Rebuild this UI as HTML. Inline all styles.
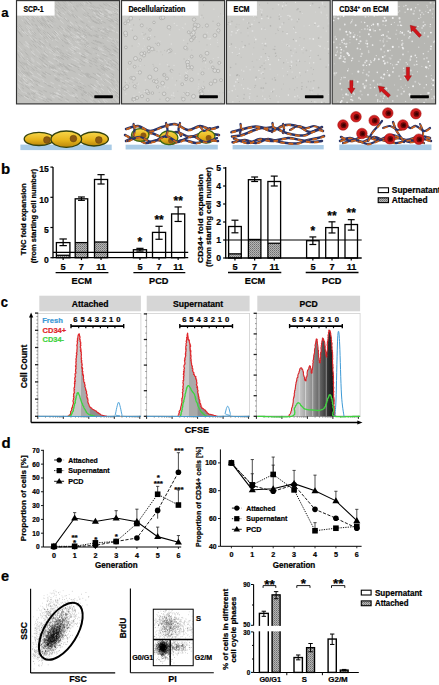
<!DOCTYPE html>
<html><head><meta charset="utf-8"><style>
html,body{margin:0;padding:0;background:#fff;overflow:hidden}
svg{display:block}
text{font-family:"Liberation Sans",sans-serif;stroke:currentColor;stroke-width:0.22px}
</style></head><body>
<svg width="439" height="685" viewBox="0 0 439 685">
<rect width="439" height="685" fill="#fff"/>
<defs>
<pattern id="hatch" width="2" height="2" patternUnits="userSpaceOnUse">
<rect width="2" height="2" fill="#b4b4b4"/><rect width="1" height="1" fill="#6e6e6e"/><rect x="1" y="1" width="1" height="1" fill="#8a8a8a"/>
</pattern>
<linearGradient id="cellg" x1="0" y1="0" x2="0" y2="1">
<stop offset="0" stop-color="#f7d64a"/><stop offset="0.55" stop-color="#e7b51c"/><stop offset="1" stop-color="#b9860c"/>
</linearGradient>
<radialGradient id="redc" cx="0.5" cy="0.5" r="0.5">
<stop offset="0" stop-color="#5a0000"/><stop offset="0.45" stop-color="#7a0a0a"/><stop offset="0.55" stop-color="#c41a1a"/><stop offset="1" stop-color="#d42020"/>
</radialGradient>
<filter id="noise1" x="0" y="0" width="1" height="1">
<feTurbulence type="fractalNoise" baseFrequency="0.9" numOctaves="2" seed="3" result="n"/>
<feColorMatrix type="matrix" values="0 0 0 0 0.5  0 0 0 0 0.5  0 0 0 0 0.5  0.6 0 0 0 -0.2" in="n" result="m"/>
<feComposite in="m" in2="SourceGraphic" operator="in"/>
</filter>
</defs>
<text x="1.30" y="16.80" font-size="13.2" font-weight="bold" fill="#000" color="#000" text-anchor="start">a</text>
<rect x="16.50" y="0.60" width="103.10" height="103.30" fill="#c3c3c0" stroke="none" stroke-width="1"/>
<path d="M48.9 15.3L52.0 18.9M25.3 42.4L28.8 46.5M111.0 63.8L114.7 66.4M73.2 40.1L78.3 43.2M27.2 58.0L29.4 60.3M32.3 49.9L34.1 51.9M23.7 10.1L26.1 12.6M44.8 38.9L48.2 42.3M84.9 39.3L87.8 40.8M85.0 52.5L89.2 54.6M31.9 10.7L34.4 13.6M111.9 61.1L115.4 63.4M108.1 76.7L110.9 78.9M36.2 49.5L39.8 53.1M100.0 48.9L104.3 51.0M18.2 80.3L22.0 83.6M84.4 54.2L88.2 56.0M105.0 6.9L107.8 8.5M93.3 51.8L97.3 53.8M30.4 12.6L33.1 15.7M113.7 11.7L116.8 13.2M106.5 28.3L108.8 29.5M95.9 8.9L100.6 11.9M57.7 92.5L61.9 94.6M42.5 80.9L47.7 83.9M115.2 98.2L118.6 102.2M21.4 19.3L23.7 21.8M44.5 66.6L47.3 68.6M107.3 75.9L110.8 78.7M24.8 4.5L28.2 7.9M54.6 46.3L56.8 48.0M78.8 69.1L82.6 71.0M24.2 92.1L27.1 94.0M54.1 92.4L59.3 94.9M29.5 82.8L33.0 85.3M99.5 12.6L104.5 15.4M92.2 86.4L95.1 88.4M107.9 94.5L111.0 97.6M40.5 26.1L43.4 29.5M68.5 79.8L73.4 82.2M59.2 31.4L63.2 35.0M102.4 98.1L104.8 100.4M38.5 14.9L42.3 19.5M83.4 93.6L86.2 95.4M61.4 72.4L64.6 74.0M61.3 11.9L63.2 13.9M21.1 4.6L23.1 6.4M52.2 33.5L56.5 37.5M45.8 73.0L49.7 75.4M97.7 14.2L101.4 16.3M92.2 26.1L94.6 27.4M105.2 99.6L107.6 102.0M90.9 85.3L94.9 88.0M61.0 26.2L64.9 29.7M19.7 73.3L23.9 77.2M80.8 40.1L84.2 42.0M60.5 16.6L62.5 18.7M47.5 61.4L51.4 64.1M20.4 56.3L23.8 60.1M25.8 44.6L28.6 47.8M105.4 65.8L109.8 68.7M102.0 99.8L105.6 103.4M105.3 17.7L110.0 20.1M71.1 58.7L76.1 61.3M77.8 44.2L81.6 46.3M29.7 22.9L32.8 26.6M110.5 74.3L113.1 76.4M24.9 66.5L27.2 68.6M62.8 84.9L67.2 87.1M108.0 15.9L110.3 17.1M77.9 16.4L82.6 20.0M19.4 14.1L22.7 17.5M27.8 21.5L29.7 23.7M111.2 91.3L114.8 94.9M99.1 64.3L102.1 66.0M68.4 10.4L71.4 13.3M69.7 21.9L74.0 25.4M35.8 76.6L40.7 79.9M110.5 24.5L113.3 25.8M65.1 100.0L69.0 102.2M105.7 75.3L108.9 77.7M18.5 25.8L21.9 29.6M115.2 19.4L118.6 21.3M32.0 30.8L34.5 33.8M69.3 35.2L73.0 37.8M32.8 89.9L36.8 92.3M40.1 14.3L42.8 17.6M65.5 54.6L70.3 57.3M29.6 98.6L32.0 100.0M98.0 48.3L102.6 50.7M30.8 67.8L34.6 71.0M27.3 19.1L29.0 21.1M73.8 92.9L77.4 94.9M38.4 16.2L40.1 18.2M17.5 66.8L21.0 71.1M62.6 94.5L65.6 96.0M43.0 15.5L46.7 19.9M85.0 92.3L88.1 94.4M62.2 8.8L65.8 12.7M40.8 93.3L44.5 95.2M75.9 35.3L79.6 37.6M116.4 39.2L118.6 40.4M72.0 88.1L75.6 90.0M101.9 64.5L106.8 67.5M110.3 6.9L114.2 9.0M83.8 30.7L87.7 33.0M95.6 16.3L100.3 19.1M22.4 73.5L25.1 75.8M88.1 20.9L90.4 22.4M20.0 70.7L23.3 73.8M51.0 93.9L56.3 96.5M94.2 87.5L97.8 90.1M67.5 54.0L71.3 56.1M26.5 25.0L30.0 29.1M40.5 45.1L43.2 47.7M75.4 77.5L77.9 78.8M76.6 61.7L78.9 62.9M23.5 43.7L26.3 46.9M78.9 81.6L83.8 84.3M36.5 42.6L40.4 46.7M111.1 68.4L114.6 70.9M75.8 35.8L80.9 38.9M116.2 58.3L118.6 60.6M31.1 52.3L34.0 55.4M78.2 82.0L80.6 83.3M52.3 17.7L54.6 20.2M19.8 72.8L22.0 74.9M41.2 85.8L44.5 87.6M59.8 77.0L62.5 78.4M108.8 67.7L112.5 70.3M27.3 76.9L31.1 79.9M74.9 24.7L78.7 27.5M20.9 90.5L23.8 92.6M36.1 55.4L37.9 57.2M81.4 8.2L85.3 11.4M89.4 100.1L92.9 103.0M34.2 89.9L38.0 92.1M106.7 57.3L111.4 60.1M113.0 20.3L116.8 22.1M63.0 13.0L65.0 15.1M33.3 75.4L36.3 77.6M60.1 80.2L63.9 82.0M65.7 49.7L67.9 51.1M55.3 88.3L59.5 90.3M18.1 45.7L22.0 50.2M74.1 59.8L76.7 61.1M106.5 28.8L109.5 30.3M92.5 63.9L95.4 65.4M89.6 96.9L93.3 99.7M17.5 27.3L20.1 30.8M114.3 40.6L118.6 43.4M31.6 63.6L34.5 66.2M106.7 40.2L109.6 41.6M111.9 14.9L115.1 16.4M103.2 100.2L105.7 102.7M107.0 15.9L111.5 18.2M114.6 4.5L117.5 6.1M31.1 74.5L34.5 77.1M68.4 84.6L73.7 87.3M43.5 97.9L46.4 99.3M57.3 56.6L60.4 58.7M115.5 82.9L118.6 86.2M100.1 78.7L104.7 82.1M70.5 31.9L75.4 35.3M74.3 57.7L79.7 60.4M98.1 47.0L102.4 49.1M29.2 16.1L31.4 18.7M114.3 85.6L117.5 88.8M54.2 53.4L57.7 55.8M56.1 13.6L59.5 17.4M83.4 75.1L86.8 77.0M93.7 12.9L96.4 14.7M100.7 15.1L104.2 17.0M71.9 52.2L75.4 54.0M102.3 27.0L105.2 28.4M36.1 92.9L40.0 95.0M104.2 6.8L107.6 8.8M68.3 47.7L71.0 49.4M86.9 45.4L90.5 47.1M65.3 1.8L68.8 5.7M108.6 4.1L112.6 6.4M50.3 95.4L54.6 97.5M28.0 16.7L30.6 19.6M52.8 67.6L55.2 69.0M67.1 90.5L69.4 91.6M24.9 17.1L28.5 21.2M40.6 78.4L44.2 80.6M98.7 8.3L101.8 10.3M36.2 93.3L40.5 95.7M29.1 83.2L33.9 86.5M46.0 97.1L49.9 99.1M73.1 93.9L78.0 96.7M17.6 49.9L19.3 51.9M66.2 70.6L68.5 71.7M30.8 59.2L34.1 62.3M78.6 24.7L82.9 27.6M48.6 84.4L52.3 86.3M101.5 13.1L105.0 15.1M75.7 36.4L80.8 39.5M80.6 97.4L84.5 100.0M85.1 93.7L87.4 95.2M47.4 36.4L50.6 39.5M70.0 3.2L73.6 6.9M111.4 41.8L115.7 44.0M91.7 8.0L96.4 11.2M88.7 7.3L91.3 9.2" stroke="#d4d4d2" stroke-width="0.7" fill="none"/>
<path d="M98.3 10.2L102.1 12.6M72.2 14.0L75.2 16.6M86.0 25.2L89.9 27.6M65.9 35.1L69.2 37.6M61.1 87.8L66.3 90.4M28.0 61.1L30.0 63.1M111.9 54.0L114.5 55.6M52.1 22.7L55.1 25.9M95.7 48.5L98.5 49.9M63.4 34.5L66.7 37.1M66.5 77.6L69.8 79.2M105.6 66.8L110.1 69.7M58.2 92.8L62.0 94.7M60.5 62.2L64.2 64.3M48.8 73.6L51.0 74.9M62.2 71.4L65.6 73.2M43.7 13.2L45.3 15.1M81.2 55.4L86.2 57.8M22.2 67.2L24.9 69.9M41.7 96.9L47.0 99.5M25.9 82.8L28.3 84.6M89.3 65.7L91.7 66.9M61.8 6.9L65.7 11.1M49.1 65.8L53.3 68.5M81.4 29.9L83.6 31.3M29.0 65.4L31.0 67.3M91.3 42.4L94.8 44.2M44.5 98.1L47.1 99.4M113.7 50.3L116.1 51.7M86.8 12.4L89.0 14.0M110.9 20.4L114.0 21.9M35.7 80.3L40.0 83.1M65.4 92.4L67.8 93.6M31.6 40.1L33.7 42.6M25.6 71.5L28.0 73.6M35.5 24.2L37.7 26.9M39.8 5.3L42.8 8.8M98.3 42.1L101.7 43.7M47.5 20.4L51.0 24.3M64.2 41.3L68.6 44.3M25.6 62.9L28.3 65.6M80.1 86.5L84.1 88.8M61.7 45.1L63.8 46.6M115.0 47.5L118.5 49.6M94.6 52.6L97.0 53.7M77.6 26.2L80.6 28.3M44.2 82.8L46.8 84.3M112.6 48.9L116.5 51.2M50.1 8.9L52.2 11.4M22.2 57.4L24.6 60.0M52.2 22.8L55.3 26.1M57.3 27.5L59.1 29.3M105.4 60.3L109.3 62.6M32.7 92.4L35.2 93.9M80.9 97.6L83.6 99.4M49.0 23.8L52.8 28.0M95.0 40.2L99.0 42.2M86.6 75.0L89.0 76.3M91.7 20.5L96.8 23.4M73.9 29.6L77.2 31.9M112.4 59.6L117.2 62.9M53.8 30.9L56.7 33.7M110.4 13.7L114.5 15.7M33.2 44.0L36.7 47.8M66.8 27.1L70.8 30.4M90.5 91.6L93.8 94.0M74.3 65.5L79.3 67.9M41.6 42.9L44.5 45.8M31.7 78.5L36.5 81.8M107.6 63.5L111.7 66.2M42.9 22.5L46.2 26.4M37.8 7.9L40.1 10.5M50.8 15.1L54.5 19.4M26.1 66.6L28.8 69.2M56.3 56.4L59.6 58.5M95.2 91.5L98.8 94.4M35.6 4.5L37.4 6.4M81.1 94.7L83.4 96.1M88.8 2.3L90.8 3.9M44.1 62.8L48.0 65.6M45.1 13.9L48.7 18.2M30.4 98.2L35.0 100.8M39.1 58.2L43.5 61.8M25.6 20.4L29.2 24.6M58.3 95.5L63.0 97.8M41.9 56.9L45.6 59.9M58.9 25.8L60.8 27.6M75.3 21.4L77.4 23.1M18.3 60.3L21.3 63.6M98.5 86.0L100.7 87.6M20.3 64.9L22.6 67.4M43.2 54.4L47.6 58.0M28.0 59.4L32.1 63.5M73.7 27.9L77.9 30.9M20.1 34.2L22.1 36.6M22.1 2.7L25.3 5.7M99.2 36.3L103.8 38.5M77.3 85.7L82.0 88.3M58.0 10.9L60.7 13.8M74.0 50.4L79.2 53.2M31.5 86.0L34.4 87.9M45.5 35.9L48.1 38.6M57.0 50.7L61.0 53.4M47.4 98.7L52.3 101.0M67.4 19.8L69.7 21.9M86.3 2.3L88.2 3.9M17.5 30.4L20.2 34.5M18.4 3.9L20.7 6.0M72.3 87.8L77.2 90.4M74.6 96.9L78.1 99.0M40.9 23.1L42.8 25.5M113.9 7.6L118.2 9.9M75.4 37.9L78.2 39.7M67.2 12.8L70.9 16.3M48.9 67.5L51.4 69.0M70.7 63.7L75.9 66.2M116.6 62.6L118.6 64.5M67.5 68.9L70.4 70.4M61.0 58.0L64.1 59.8M24.2 71.8L28.6 75.7M26.9 72.7L29.6 75.0M39.0 38.3L40.7 40.2M25.2 32.8L27.8 35.9M106.8 86.6L111.1 90.5M84.7 46.1L87.2 47.4M53.6 59.0L56.9 61.2M69.5 25.8L72.8 28.5M61.7 54.9L66.0 57.4M96.3 14.3L99.9 16.5M88.3 77.0L90.8 78.4M99.0 13.3L102.3 15.2M111.9 73.4L113.9 75.0M52.0 36.3L54.7 38.8M52.4 70.7L54.6 72.0M103.2 67.5L107.7 70.4M23.8 62.4L27.1 65.7M44.1 50.9L46.7 53.1M67.3 64.7L70.6 66.4M55.1 77.9L60.2 80.5M23.5 30.8L25.8 33.5M75.2 8.9L77.5 11.1M38.8 40.8L41.0 43.1M103.1 3.6L106.6 5.8M32.6 2.7L34.8 5.0M82.2 61.4L85.4 63.0M81.0 55.9L85.5 58.0M110.6 63.6L113.0 65.3M66.9 56.8L69.6 58.3M46.4 100.7L49.3 102.1M69.5 1.0L71.7 3.5M106.5 64.6L109.3 66.4M77.7 68.9L81.0 70.5M106.8 48.1L111.2 50.5M109.0 53.8L112.7 56.0M64.8 67.0L69.0 69.1M103.7 15.7L106.9 17.4M114.4 19.7L118.3 21.6M89.9 2.0L92.1 3.7M44.9 71.6L49.4 74.5M21.8 87.4L24.0 89.1M36.9 28.6L39.2 31.4M92.4 77.0L97.3 80.0M97.3 73.3L100.7 75.5M115.2 91.0L118.6 94.7M59.2 63.7L61.7 65.1M20.1 79.9L22.4 81.9M69.5 34.2L71.7 35.8M90.4 83.8L94.8 86.7M32.9 38.8L36.1 42.4M47.0 31.9L50.8 35.8M35.7 84.2L38.3 85.9M83.6 99.0L87.7 101.9M96.1 36.1L98.8 37.4M97.3 7.2L100.3 9.1M43.4 90.2L47.1 92.1M21.0 28.2L23.8 31.5M31.2 67.5L35.1 70.8M78.2 28.7L80.4 30.3M44.2 6.4L46.8 9.5M113.2 54.2L116.0 55.9M95.0 21.6L99.8 24.2M88.8 59.6L92.3 61.4M90.6 95.1L95.1 98.6M99.4 64.9L103.8 67.5" stroke="#aeaeab" stroke-width="0.7" fill="none"/>
<path d="M38.2 9.1L40.8 12.1M28.1 30.8L31.5 34.9M71.9 7.3L73.8 9.2M75.1 46.5L78.2 48.2M22.8 77.9L25.0 79.8M55.9 92.8L59.7 94.6M99.7 19.4L102.7 21.1M58.2 37.5L61.7 40.3M23.1 7.6L25.4 9.9M64.0 70.2L67.8 72.2M86.1 27.1L89.3 29.1M49.2 22.3L52.8 26.3M96.6 82.4L100.8 85.3M112.1 37.7L115.1 39.2M99.9 13.0L103.2 15.0M55.9 95.6L60.4 97.8M81.9 36.0L85.7 38.1M68.9 94.4L72.5 96.3M31.3 51.1L35.1 55.0M77.6 78.9L80.3 80.3M29.8 88.7L34.8 91.9M90.4 9.8L95.0 13.0M79.2 52.6L81.7 53.8M69.6 24.9L71.9 26.8M69.6 21.3L72.7 23.9M17.9 73.8L21.1 76.8M47.7 22.3L49.9 24.8M23.8 75.0L26.4 77.2M48.6 3.3L52.2 7.6M20.9 3.0L23.5 5.4M24.1 96.3L28.8 99.2M78.4 74.2L83.2 76.6M98.3 59.1L103.2 61.8M42.1 8.1L44.4 10.8M78.5 65.7L81.0 66.9M99.0 29.3L104.1 31.9M21.4 73.9L24.5 76.6M116.5 46.2L118.6 47.8M25.5 78.9L27.5 80.5M105.4 66.0L107.7 67.5M23.7 50.4L25.8 52.8M27.2 62.8L30.6 66.0M116.6 93.8L118.6 96.5M51.9 96.9L54.5 98.2M96.1 74.4L100.6 77.3M34.0 13.7L36.7 16.9M53.9 75.0L56.7 76.6M35.7 7.2L38.0 9.7M115.3 11.3L118.6 13.2M36.0 7.9L38.8 11.1M26.9 60.0L30.2 63.3M56.8 89.4L60.5 91.2M34.2 35.6L36.2 38.0M108.8 11.9L112.5 13.9M106.2 62.6L110.8 65.5M101.5 84.0L104.0 85.9M28.7 24.8L31.9 28.6M35.5 99.2L39.3 101.2M67.6 33.1L69.7 34.7M29.6 36.6L33.1 40.7M30.0 94.8L32.9 96.5M21.1 53.7L23.7 56.6M71.8 95.4L74.5 96.8M18.4 26.8L20.6 29.3M51.2 9.7L54.4 13.4M42.5 95.6L45.6 97.2M65.9 38.3L70.5 41.5M81.1 35.9L84.3 37.8M39.5 33.6L42.7 37.2M76.9 36.0L79.8 37.7M41.2 96.1L46.6 98.8M112.6 11.3L116.0 13.0M95.9 74.3L99.3 76.4M40.5 40.2L44.0 43.8M101.8 52.7L106.1 55.0M107.4 11.8L110.4 13.4M51.0 85.8L54.7 87.6M67.8 41.5L72.7 44.6M37.5 12.9L40.9 16.9M63.5 57.4L66.4 59.0M63.2 30.0L66.6 32.9M93.7 47.8L98.4 50.1M98.9 90.9L102.9 94.3M64.3 91.4L68.7 93.7M97.2 10.3L100.7 12.5M22.2 31.1L23.8 33.0M37.6 67.5L40.9 69.9M107.9 66.5L111.1 68.6M83.4 60.1L88.7 62.7M87.8 24.9L92.2 27.5M108.1 37.4L112.7 39.7M24.4 31.2L27.6 35.0M53.1 58.4L56.5 60.6M31.0 80.6L34.0 82.8M48.8 60.9L53.7 64.2M76.5 31.8L79.8 34.0M53.7 69.3L57.7 71.6M70.4 49.5L73.7 51.4M47.7 6.3L50.2 9.2M48.9 51.6L51.4 53.6M73.6 36.5L78.1 39.3M113.3 26.8L115.6 28.0M56.1 45.9L58.6 47.8M21.8 14.6L25.3 18.4M65.0 17.7L67.4 20.0M108.0 89.8L111.0 92.6M109.5 86.7L113.5 90.6M27.5 46.1L30.3 49.2M113.5 6.4L118.5 9.0M72.8 84.9L75.3 86.2M113.7 44.4L116.7 46.0M109.0 10.9L112.2 12.6M17.5 83.8L19.8 86.6M74.0 14.8L76.4 16.8M104.9 73.6L109.1 76.6M36.7 61.7L40.5 64.8M25.4 41.0L28.7 44.9M40.9 9.1L43.9 12.6M57.1 14.0L60.1 17.4M30.9 57.5L34.6 61.1M83.3 2.2L85.5 4.1M27.2 13.2L28.9 15.1M111.6 30.0L114.8 31.5M106.2 9.3L110.2 11.5M44.9 45.8L48.6 49.1M38.3 96.8L42.8 99.1M58.4 68.1L61.0 69.5M43.0 63.7L46.8 66.5M54.5 30.5L57.7 33.5M78.8 53.2L83.6 55.6M85.2 59.2L87.9 60.5M103.0 95.8L105.0 97.7M19.1 88.0L21.3 89.7M99.2 36.4L102.2 37.9M83.2 35.4L85.8 36.9M25.5 26.9L29.0 31.0M71.3 47.4L75.8 50.0M67.0 23.4L70.1 26.1M56.0 9.4L58.1 11.8M107.5 80.9L111.4 84.2M23.5 31.9L25.7 34.4M93.4 88.6L97.8 91.9M34.3 11.4L38.0 15.7M88.3 5.2L90.4 6.9M103.5 59.3L107.7 61.8M101.0 78.6L104.4 81.1M33.8 16.4L37.2 20.4M51.2 9.5L54.3 13.1M29.8 71.2L33.5 74.2M86.7 1.0L90.5 4.2M110.1 36.4L113.3 37.9M71.5 77.4L74.3 78.7M75.7 46.9L80.2 49.4M28.3 29.5L30.7 32.4M94.1 84.9L97.0 87.0M111.9 53.1L116.7 56.0M25.5 4.6L28.4 7.4M22.1 0.9L26.4 4.9M68.7 64.1L73.5 66.6M40.8 44.9L43.3 47.3M38.1 84.5L42.2 86.9M26.7 83.9L29.8 86.2M30.6 78.8L32.8 80.4M20.9 4.5L24.5 7.9M111.4 2.5L114.6 4.3M52.7 53.8L55.6 55.9M48.0 34.1L50.9 37.0M108.6 91.3L110.6 93.2M95.9 80.4L98.7 82.2M104.8 78.9L108.1 81.6M97.9 100.6L100.1 102.7M71.6 94.8L74.8 96.6M45.2 51.3L47.4 53.1M23.6 82.2L27.1 85.0M50.1 68.6L54.8 71.4M43.6 52.5L48.1 56.2M53.6 15.8L55.6 18.1M56.4 92.6L61.6 95.2M19.2 2.4L22.9 5.7M49.0 48.8L53.4 52.3M47.6 61.4L52.4 64.7M96.1 15.8L101.0 18.6M22.4 10.9L26.5 15.1M51.0 21.3L55.0 25.7M56.5 32.5L59.4 35.2M55.2 39.3L58.3 41.8M33.3 36.8L36.5 40.4M85.7 46.0L89.4 47.9M51.1 39.2L53.0 41.0M88.3 28.6L91.5 30.4M59.7 61.9L62.6 63.6M54.2 58.3L59.0 61.4M73.7 2.0L76.6 5.1M76.9 41.4L81.3 43.8M66.1 1.6L69.4 5.3M96.9 54.8L99.6 56.1M49.1 85.4L51.8 86.8M28.3 84.0L30.6 85.7M20.4 52.3L22.3 54.4M58.3 85.1L60.8 86.3M100.7 88.0L103.9 90.7M43.1 11.4L45.2 13.9M53.4 20.3L56.1 23.2M64.9 80.1L68.9 82.1M105.2 9.3L109.1 11.5M50.4 82.1L54.1 84.0M84.4 16.0L87.5 18.2M22.8 78.6L26.9 82.0M57.4 54.9L60.2 56.7M84.3 4.4L88.4 7.9M55.9 34.3L58.1 36.3M17.8 86.4L20.0 88.3M71.6 45.5L76.0 48.1M113.8 78.5L116.6 81.0M99.1 71.6L103.9 74.7M56.5 50.9L59.5 53.0M37.3 73.4L41.6 76.4M76.5 51.8L80.6 54.0M113.4 88.4L116.7 91.7M60.1 20.0L63.7 23.5M116.1 32.0L118.4 33.2M95.1 48.4L100.0 50.8M38.1 26.2L39.8 28.2" stroke="#dadad8" stroke-width="0.7" fill="none"/>
<path d="M65.4 53.9L70.0 56.5M50.5 35.6L53.6 38.5M22.3 70.5L25.8 73.8M110.1 36.5L114.2 38.6M60.6 55.5L65.4 58.4M34.6 23.9L36.7 26.5M56.2 41.0L58.4 42.8M101.5 99.9L104.5 102.8M24.6 95.3L28.8 98.0M115.4 3.7L118.6 5.8M96.4 15.3L101.1 18.0M36.6 28.1L39.3 31.3M109.2 90.2L111.5 92.4M116.0 84.2L118.2 86.3M106.4 19.0L111.0 21.3M100.6 68.0L105.5 71.1M25.2 6.0L28.7 9.5M67.9 25.3L71.0 27.9M99.3 71.4L103.3 73.9M52.5 0.6L54.9 3.6M81.3 72.3L86.3 74.9M25.5 52.7L28.9 56.5M39.5 65.8L42.7 68.2M113.9 11.2L116.8 12.7M45.5 52.3L48.7 55.0M115.0 94.7L116.8 96.6M86.0 23.7L90.8 26.6M55.5 15.8L59.4 20.1M56.8 73.8L60.3 75.6M106.5 30.1L110.0 31.8M55.8 88.4L58.3 89.6M95.4 44.2L97.8 45.3M41.6 74.6L45.6 77.2M81.8 30.9L85.6 33.2M37.4 27.1L40.7 31.0M43.8 25.4L46.4 28.3M29.0 42.6L32.4 46.5M110.4 72.7L114.1 75.6M112.6 63.4L116.1 65.9M111.7 64.8L116.3 68.1M69.5 56.1L71.8 57.3M87.4 32.1L89.7 33.4M86.0 72.9L89.3 74.7M31.3 6.2L33.1 8.2M54.5 78.0L57.6 79.7M108.4 20.5L111.7 22.1M19.3 41.0L22.7 45.1M19.0 23.8L21.8 26.9M112.0 39.9L115.0 41.4M94.6 60.6L98.4 62.6M64.9 55.7L67.5 57.2M36.8 41.9L40.9 46.3M66.8 23.4L70.8 26.9M31.8 53.7L35.2 57.1M30.0 6.1L32.0 8.3M47.0 85.1L49.4 86.4M83.2 33.5L86.5 35.4M71.5 63.9L74.7 65.5M94.7 47.1L97.5 48.5M92.7 5.3L97.1 8.4M67.8 65.2L72.0 67.3M78.6 100.0L82.7 102.8M87.5 0.9L91.7 4.4M87.3 27.5L91.2 29.7M111.2 75.5L114.0 77.8M104.8 7.2L109.6 10.0M78.4 3.8L81.3 6.4M79.2 36.6L82.5 38.5M27.5 92.2L30.4 94.1M62.6 1.2L66.2 5.3M85.3 51.0L89.5 53.1M101.3 68.7L105.3 71.2M59.5 26.3L63.1 29.7M106.4 34.2L108.7 35.4M44.6 41.1L46.4 42.9M113.3 99.2L117.2 103.6M51.1 64.5L55.6 67.3M43.6 38.4L46.0 40.8M52.3 66.5L55.4 68.4M27.1 15.0L29.3 17.5M36.0 70.0L39.5 72.6M84.0 12.8L86.3 14.6M32.5 32.2L35.7 35.9M83.0 85.1L86.2 87.0M103.9 35.8L106.8 37.2M67.9 83.3L72.6 85.6M64.4 42.4L66.8 44.1M89.1 9.1L93.0 11.8M79.3 42.9L82.7 44.7M109.6 60.0L111.8 61.3M99.6 5.3L104.0 8.1M93.7 96.0L98.1 99.6M31.4 23.1L33.2 25.2M100.7 34.8L103.4 36.1M60.5 51.6L64.1 53.9M49.1 84.9L54.0 87.5M45.6 10.8L48.8 14.7M88.6 5.6L90.9 7.4M110.8 2.7L115.0 5.0M31.2 68.8L34.1 71.2M39.2 42.7L41.9 45.5M59.7 51.6L64.4 54.7M81.1 20.7L85.1 23.5M104.0 45.4L106.4 46.6M25.2 86.0L29.8 89.3M77.0 38.9L80.6 41.0M72.1 39.5L75.1 41.4M108.4 78.0L111.8 80.7M67.7 52.5L71.9 54.9M62.9 4.3L66.1 7.9M32.2 19.3L34.7 22.3M98.1 99.1L102.2 102.9M26.6 17.4L29.4 20.7M62.0 39.8L64.1 41.4M101.0 32.2L106.1 34.7M46.0 60.6L50.8 64.0M38.3 30.8L42.0 35.0M56.2 37.1L59.0 39.5M49.1 65.6L54.1 68.7M32.3 35.4L35.6 39.2M79.4 59.3L82.6 60.9M110.8 100.1L113.8 103.5M25.1 85.7L29.2 88.7M98.1 41.1L101.4 42.7M105.6 3.3L109.9 5.8M91.0 9.2L95.1 12.0M84.9 74.6L89.6 77.1M23.0 1.0L27.4 5.1M42.1 64.8L46.8 68.2M40.5 4.4L43.4 7.8M107.1 95.0L110.1 98.0M31.2 23.6L33.2 25.9M106.9 17.6L110.1 19.2M96.6 68.4L100.4 70.7M56.1 48.7L58.5 50.5M79.8 74.0L82.5 75.4M17.5 87.8L20.3 90.4M51.1 47.0L55.7 50.6M84.8 35.1L87.1 36.4M95.7 9.5L99.7 12.0M92.6 9.5L97.0 12.5M68.9 35.7L72.9 38.5M27.7 74.5L29.8 76.2M84.0 36.3L86.9 37.9M21.1 78.1L24.1 80.7M91.5 47.6L95.0 49.3M20.7 51.2L22.9 53.7M108.6 26.4L112.8 28.5M56.6 56.5L60.7 59.2M75.9 100.6L78.7 102.4M48.2 36.3L52.2 40.1M62.0 9.4L64.6 12.2M43.0 44.3L46.1 47.3M78.7 38.5L81.0 39.8M54.0 4.2L57.3 8.1M83.4 34.3L85.8 35.6M26.8 56.3L30.8 60.4M57.2 47.7L61.8 51.0M109.0 30.6L112.3 32.2M64.7 5.7L68.0 9.3M47.4 25.4L50.0 28.3M36.5 65.4L41.0 69.0M99.1 4.6L101.8 6.4M109.1 14.6L111.8 16.0M39.3 55.6L41.4 57.5M31.7 19.0L34.1 21.8M66.4 54.9L68.9 56.3M17.5 94.9L20.7 97.2M116.3 79.7L118.6 82.6M74.5 81.4L78.2 83.3M40.3 59.4L43.8 62.2M25.2 27.2L28.4 31.0M38.4 89.9L42.5 92.1M82.9 8.1L86.5 11.1M43.5 30.3L45.9 32.9M110.9 82.0L112.9 83.8M58.0 98.7L62.2 100.9M52.3 32.1L56.1 35.8M42.9 20.2L46.6 24.6M101.7 42.6L104.1 43.8M103.6 10.5L107.7 12.8M87.2 14.9L91.4 17.8M101.4 67.6L105.2 70.0M29.7 29.3L31.3 31.3M103.8 14.0L108.1 16.3M38.0 45.9L41.7 49.6M76.0 3.7L79.2 6.7M24.2 48.7L26.1 50.9M86.0 43.5L88.4 44.7M101.6 54.0L104.6 55.6" stroke="#b4b4b1" stroke-width="0.7" fill="none"/>
<path d="M114.3 12.9L117.9 14.7M92.1 58.0L97.0 60.6M102.7 29.0L106.3 30.7M23.8 21.4L26.3 24.2M47.6 14.5L50.9 18.4M111.2 45.3L116.3 48.1M64.0 18.0L67.7 21.7M99.2 22.3L102.2 23.9M58.0 13.0L61.9 17.2M63.4 73.5L67.4 75.5M67.2 25.4L70.5 28.2M83.7 44.1L86.6 45.6M95.3 90.8L97.7 92.6M115.8 41.4L118.6 43.3M31.0 92.8L34.9 95.1M42.4 17.9L46.1 22.3M83.7 29.3L86.6 31.1M92.7 73.0L96.3 75.1M73.9 2.3L75.8 4.2M93.1 99.9L96.5 102.8M23.7 50.4L27.6 54.9M74.6 14.8L77.9 17.6M48.5 85.4L50.8 86.6M113.6 44.7L116.8 46.5M29.5 47.9L32.0 50.6M107.3 50.9L110.1 52.5M41.0 17.8L43.9 21.2M39.2 92.9L43.4 95.1M17.5 53.5L20.1 58.0M39.4 22.2L42.8 26.1M81.5 53.6L85.2 55.4M82.8 39.0L86.2 40.8M41.3 75.2L46.1 78.2M42.7 72.7L45.8 74.6M77.3 33.8L80.3 35.7M94.5 30.6L97.6 32.2M101.1 92.6L103.1 94.3M20.9 35.0L22.6 37.0M86.1 42.2L89.2 43.8M58.2 5.2L61.5 9.1M57.8 1.8L61.1 5.8M20.9 95.0L23.4 96.7M47.6 25.5L50.2 28.4M56.8 7.3L59.3 10.1M20.1 13.0L24.1 17.1M85.2 73.3L88.1 74.9M56.9 64.8L59.9 66.5M41.1 53.8L45.3 57.4M42.5 100.0L46.5 102.1M90.3 5.2L94.6 8.4M46.5 97.4L51.5 99.8M90.0 75.9L92.8 77.5M62.1 7.2L64.1 9.5M97.9 18.6L101.0 20.3M43.0 65.5L45.4 67.3M84.2 92.1L89.1 95.4M59.8 73.4L63.8 75.5M29.4 79.8L33.2 82.6M49.0 43.5L50.9 45.2M108.8 5.6L113.4 8.1M93.2 61.2L96.8 63.2M102.9 46.0L106.9 48.0M32.4 16.3L34.6 18.9M87.7 52.2L91.9 54.3M88.9 62.3L93.1 64.5M83.6 49.0L88.3 51.3M58.8 64.6L63.0 66.9M82.7 90.0L87.1 92.8M116.9 68.6L118.6 70.6M80.0 3.3L83.4 6.4M19.7 72.2L23.1 75.4M71.9 92.4L75.0 94.1M58.0 56.0L62.6 58.8M52.1 50.3L55.0 52.5M95.7 34.3L98.9 35.9M95.2 57.4L98.2 59.0M38.5 12.5L41.2 15.7M112.2 83.9L115.5 87.1M110.9 79.0L114.3 81.9M97.7 29.8L99.9 30.9M35.7 18.2L38.8 22.0M54.1 47.5L56.3 49.2M65.2 57.9L68.2 59.6M116.1 23.6L118.5 24.8M63.6 38.0L66.7 40.3M100.5 63.8L104.1 65.9M49.3 24.3L51.3 26.5M71.3 14.6L75.5 18.3M52.8 4.6L55.3 7.6M57.7 73.5L60.0 74.8M103.9 27.9L106.7 29.3M28.0 71.7L32.1 75.2M17.9 93.1L22.0 96.1M94.3 35.1L97.3 36.6M87.7 85.1L91.5 87.5M105.4 31.5L109.1 33.3M55.3 59.9L57.4 61.3M32.7 96.3L35.8 98.1M64.9 28.6L69.5 32.4M60.3 38.7L62.9 40.7M48.0 85.1L52.8 87.6M18.7 25.5L22.4 29.8M59.4 63.0L64.7 65.9M86.0 76.0L88.5 77.3M34.2 66.5L36.9 68.7M51.9 18.5L55.9 22.8M63.2 35.2L66.3 37.7M110.1 18.8L113.5 20.5M99.8 57.8L104.2 60.2M84.8 4.6L87.6 6.9M25.3 95.6L28.7 97.7M20.5 70.4L24.3 74.1M71.4 26.1L73.5 27.8M86.9 46.2L89.5 47.4M79.9 63.5L85.1 66.0M48.9 18.4L52.5 22.5M39.2 13.4L42.9 17.8M102.0 79.5L105.2 81.9M23.4 5.8L27.0 9.3M78.9 82.5L81.2 83.8M77.1 30.5L80.9 32.9M64.5 65.9L67.7 67.6M78.2 88.1L82.1 90.3M27.2 93.2L31.4 95.8M96.2 19.4L100.1 21.6M103.5 54.7L107.8 57.0M75.9 5.3L78.1 7.4M89.0 34.2L92.6 36.1M93.4 64.2L97.6 66.4M84.0 31.1L88.4 33.7M87.5 34.3L91.8 36.6M88.0 92.6L92.4 95.8M80.7 93.4L83.4 95.1M19.0 31.9L22.1 35.5M21.9 61.6L25.4 65.2M41.7 71.7L46.0 74.6M42.2 56.9L44.4 58.7M114.3 50.7L118.3 53.1M39.5 20.3L42.8 24.3M94.6 48.5L99.8 51.0M74.6 89.5L77.4 91.1M49.7 92.7L54.2 95.0M86.7 74.2L89.1 75.5M89.9 28.5L92.6 30.1M49.3 4.6L51.9 7.7M70.3 69.7L75.6 72.3M63.6 65.8L67.2 67.7M51.6 6.2L55.5 10.7M82.3 93.0L86.7 95.8M52.7 67.2L56.4 69.4M91.9 15.7L96.0 18.3M17.5 26.3L19.6 29.7M102.2 21.3L105.7 23.1M72.8 5.8L76.2 9.2M43.1 32.1L45.4 34.6M86.7 14.5L91.4 17.8M65.7 68.3L70.0 70.5M111.1 42.3L115.3 44.6M45.9 23.6L48.9 27.0M87.2 73.1L90.3 74.8M56.0 3.8L58.4 6.8M116.3 94.3L118.6 97.6M71.1 9.8L73.2 11.9M33.8 35.4L36.6 38.6M90.1 18.5L94.5 21.3M41.6 58.0L43.6 59.7M20.4 62.0L23.8 65.6M79.8 20.5L83.6 23.3M94.6 9.9L98.8 12.6M54.9 79.2L59.6 81.6M99.4 42.0L101.9 43.2M82.7 91.3L86.1 93.5M104.2 48.6L107.7 50.4M62.5 34.5L65.1 36.6M56.4 47.8L58.5 49.4M62.0 82.2L65.0 83.7M82.6 14.0L86.7 17.0M89.8 76.3L92.1 77.6M64.4 0.5L68.2 4.9M115.8 18.4L118.6 20.4M65.7 98.6L69.0 100.4M34.2 32.2L36.0 34.2M49.0 44.9L51.2 46.8M66.9 42.0L69.4 43.7M52.4 92.8L56.3 94.7M20.4 83.3L23.9 86.1M92.9 40.2L98.1 42.7M83.8 91.4L86.3 92.9M52.8 71.3L55.2 72.6M27.5 22.7L30.6 26.2M97.5 27.9L100.9 29.7M97.1 96.9L99.9 99.3M50.9 19.5L53.5 22.4M93.2 20.8L97.6 23.4M43.3 36.4L45.5 38.7M92.9 35.1L97.8 37.5M93.1 47.8L98.5 50.4" stroke="#b0b0ad" stroke-width="0.7" fill="none"/>
<rect x="17.10" y="0.60" width="37.50" height="15.00" fill="#fff" stroke="none" stroke-width="1"/>
<rect x="16.50" y="0.60" width="103.10" height="103.30" fill="none" stroke="#333" stroke-width="1.15"/>
<rect x="94.30" y="95.20" width="18.60" height="3.00" fill="#000" stroke="none" stroke-width="1" rx="0.6"/>
<rect x="121.50" y="0.60" width="103.10" height="103.30" fill="#cfcfcc" stroke="none" stroke-width="1"/>
<circle cx="193.5" cy="96.4" r="2.0" fill="#dadad8" stroke="#a4a4a1" stroke-width="0.6"/>
<circle cx="166.9" cy="78.5" r="1.6" fill="#dadad8" stroke="#a4a4a1" stroke-width="0.6"/>
<circle cx="203.3" cy="87.7" r="1.4" fill="#dadad8" stroke="#a4a4a1" stroke-width="0.6"/>
<circle cx="125.8" cy="35.0" r="1.7" fill="#dadad8" stroke="#a4a4a1" stroke-width="0.6"/>
<circle cx="161.3" cy="17.8" r="1.9" fill="#dadad8" stroke="#a4a4a1" stroke-width="0.6"/>
<circle cx="200.8" cy="56.0" r="1.3" fill="#dadad8" stroke="#a4a4a1" stroke-width="0.6"/>
<circle cx="210.8" cy="61.9" r="1.3" fill="#dadad8" stroke="#a4a4a1" stroke-width="0.6"/>
<circle cx="155.9" cy="69.5" r="1.9" fill="#dadad8" stroke="#a4a4a1" stroke-width="0.6"/>
<circle cx="171.5" cy="70.7" r="1.4" fill="#dadad8" stroke="#a4a4a1" stroke-width="0.6"/>
<circle cx="148.1" cy="93.1" r="1.6" fill="#dadad8" stroke="#a4a4a1" stroke-width="0.6"/>
<circle cx="134.6" cy="66.7" r="1.4" fill="#dadad8" stroke="#a4a4a1" stroke-width="0.6"/>
<circle cx="143.9" cy="55.3" r="1.7" fill="#dadad8" stroke="#a4a4a1" stroke-width="0.6"/>
<circle cx="186.3" cy="76.4" r="1.6" fill="#dadad8" stroke="#a4a4a1" stroke-width="0.6"/>
<circle cx="131.1" cy="77.9" r="1.3" fill="#dadad8" stroke="#a4a4a1" stroke-width="0.6"/>
<circle cx="170.2" cy="50.6" r="1.8" fill="#dadad8" stroke="#a4a4a1" stroke-width="0.6"/>
<circle cx="193.8" cy="37.1" r="1.8" fill="#dadad8" stroke="#a4a4a1" stroke-width="0.6"/>
<circle cx="191.7" cy="56.6" r="1.4" fill="#dadad8" stroke="#a4a4a1" stroke-width="0.6"/>
<circle cx="212.8" cy="67.3" r="1.3" fill="#dadad8" stroke="#a4a4a1" stroke-width="0.6"/>
<circle cx="147.7" cy="99.9" r="1.5" fill="#dadad8" stroke="#a4a4a1" stroke-width="0.6"/>
<circle cx="162.6" cy="83.2" r="1.9" fill="#dadad8" stroke="#a4a4a1" stroke-width="0.6"/>
<circle cx="186.1" cy="79.3" r="1.3" fill="#dadad8" stroke="#a4a4a1" stroke-width="0.6"/>
<circle cx="133.6" cy="99.0" r="1.9" fill="#dadad8" stroke="#a4a4a1" stroke-width="0.6"/>
<circle cx="128.2" cy="21.1" r="1.5" fill="#dadad8" stroke="#a4a4a1" stroke-width="0.6"/>
<circle cx="214.9" cy="35.4" r="1.8" fill="#dadad8" stroke="#a4a4a1" stroke-width="0.6"/>
<circle cx="214.8" cy="70.6" r="1.9" fill="#dadad8" stroke="#a4a4a1" stroke-width="0.6"/>
<circle cx="150.0" cy="29.9" r="1.3" fill="#dadad8" stroke="#a4a4a1" stroke-width="0.6"/>
<circle cx="198.0" cy="25.7" r="2.0" fill="#dadad8" stroke="#a4a4a1" stroke-width="0.6"/>
<circle cx="193.4" cy="32.7" r="1.9" fill="#dadad8" stroke="#a4a4a1" stroke-width="0.6"/>
<circle cx="140.3" cy="60.0" r="1.4" fill="#dadad8" stroke="#a4a4a1" stroke-width="0.6"/>
<circle cx="200.9" cy="91.7" r="1.9" fill="#dadad8" stroke="#a4a4a1" stroke-width="0.6"/>
<circle cx="124.7" cy="88.5" r="1.7" fill="#dadad8" stroke="#a4a4a1" stroke-width="0.6"/>
<circle cx="204.3" cy="59.2" r="1.7" fill="#dadad8" stroke="#a4a4a1" stroke-width="0.6"/>
<circle cx="182.2" cy="84.2" r="1.4" fill="#dadad8" stroke="#a4a4a1" stroke-width="0.6"/>
<circle cx="129.8" cy="62.8" r="1.5" fill="#dadad8" stroke="#a4a4a1" stroke-width="0.6"/>
<circle cx="163.0" cy="17.6" r="1.8" fill="#dadad8" stroke="#a4a4a1" stroke-width="0.6"/>
<circle cx="126.8" cy="86.7" r="1.9" fill="#dadad8" stroke="#a4a4a1" stroke-width="0.6"/>
<circle cx="169.0" cy="27.3" r="1.8" fill="#dadad8" stroke="#a4a4a1" stroke-width="0.6"/>
<circle cx="144.6" cy="53.0" r="1.4" fill="#dadad8" stroke="#a4a4a1" stroke-width="0.6"/>
<circle cx="219.3" cy="62.9" r="1.5" fill="#dadad8" stroke="#a4a4a1" stroke-width="0.6"/>
<circle cx="133.6" cy="78.3" r="1.9" fill="#dadad8" stroke="#a4a4a1" stroke-width="0.6"/>
<circle cx="206.9" cy="25.5" r="1.6" fill="#dadad8" stroke="#a4a4a1" stroke-width="0.6"/>
<circle cx="153.9" cy="81.0" r="1.4" fill="#dadad8" stroke="#a4a4a1" stroke-width="0.6"/>
<circle cx="183.4" cy="99.2" r="1.8" fill="#dadad8" stroke="#a4a4a1" stroke-width="0.6"/>
<circle cx="125.2" cy="23.3" r="1.4" fill="#dadad8" stroke="#a4a4a1" stroke-width="0.6"/>
<circle cx="191.7" cy="67.3" r="1.7" fill="#dadad8" stroke="#a4a4a1" stroke-width="0.6"/>
<circle cx="168.7" cy="51.2" r="1.7" fill="#dadad8" stroke="#a4a4a1" stroke-width="0.6"/>
<circle cx="187.5" cy="94.0" r="1.8" fill="#dadad8" stroke="#a4a4a1" stroke-width="0.6"/>
<circle cx="201.8" cy="93.7" r="1.9" fill="#dadad8" stroke="#a4a4a1" stroke-width="0.6"/>
<circle cx="194.1" cy="19.6" r="1.8" fill="#dadad8" stroke="#a4a4a1" stroke-width="0.6"/>
<circle cx="207.0" cy="53.2" r="1.9" fill="#dadad8" stroke="#a4a4a1" stroke-width="0.6"/>
<circle cx="142.0" cy="96.2" r="1.6" fill="#dadad8" stroke="#a4a4a1" stroke-width="0.6"/>
<circle cx="193.1" cy="38.2" r="1.5" fill="#dadad8" stroke="#a4a4a1" stroke-width="0.6"/>
<circle cx="158.3" cy="44.3" r="1.4" fill="#dadad8" stroke="#a4a4a1" stroke-width="0.6"/>
<circle cx="167.5" cy="99.4" r="1.8" fill="#dadad8" stroke="#a4a4a1" stroke-width="0.6"/>
<circle cx="215.0" cy="81.0" r="1.9" fill="#dadad8" stroke="#a4a4a1" stroke-width="0.6"/>
<circle cx="221.0" cy="80.2" r="1.5" fill="#dadad8" stroke="#a4a4a1" stroke-width="0.6"/>
<circle cx="148.8" cy="51.6" r="1.3" fill="#dadad8" stroke="#a4a4a1" stroke-width="0.6"/>
<circle cx="146.9" cy="91.4" r="1.9" fill="#dadad8" stroke="#a4a4a1" stroke-width="0.6"/>
<circle cx="156.4" cy="81.7" r="1.8" fill="#dadad8" stroke="#a4a4a1" stroke-width="0.6"/>
<circle cx="210.9" cy="83.7" r="1.7" fill="#dadad8" stroke="#a4a4a1" stroke-width="0.6"/>
<circle cx="134.7" cy="86.3" r="1.5" fill="#dadad8" stroke="#a4a4a1" stroke-width="0.6"/>
<circle cx="185.4" cy="47.8" r="1.7" fill="#dadad8" stroke="#a4a4a1" stroke-width="0.6"/>
<circle cx="218.3" cy="30.5" r="1.7" fill="#dadad8" stroke="#a4a4a1" stroke-width="0.6"/>
<circle cx="187.6" cy="62.2" r="2.0" fill="#dadad8" stroke="#a4a4a1" stroke-width="0.6"/>
<circle cx="164.1" cy="93.8" r="1.8" fill="#dadad8" stroke="#a4a4a1" stroke-width="0.6"/>
<circle cx="218.4" cy="24.5" r="1.4" fill="#dadad8" stroke="#a4a4a1" stroke-width="0.6"/>
<circle cx="152.4" cy="93.1" r="1.3" fill="#dadad8" stroke="#a4a4a1" stroke-width="0.6"/>
<circle cx="149.8" cy="77.1" r="2.0" fill="#dadad8" stroke="#a4a4a1" stroke-width="0.6"/>
<circle cx="141.6" cy="53.8" r="1.8" fill="#dadad8" stroke="#a4a4a1" stroke-width="0.6"/>
<circle cx="191.6" cy="79.7" r="1.8" fill="#dadad8" stroke="#a4a4a1" stroke-width="0.6"/>
<circle cx="148.6" cy="38.6" r="1.3" fill="#dadad8" stroke="#a4a4a1" stroke-width="0.6"/>
<circle cx="191.6" cy="34.6" r="1.5" fill="#dadad8" stroke="#a4a4a1" stroke-width="0.6"/>
<circle cx="218.1" cy="71.0" r="1.7" fill="#dadad8" stroke="#a4a4a1" stroke-width="0.6"/>
<circle cx="188.2" cy="67.2" r="1.8" fill="#dadad8" stroke="#a4a4a1" stroke-width="0.6"/>
<circle cx="154.0" cy="22.4" r="1.3" fill="#dadad8" stroke="#a4a4a1" stroke-width="0.6"/>
<circle cx="125.9" cy="47.4" r="1.4" fill="#dadad8" stroke="#a4a4a1" stroke-width="0.6"/>
<circle cx="135.5" cy="58.5" r="2.0" fill="#dadad8" stroke="#a4a4a1" stroke-width="0.6"/>
<circle cx="191.3" cy="40.0" r="1.8" fill="#dadad8" stroke="#a4a4a1" stroke-width="0.6"/>
<circle cx="141.8" cy="25.4" r="1.5" fill="#dadad8" stroke="#a4a4a1" stroke-width="0.6"/>
<circle cx="164.2" cy="74.9" r="1.6" fill="#dadad8" stroke="#a4a4a1" stroke-width="0.6"/>
<circle cx="195.2" cy="25.0" r="2.0" fill="#dadad8" stroke="#a4a4a1" stroke-width="0.6"/>
<circle cx="157.7" cy="86.9" r="1.3" fill="#dadad8" stroke="#a4a4a1" stroke-width="0.6"/>
<circle cx="205.0" cy="36.0" r="1.9" fill="#dadad8" stroke="#a4a4a1" stroke-width="0.6"/>
<circle cx="202.5" cy="73.3" r="1.5" fill="#dadad8" stroke="#a4a4a1" stroke-width="0.6"/>
<circle cx="125.5" cy="33.0" r="1.9" fill="#dadad8" stroke="#a4a4a1" stroke-width="0.6"/>
<circle cx="139.8" cy="72.4" r="1.7" fill="#dadad8" stroke="#a4a4a1" stroke-width="0.6"/>
<circle cx="188.7" cy="32.2" r="1.4" fill="#dadad8" stroke="#a4a4a1" stroke-width="0.6"/>
<circle cx="133.9" cy="99.5" r="1.6" fill="#dadad8" stroke="#a4a4a1" stroke-width="0.6"/>
<circle cx="187.8" cy="64.8" r="1.5" fill="#dadad8" stroke="#a4a4a1" stroke-width="0.6"/>
<circle cx="130.8" cy="18.2" r="1.9" fill="#dadad8" stroke="#a4a4a1" stroke-width="0.6"/>
<circle cx="137.1" cy="97.9" r="1.6" fill="#dadad8" stroke="#a4a4a1" stroke-width="0.6"/>
<circle cx="194.7" cy="28.6" r="1.9" fill="#dadad8" stroke="#a4a4a1" stroke-width="0.6"/>
<circle cx="148.9" cy="47.8" r="1.7" fill="#dadad8" stroke="#a4a4a1" stroke-width="0.6"/>
<circle cx="135.3" cy="37.9" r="1.9" fill="#dadad8" stroke="#a4a4a1" stroke-width="0.6"/>
<circle cx="152.2" cy="49.0" r="1.8" fill="#dadad8" stroke="#a4a4a1" stroke-width="0.6"/>
<path d="M188.1 91.5h0M129.7 24.5h0M174.0 65.4h0M213.9 9.1h0M174.3 23.4h0M137.1 72.4h0M155.6 4.6h0M175.4 84.9h0M198.2 73.9h0M164.7 86.8h0M126.4 35.1h0M139.2 92.2h0M173.1 95.2h0M207.9 38.6h0" stroke="#dededc" stroke-width="1.4" stroke-linecap="round"/>
<path d="M146.9 92.2h0M213.4 99.2h0M219.7 92.9h0M213.6 81.3h0M164.7 50.4h0M157.0 51.7h0M132.0 61.2h0M203.8 81.9h0M184.6 93.1h0M162.6 54.8h0M191.8 50.1h0M220.7 13.8h0M199.2 41.7h0" stroke="#bdbdba" stroke-width="1.0" stroke-linecap="round"/>
<path d="M127.6 69.0h0M171.5 95.2h0M130.9 28.8h0M209.2 39.1h0M185.3 23.9h0M205.6 62.7h0M145.4 79.9h0M193.3 33.9h0M171.4 44.1h0M183.7 40.2h0M210.3 38.5h0M173.5 93.0h0M176.9 25.4h0M151.4 15.7h0M150.4 35.6h0M218.2 57.6h0M200.6 17.0h0M167.5 64.8h0" stroke="#dededc" stroke-width="1.5" stroke-linecap="round"/>
<path d="M151.0 49.7h0M134.6 101.4h0M193.2 3.6h0M210.5 44.4h0M167.6 52.5h0M142.5 3.5h0M142.5 14.1h0M198.2 94.5h0M159.9 64.1h0M188.7 59.4h0M141.0 93.9h0M174.1 96.2h0M142.0 33.9h0M126.7 81.2h0M184.8 83.5h0" stroke="#dededc" stroke-width="1.2" stroke-linecap="round"/>
<path d="M169.0 73.9h0M200.6 69.1h0M158.9 50.9h0M139.5 44.7h0M187.2 90.8h0M142.0 60.8h0M208.2 90.8h0M196.2 38.5h0M203.7 93.2h0M158.1 40.7h0M217.5 40.1h0M128.5 83.4h0M144.7 46.1h0M186.1 73.6h0M133.9 18.4h0M172.7 71.5h0" stroke="#dededc" stroke-width="0.9" stroke-linecap="round"/>
<path d="M167.0 13.9h0M179.3 73.9h0M223.1 92.8h0M161.0 86.8h0M138.4 66.3h0M218.0 46.7h0M182.3 16.6h0M218.8 64.6h0" stroke="#bdbdba" stroke-width="0.9" stroke-linecap="round"/>
<path d="M167.4 26.1h0M125.7 19.9h0M160.9 51.9h0M157.4 78.6h0M146.9 28.1h0M153.0 64.4h0M142.9 32.5h0M159.2 92.4h0M187.1 50.2h0M190.5 99.9h0M211.6 62.7h0" stroke="#bdbdba" stroke-width="1.1" stroke-linecap="round"/>
<path d="M133.6 97.3h0M174.2 97.8h0M204.1 68.0h0M131.5 100.1h0M131.5 7.0h0M129.2 83.2h0M185.1 12.6h0M203.6 4.8h0M207.0 44.9h0M153.8 66.1h0M170.3 30.0h0M203.5 17.8h0M155.4 43.3h0" stroke="#bdbdba" stroke-width="1.2" stroke-linecap="round"/>
<path d="M175.2 53.6h0M207.3 32.7h0M179.3 29.7h0M223.4 15.7h0M182.4 27.6h0M170.0 9.4h0M198.5 86.7h0M205.9 49.7h0M133.2 9.1h0M208.7 68.7h0M221.2 64.2h0M142.6 48.7h0M143.5 38.6h0M213.3 58.5h0M158.3 44.9h0M218.5 16.7h0M160.0 41.2h0M198.1 88.7h0M180.1 75.6h0" stroke="#dededc" stroke-width="1.1" stroke-linecap="round"/>
<path d="M201.9 15.3h0M132.4 30.3h0M191.0 9.4h0M170.6 70.5h0M192.6 70.3h0M159.9 99.2h0M195.0 25.2h0M195.7 5.1h0M154.7 50.2h0M176.6 80.8h0M139.6 19.5h0M170.0 48.6h0M221.0 102.5h0" stroke="#bdbdba" stroke-width="1.4" stroke-linecap="round"/>
<path d="M187.6 71.4h0M128.9 71.1h0M209.8 60.1h0M205.1 67.1h0M172.2 78.0h0M138.0 46.3h0M221.3 5.8h0" stroke="#dededc" stroke-width="0.8" stroke-linecap="round"/>
<path d="M137.2 83.2h0M187.6 43.6h0M136.0 88.7h0M183.8 92.8h0M124.9 15.2h0M169.0 66.5h0M163.8 74.9h0M213.0 21.3h0" stroke="#bdbdba" stroke-width="1.6" stroke-linecap="round"/>
<path d="M167.9 87.9h0M153.8 81.2h0M180.0 79.8h0M209.5 98.7h0M192.9 2.4h0M216.2 28.7h0M185.6 72.4h0M140.2 65.6h0M198.8 84.1h0M183.4 28.2h0M183.5 93.3h0" stroke="#dededc" stroke-width="1.0" stroke-linecap="round"/>
<path d="M217.5 42.6h0M138.2 84.0h0M211.9 64.2h0M159.8 87.9h0M125.7 93.9h0M138.8 43.4h0" stroke="#dededc" stroke-width="1.3" stroke-linecap="round"/>
<path d="M202.4 27.6h0M181.4 97.2h0M170.3 98.6h0M199.0 79.7h0M219.0 33.3h0M180.5 12.7h0M132.8 82.2h0M202.5 61.6h0M219.1 95.8h0" stroke="#bdbdba" stroke-width="1.3" stroke-linecap="round"/>
<path d="M132.1 46.0h0M144.0 35.1h0M125.4 82.6h0M194.1 38.6h0M145.5 34.1h0M133.6 24.9h0M190.3 7.5h0M154.7 36.8h0M187.8 49.0h0M184.1 59.1h0" stroke="#bdbdba" stroke-width="1.5" stroke-linecap="round"/>
<path d="M169.6 34.8h0M186.7 73.2h0M134.0 96.4h0M202.7 87.1h0M144.6 91.2h0" stroke="#dededc" stroke-width="1.6" stroke-linecap="round"/>
<path d="M191.5 68.6h0M144.4 65.5h0M177.8 91.3h0M174.2 16.9h0" stroke="#bdbdba" stroke-width="0.8" stroke-linecap="round"/>
<rect x="122.10" y="0.60" width="76.30" height="15.00" fill="#fff" stroke="none" stroke-width="1"/>
<rect x="121.50" y="0.60" width="103.10" height="103.30" fill="none" stroke="#333" stroke-width="1.15"/>
<rect x="199.30" y="95.20" width="18.60" height="3.00" fill="#000" stroke="none" stroke-width="1" rx="0.6"/>
<rect x="226.50" y="0.60" width="103.70" height="103.30" fill="#cdcdca" stroke="none" stroke-width="1"/>
<path d="M308.1 81.6h0M270.5 25.9h0M318.6 38.1h0M247.7 28.2h0M231.4 44.1h0M256.1 77.2h0M275.5 53.2h0M237.6 74.9h0M260.2 67.3h0M230.6 67.5h0" stroke="#b3b3b0" stroke-width="1.6" stroke-linecap="round"/>
<path d="M259.9 78.5h0M292.1 72.0h0M309.3 25.2h0M229.7 46.6h0M322.6 3.9h0" stroke="#e8e8e6" stroke-width="1.1" stroke-linecap="round"/>
<path d="M243.6 88.6h0M314.8 101.9h0M232.9 101.8h0M310.4 5.4h0M321.1 12.1h0M258.9 70.5h0M268.3 18.2h0M303.7 47.7h0M239.2 53.4h0M268.4 59.5h0M232.3 52.6h0M269.1 98.8h0M295.5 2.3h0" stroke="#e8e8e6" stroke-width="1.3" stroke-linecap="round"/>
<path d="M242.7 78.9h0M250.0 93.6h0M231.2 34.9h0M295.0 48.7h0M310.4 57.8h0M280.9 16.5h0M271.3 91.2h0" stroke="#dedede" stroke-width="1.4" stroke-linecap="round"/>
<path d="M287.1 45.2h0M255.8 39.4h0M261.7 18.5h0M251.9 24.3h0M280.1 27.1h0M315.1 23.2h0M250.7 11.2h0M291.6 62.0h0M265.5 43.6h0M282.6 6.1h0" stroke="#e8e8e6" stroke-width="1.7" stroke-linecap="round"/>
<path d="M287.4 15.5h0M324.8 48.0h0M262.3 43.4h0M229.1 91.9h0M316.0 102.0h0M249.6 98.4h0M241.4 84.9h0M237.1 97.5h0M252.6 54.1h0M260.7 9.2h0" stroke="#dedede" stroke-width="1.2" stroke-linecap="round"/>
<path d="M289.1 46.0h0M235.8 81.9h0M291.7 55.8h0M247.9 88.4h0M243.4 19.4h0M293.8 28.5h0M291.4 61.3h0M261.4 73.3h0M313.2 88.2h0M261.2 56.8h0M267.9 57.3h0M322.4 2.7h0" stroke="#dedede" stroke-width="1.7" stroke-linecap="round"/>
<path d="M235.8 47.3h0M273.9 89.2h0M262.9 72.2h0M321.0 37.1h0M288.9 15.3h0M250.0 89.5h0M230.1 75.1h0M297.7 95.9h0" stroke="#e8e8e6" stroke-width="1.2" stroke-linecap="round"/>
<path d="M277.7 74.9h0M279.6 96.6h0M299.3 45.3h0M270.1 69.1h0M300.7 76.4h0M286.4 59.8h0M279.4 14.4h0M229.1 17.3h0M235.6 89.2h0M263.0 90.9h0" stroke="#dedede" stroke-width="1.0" stroke-linecap="round"/>
<path d="M305.7 72.0h0M274.9 46.5h0M273.2 49.2h0M301.9 82.8h0M297.1 87.7h0" stroke="#bcbcb9" stroke-width="1.4" stroke-linecap="round"/>
<path d="M325.0 6.7h0M257.2 96.3h0M282.8 31.6h0M270.6 17.4h0M244.2 94.6h0M265.8 83.4h0M280.3 58.2h0M323.4 28.0h0M298.5 99.6h0M232.8 14.3h0M279.1 16.5h0" stroke="#bcbcb9" stroke-width="1.6" stroke-linecap="round"/>
<path d="M263.3 88.0h0M245.0 45.6h0M236.8 75.3h0M318.6 87.7h0M261.2 88.0h0M275.4 80.0h0M298.0 8.8h0M319.3 7.5h0" stroke="#b3b3b0" stroke-width="1.7" stroke-linecap="round"/>
<path d="M274.7 49.4h0M279.4 19.0h0M259.1 22.6h0M301.7 89.1h0M298.8 19.2h0M261.7 14.9h0M290.2 66.3h0M300.1 11.7h0M230.0 12.1h0M248.8 23.1h0M302.0 86.6h0" stroke="#b3b3b0" stroke-width="1.5" stroke-linecap="round"/>
<path d="M262.4 96.2h0M296.9 77.2h0M276.4 95.9h0M253.4 16.3h0M244.0 46.2h0M327.9 41.6h0M265.8 60.4h0M288.0 62.4h0M326.9 15.1h0M309.5 63.1h0" stroke="#e8e8e6" stroke-width="1.0" stroke-linecap="round"/>
<path d="M293.1 78.5h0M265.5 53.6h0M294.0 27.1h0M283.7 62.8h0M272.7 91.8h0M297.0 9.7h0M313.9 80.8h0M290.9 50.3h0" stroke="#b3b3b0" stroke-width="1.4" stroke-linecap="round"/>
<path d="M314.7 24.6h0M323.0 90.7h0M309.6 90.1h0M287.1 32.2h0" stroke="#bcbcb9" stroke-width="1.1" stroke-linecap="round"/>
<path d="M249.1 44.0h0M263.1 73.7h0M287.4 45.4h0M296.2 52.2h0M296.3 61.1h0" stroke="#bcbcb9" stroke-width="1.3" stroke-linecap="round"/>
<path d="M276.4 55.5h0M305.0 61.5h0M253.8 47.8h0M236.9 24.3h0M256.8 17.7h0M227.9 102.8h0M264.2 28.1h0M281.7 89.1h0M249.0 7.0h0M266.5 46.0h0M283.4 84.1h0M254.5 42.3h0" stroke="#bcbcb9" stroke-width="1.0" stroke-linecap="round"/>
<path d="M243.8 71.1h0M278.6 60.0h0M236.1 32.9h0M313.7 62.8h0M318.8 26.0h0" stroke="#e8e8e6" stroke-width="1.4" stroke-linecap="round"/>
<path d="M318.0 94.4h0M253.2 12.0h0M326.1 67.1h0M312.6 3.7h0M250.2 26.5h0M255.4 85.6h0" stroke="#bcbcb9" stroke-width="1.7" stroke-linecap="round"/>
<path d="M277.7 29.1h0M227.9 24.5h0M240.4 8.8h0M252.3 61.3h0M243.4 79.2h0M312.4 74.1h0M269.4 96.0h0M310.7 90.3h0M275.8 33.6h0M286.5 3.3h0M309.5 56.6h0" stroke="#bcbcb9" stroke-width="1.2" stroke-linecap="round"/>
<path d="M264.9 98.9h0M234.3 85.9h0M298.4 60.4h0M230.4 24.2h0M252.5 31.0h0M291.7 19.5h0" stroke="#dedede" stroke-width="1.8" stroke-linecap="round"/>
<path d="M278.2 30.5h0M264.1 63.1h0M237.8 96.1h0M310.8 81.8h0M269.0 56.2h0M294.5 89.8h0M295.8 77.0h0M272.3 79.0h0M287.3 74.8h0M312.3 90.8h0" stroke="#b3b3b0" stroke-width="1.1" stroke-linecap="round"/>
<path d="M259.4 4.9h0M228.8 22.5h0M296.6 65.1h0M239.3 101.6h0M282.6 8.8h0M254.7 87.4h0M313.4 69.6h0" stroke="#b3b3b0" stroke-width="1.0" stroke-linecap="round"/>
<path d="M299.6 61.2h0M311.5 101.3h0M270.0 98.6h0M304.1 38.8h0M275.8 56.3h0M267.7 3.2h0M324.1 102.7h0M262.0 65.7h0" stroke="#b3b3b0" stroke-width="1.2" stroke-linecap="round"/>
<path d="M283.8 22.8h0M306.6 87.1h0M265.0 45.7h0M293.4 39.5h0M267.2 16.2h0M318.2 55.5h0" stroke="#b3b3b0" stroke-width="1.3" stroke-linecap="round"/>
<path d="M304.1 26.0h0M254.6 100.5h0M307.8 81.8h0M229.8 74.7h0M254.3 37.2h0M315.3 12.1h0M297.5 19.7h0" stroke="#dedede" stroke-width="0.9" stroke-linecap="round"/>
<path d="M321.7 102.2h0M261.6 28.9h0M255.5 79.8h0M295.8 32.4h0M232.2 90.7h0M317.9 26.5h0" stroke="#e8e8e6" stroke-width="1.5" stroke-linecap="round"/>
<path d="M259.3 59.4h0M328.5 94.4h0M318.9 45.5h0" stroke="#e8e8e6" stroke-width="0.8" stroke-linecap="round"/>
<path d="M296.1 40.8h0M256.4 10.5h0M313.3 39.0h0M287.1 33.6h0" stroke="#e8e8e6" stroke-width="1.8" stroke-linecap="round"/>
<path d="M311.9 92.1h0M243.3 9.1h0M265.1 29.3h0M238.8 29.4h0M287.7 71.6h0M239.5 48.9h0M246.3 66.8h0" stroke="#dedede" stroke-width="1.3" stroke-linecap="round"/>
<path d="M264.5 68.8h0M306.4 50.4h0M243.8 98.6h0M231.9 21.3h0M320.4 59.2h0" stroke="#bcbcb9" stroke-width="1.8" stroke-linecap="round"/>
<path d="M328.5 65.0h0M278.1 102.0h0M261.6 12.3h0M310.7 50.7h0" stroke="#dedede" stroke-width="1.5" stroke-linecap="round"/>
<path d="M265.3 38.9h0M238.7 82.5h0M294.5 28.3h0M290.5 68.6h0M300.0 37.6h0M237.7 55.3h0M253.8 67.1h0M300.4 76.0h0M311.1 67.9h0M328.7 53.4h0M239.3 75.8h0M288.9 19.3h0M241.2 57.3h0M263.2 49.3h0" stroke="#b3b3b0" stroke-width="0.9" stroke-linecap="round"/>
<path d="M274.6 77.8h0M264.1 78.2h0M235.8 64.0h0M297.2 21.8h0M238.0 11.9h0M236.0 26.9h0" stroke="#bcbcb9" stroke-width="1.5" stroke-linecap="round"/>
<path d="M250.1 69.7h0M262.0 10.0h0M307.5 70.5h0M282.2 24.0h0M309.9 38.8h0M301.9 49.4h0M249.5 96.9h0" stroke="#dedede" stroke-width="1.6" stroke-linecap="round"/>
<path d="M328.0 26.1h0M239.1 24.6h0M256.9 60.0h0M248.1 35.9h0" stroke="#bcbcb9" stroke-width="0.8" stroke-linecap="round"/>
<path d="M302.3 13.5h0M280.4 57.6h0M327.3 17.9h0M247.6 22.8h0M321.5 13.0h0M282.7 68.3h0M237.1 54.2h0M293.2 53.0h0" stroke="#dedede" stroke-width="1.1" stroke-linecap="round"/>
<path d="M241.5 70.1h0M283.7 2.6h0M283.5 76.0h0M326.2 31.1h0" stroke="#e8e8e6" stroke-width="0.9" stroke-linecap="round"/>
<path d="M289.8 89.1h0M303.1 52.9h0" stroke="#bcbcb9" stroke-width="0.9" stroke-linecap="round"/>
<path d="M241.0 32.9h0M242.0 41.7h0M272.9 8.8h0" stroke="#b3b3b0" stroke-width="0.8" stroke-linecap="round"/>
<path d="M278.5 4.7h0M270.0 64.5h0M291.3 65.8h0M231.9 31.8h0M320.1 46.4h0M328.4 49.0h0M285.9 5.2h0M288.4 95.1h0M294.9 96.7h0M299.7 72.8h0M290.0 16.3h0M243.1 47.3h0M237.4 79.4h0M237.5 30.5h0" stroke="#e8e8e6" stroke-width="1.6" stroke-linecap="round"/>
<path d="M254.2 20.4h0M328.8 23.1h0M299.2 97.6h0M248.0 32.9h0" stroke="#dedede" stroke-width="0.8" stroke-linecap="round"/>
<rect x="227.10" y="0.60" width="29.80" height="15.00" fill="#fff" stroke="none" stroke-width="1"/>
<rect x="226.50" y="0.60" width="103.70" height="103.30" fill="none" stroke="#333" stroke-width="1.15"/>
<rect x="304.90" y="95.20" width="18.60" height="3.00" fill="#000" stroke="none" stroke-width="1" rx="0.6"/>
<rect x="332.20" y="0.60" width="103.40" height="103.30" fill="#b6b6b2" stroke="none" stroke-width="1"/>
<path d="M396.7 13.8h0M396.6 30.2h0M334.9 74.9h0M426.0 99.8h0M426.9 5.5h0M401.1 87.1h0M361.4 21.9h0" stroke="#d0d0ce" stroke-width="1.5" stroke-linecap="round"/>
<path d="M357.7 81.7h0M382.8 5.7h0M430.9 32.6h0M410.1 32.5h0M433.2 85.3h0M402.2 32.7h0M333.5 11.3h0M367.3 43.8h0M364.6 87.7h0M340.7 102.2h0M411.2 56.4h0M407.8 9.3h0M368.9 34.3h0M413.1 86.2h0" stroke="#f2f2f2" stroke-width="1.9" stroke-linecap="round"/>
<path d="M387.1 72.6h0M395.3 64.7h0M378.3 13.8h0M385.2 62.3h0M349.9 42.7h0M378.8 25.8h0M373.2 29.2h0M394.5 84.9h0M357.5 35.3h0M369.5 27.2h0" stroke="#d0d0ce" stroke-width="1.2" stroke-linecap="round"/>
<path d="M340.0 44.3h0M418.0 99.4h0M412.6 74.6h0M381.0 84.0h0M432.6 17.6h0M379.9 84.0h0M405.6 85.2h0M340.8 14.5h0M335.2 36.4h0M362.0 94.7h0M350.1 33.7h0M351.6 60.8h0" stroke="#d0d0ce" stroke-width="1.4" stroke-linecap="round"/>
<path d="M354.9 34.9h0M376.3 95.0h0M342.2 42.4h0M370.4 60.8h0M398.0 25.2h0M341.5 77.8h0M431.6 78.8h0M376.1 95.5h0M424.1 87.8h0M401.7 40.6h0M410.6 59.7h0M406.2 62.7h0" stroke="#e6e6e6" stroke-width="1.3" stroke-linecap="round"/>
<path d="M364.0 64.9h0M397.4 38.9h0M424.5 43.3h0M352.1 99.2h0M350.0 39.6h0M342.8 94.9h0M334.4 63.7h0M425.7 11.4h0M428.1 51.7h0M388.5 90.9h0" stroke="#d0d0ce" stroke-width="1.1" stroke-linecap="round"/>
<path d="M378.8 59.2h0M363.3 65.2h0M383.7 61.0h0M399.5 18.5h0M398.3 62.1h0M381.2 77.4h0M336.8 47.6h0M399.5 18.0h0" stroke="#e6e6e6" stroke-width="2.0" stroke-linecap="round"/>
<path d="M383.3 41.9h0M366.1 85.9h0M432.4 13.9h0M359.0 61.2h0M402.4 40.5h0M433.1 79.8h0M365.6 8.1h0M399.7 10.9h0M424.7 96.8h0" stroke="#dadad8" stroke-width="1.3" stroke-linecap="round"/>
<path d="M385.0 21.3h0M396.0 34.2h0M433.4 42.2h0M345.8 44.2h0M405.7 101.4h0" stroke="#f2f2f2" stroke-width="1.0" stroke-linecap="round"/>
<path d="M389.7 75.1h0M350.7 22.9h0M384.7 45.1h0M399.0 6.6h0M356.3 6.8h0M417.4 71.8h0M431.4 89.3h0" stroke="#e6e6e6" stroke-width="1.1" stroke-linecap="round"/>
<path d="M400.1 33.1h0M337.0 52.5h0M383.8 39.0h0M398.9 46.9h0M392.0 55.6h0M384.3 52.0h0M423.6 14.3h0M403.8 6.3h0M420.7 17.2h0M430.2 26.6h0" stroke="#d0d0ce" stroke-width="1.6" stroke-linecap="round"/>
<path d="M398.1 90.1h0M433.1 9.0h0" stroke="#dadad8" stroke-width="1.5" stroke-linecap="round"/>
<path d="M361.0 56.2h0M374.8 59.1h0M377.3 72.4h0M423.4 53.7h0M419.8 84.4h0M374.1 60.5h0M412.2 41.4h0M343.9 56.7h0M333.7 20.6h0M411.5 99.5h0M405.9 5.5h0" stroke="#e6e6e6" stroke-width="1.6" stroke-linecap="round"/>
<path d="M376.5 4.0h0M394.1 12.1h0M384.2 74.5h0M346.2 94.3h0M358.3 71.7h0M353.8 36.9h0M380.8 89.4h0M352.7 86.8h0" stroke="#f2f2f2" stroke-width="2.2" stroke-linecap="round"/>
<path d="M404.0 70.9h0M366.6 65.5h0M374.8 58.3h0M387.5 70.6h0M374.6 59.3h0M382.6 101.1h0M340.3 47.6h0M371.5 25.2h0M400.4 31.6h0" stroke="#f2f2f2" stroke-width="1.1" stroke-linecap="round"/>
<path d="M364.7 22.5h0M426.4 84.8h0M398.0 12.1h0M375.2 30.8h0M354.7 13.8h0M428.2 12.5h0M374.6 87.5h0M409.8 36.8h0M348.1 9.8h0M425.0 24.7h0M351.7 60.6h0M349.5 31.9h0M359.0 43.5h0" stroke="#f2f2f2" stroke-width="1.4" stroke-linecap="round"/>
<path d="M364.5 13.6h0M423.4 25.9h0M355.7 25.2h0M368.0 94.7h0M374.3 15.7h0M348.5 7.2h0M373.5 80.8h0M386.4 88.5h0M408.3 31.2h0M382.5 89.8h0M383.1 21.0h0" stroke="#e6e6e6" stroke-width="1.9" stroke-linecap="round"/>
<path d="M400.2 59.6h0M368.7 52.3h0M382.3 90.8h0M367.6 29.2h0M343.9 77.4h0M381.1 49.7h0M397.1 95.9h0M414.3 28.7h0" stroke="#d0d0ce" stroke-width="1.8" stroke-linecap="round"/>
<path d="M428.4 61.7h0M350.6 32.9h0M402.6 47.5h0M356.6 39.3h0M351.0 99.5h0M341.8 100.9h0M346.2 46.7h0M369.5 64.6h0M431.1 46.4h0M425.7 67.1h0M355.1 15.1h0M372.6 45.0h0" stroke="#f2f2f2" stroke-width="1.7" stroke-linecap="round"/>
<path d="M366.6 40.9h0M390.5 58.6h0M404.9 75.2h0M388.6 38.0h0M340.0 29.4h0" stroke="#d0d0ce" stroke-width="2.2" stroke-linecap="round"/>
<path d="M415.7 7.7h0M345.1 77.5h0M416.6 57.6h0M343.1 97.7h0M380.0 101.3h0M368.3 4.5h0M377.7 101.6h0M396.7 10.7h0" stroke="#e6e6e6" stroke-width="1.4" stroke-linecap="round"/>
<path d="M347.6 34.8h0M416.6 61.2h0M351.5 96.6h0M369.0 72.0h0M403.6 68.3h0M348.0 95.1h0M411.4 9.3h0M401.5 25.6h0M424.5 33.1h0M351.6 21.7h0M360.4 99.0h0M434.5 98.0h0" stroke="#e6e6e6" stroke-width="1.5" stroke-linecap="round"/>
<path d="M337.6 51.2h0M427.6 7.2h0M373.9 30.9h0M392.7 64.9h0M428.2 51.3h0" stroke="#e6e6e6" stroke-width="1.0" stroke-linecap="round"/>
<path d="M360.3 49.2h0M381.4 35.3h0M388.2 31.8h0M418.9 18.3h0M383.3 98.2h0" stroke="#f2f2f2" stroke-width="1.2" stroke-linecap="round"/>
<path d="M429.1 93.0h0M359.9 36.6h0M413.1 96.6h0M420.8 95.0h0M432.1 98.6h0M377.8 25.4h0M333.8 42.2h0" stroke="#d0d0ce" stroke-width="1.9" stroke-linecap="round"/>
<path d="M393.6 68.1h0M390.1 38.5h0M343.3 61.4h0M409.7 95.8h0M396.9 64.6h0M379.9 29.8h0" stroke="#f2f2f2" stroke-width="1.5" stroke-linecap="round"/>
<path d="M352.5 100.4h0M392.9 71.9h0M352.5 58.4h0M430.2 10.3h0M357.5 48.4h0M404.0 91.4h0M340.8 55.9h0M426.3 76.3h0M403.0 54.4h0M344.8 24.5h0" stroke="#e6e6e6" stroke-width="1.8" stroke-linecap="round"/>
<path d="M391.3 24.3h0M336.6 72.8h0M420.5 14.8h0M384.3 96.0h0M347.1 11.3h0M418.0 26.3h0M362.9 72.8h0M430.4 24.4h0M381.0 48.9h0M392.8 101.0h0M416.9 64.5h0M384.9 55.8h0" stroke="#f2f2f2" stroke-width="1.3" stroke-linecap="round"/>
<path d="M390.1 50.2h0M380.9 96.1h0M418.7 47.2h0M350.8 84.7h0M414.3 10.9h0M405.1 12.2h0M410.3 58.1h0" stroke="#dadad8" stroke-width="1.4" stroke-linecap="round"/>
<path d="M341.6 89.4h0M423.5 22.2h0M359.7 32.0h0M363.7 70.1h0M380.2 40.5h0M336.3 72.8h0M422.0 12.6h0M383.1 40.8h0M434.3 3.4h0" stroke="#d0d0ce" stroke-width="1.7" stroke-linecap="round"/>
<path d="M383.7 46.0h0M400.7 79.2h0M410.3 60.0h0M419.7 10.5h0M367.4 46.6h0M420.2 32.6h0" stroke="#dadad8" stroke-width="1.8" stroke-linecap="round"/>
<path d="M366.3 80.5h0M357.9 4.8h0M426.6 67.5h0M340.2 83.7h0M343.6 16.0h0M388.2 94.9h0M335.9 55.1h0M373.3 24.4h0M341.3 49.6h0M383.1 35.0h0M386.1 20.5h0" stroke="#f2f2f2" stroke-width="1.8" stroke-linecap="round"/>
<path d="M414.5 65.0h0M350.2 36.8h0M393.8 13.3h0M422.1 27.9h0M404.2 34.7h0M408.9 38.0h0M415.3 81.7h0M349.0 80.7h0M334.5 17.2h0" stroke="#d0d0ce" stroke-width="2.0" stroke-linecap="round"/>
<path d="M387.5 62.4h0M402.6 43.5h0M347.1 102.5h0M365.4 16.7h0M340.6 58.1h0" stroke="#dadad8" stroke-width="1.9" stroke-linecap="round"/>
<path d="M368.5 75.7h0M399.1 76.1h0M424.1 58.8h0" stroke="#dadad8" stroke-width="1.7" stroke-linecap="round"/>
<path d="M360.6 91.3h0M401.5 93.9h0M364.9 29.0h0M386.9 36.3h0M370.6 88.0h0M426.9 58.0h0" stroke="#d0d0ce" stroke-width="2.1" stroke-linecap="round"/>
<path d="M410.8 70.5h0M359.0 97.9h0M361.8 53.8h0M394.9 12.0h0M346.5 43.7h0M405.1 77.4h0M430.6 2.7h0M353.7 93.2h0M334.6 73.4h0M413.6 13.8h0M364.5 86.2h0M340.8 52.7h0" stroke="#dadad8" stroke-width="2.1" stroke-linecap="round"/>
<path d="M400.6 25.3h0M429.9 65.8h0M347.7 70.8h0M336.3 39.1h0M377.7 100.0h0" stroke="#f2f2f2" stroke-width="1.6" stroke-linecap="round"/>
<path d="M352.2 73.8h0M354.2 80.1h0M350.9 14.1h0M431.4 83.7h0M389.2 57.6h0M353.4 32.7h0M335.0 37.5h0" stroke="#d0d0ce" stroke-width="1.0" stroke-linecap="round"/>
<path d="M368.6 51.0h0M365.9 43.2h0M370.3 84.7h0M385.6 25.5h0" stroke="#dadad8" stroke-width="1.6" stroke-linecap="round"/>
<path d="M403.1 48.5h0M347.3 53.1h0M428.3 93.1h0" stroke="#e6e6e6" stroke-width="2.2" stroke-linecap="round"/>
<path d="M352.2 19.9h0M377.8 84.2h0M390.7 63.6h0M370.9 36.7h0M340.4 13.9h0M407.4 64.2h0M376.3 55.6h0M430.3 9.8h0" stroke="#e6e6e6" stroke-width="1.2" stroke-linecap="round"/>
<path d="M401.9 44.9h0M344.8 62.0h0M377.3 14.9h0M345.0 58.9h0" stroke="#dadad8" stroke-width="2.2" stroke-linecap="round"/>
<path d="M394.6 3.6h0M384.6 17.9h0M366.5 60.8h0M360.5 41.3h0M343.8 39.4h0M339.6 58.3h0" stroke="#e6e6e6" stroke-width="2.1" stroke-linecap="round"/>
<path d="M428.6 68.7h0M337.9 101.2h0M346.9 34.7h0M387.4 98.7h0M383.5 95.9h0M346.8 3.0h0M412.9 20.8h0M392.6 12.4h0" stroke="#d0d0ce" stroke-width="1.3" stroke-linecap="round"/>
<path d="M347.9 53.7h0M382.8 57.0h0M346.3 31.7h0M392.8 17.9h0M338.3 18.6h0M384.8 63.6h0M411.1 9.6h0" stroke="#f2f2f2" stroke-width="2.0" stroke-linecap="round"/>
<path d="M383.3 78.4h0M344.4 43.5h0M391.3 4.3h0M341.8 40.6h0M415.3 55.4h0M424.1 102.5h0M399.9 21.8h0M335.9 11.5h0M367.4 25.8h0" stroke="#e6e6e6" stroke-width="1.7" stroke-linecap="round"/>
<path d="M377.8 24.0h0M392.8 46.9h0M389.3 75.4h0M349.0 55.3h0M433.3 80.2h0M388.0 50.7h0M337.7 14.6h0M409.6 94.3h0M370.1 29.9h0" stroke="#f2f2f2" stroke-width="2.1" stroke-linecap="round"/>
<path d="M431.2 75.4h0M361.8 29.5h0M351.4 90.3h0M418.0 4.6h0M368.5 16.5h0M408.7 87.4h0M343.9 50.9h0M383.1 24.7h0M354.4 94.6h0M421.9 66.3h0M340.5 16.8h0M418.5 83.1h0M394.4 22.5h0" stroke="#dadad8" stroke-width="1.1" stroke-linecap="round"/>
<path d="M347.2 9.1h0M366.7 74.5h0M428.1 36.4h0M434.1 96.4h0M371.0 62.2h0M434.4 41.5h0M430.8 49.1h0M393.5 7.1h0M365.1 62.5h0M363.1 84.1h0" stroke="#dadad8" stroke-width="2.0" stroke-linecap="round"/>
<path d="M397.3 96.2h0M402.7 88.5h0M340.9 79.7h0M348.4 68.9h0M387.0 41.2h0M403.2 74.8h0M377.7 13.5h0" stroke="#dadad8" stroke-width="1.2" stroke-linecap="round"/>
<path d="M369.7 34.7h0M408.1 51.8h0M430.6 10.7h0M424.0 35.0h0" stroke="#dadad8" stroke-width="1.0" stroke-linecap="round"/>
<rect x="332.80" y="0.60" width="64.90" height="15.00" fill="#fff" stroke="none" stroke-width="1"/>
<rect x="332.20" y="0.60" width="103.40" height="103.30" fill="none" stroke="#333" stroke-width="1.15"/>
<rect x="410.30" y="95.20" width="18.60" height="3.00" fill="#000" stroke="none" stroke-width="1" rx="0.6"/>
<text x="23.40" y="12.20" font-size="8.6" font-weight="bold" fill="#000" color="#000" text-anchor="start" textLength="20.2" lengthAdjust="spacingAndGlyphs">SCP-1</text>
<text x="128.40" y="12.20" font-size="8.6" font-weight="bold" fill="#000" color="#000" text-anchor="start" textLength="57" lengthAdjust="spacingAndGlyphs">Decellularization</text>
<text x="233.60" y="12.20" font-size="8.6" font-weight="bold" fill="#000" color="#000" text-anchor="start" textLength="16" lengthAdjust="spacingAndGlyphs">ECM</text>
<text x="339.3" y="12.2" font-size="8.6" font-weight="bold" textLength="49.5" lengthAdjust="spacingAndGlyphs">CD34<tspan font-size="5.4" dy="-3">+</tspan><tspan dy="3"> on ECM</tspan></text>
<polygon points="410.20,25.30 416.58,26.89 415.11,28.25 421.57,35.21 419.23,37.39 412.77,30.42 411.30,31.78" fill="#d0141a" stroke="#8a0c0c" stroke-width="0.4"/>
<polygon points="407.90,81.20 404.30,75.70 406.30,75.70 406.30,67.20 409.50,67.20 409.50,75.70 411.50,75.70" fill="#d0141a" stroke="#8a0c0c" stroke-width="0.4"/>
<polygon points="351.40,93.80 347.80,88.30 349.80,88.30 349.80,80.40 353.00,80.40 353.00,88.30 355.00,88.30" fill="#d0141a" stroke="#8a0c0c" stroke-width="0.4"/>
<polygon points="378.30,86.10 384.79,87.14 383.44,88.62 390.48,95.02 388.32,97.38 381.29,90.98 379.95,92.46" fill="#d0141a" stroke="#8a0c0c" stroke-width="0.4"/>
<rect x="20.40" y="144.60" width="91.30" height="5.50" fill="#a9cbe6" stroke="none" stroke-width="1"/>
<ellipse cx="39" cy="138.9" rx="14.8" ry="6.6" fill="url(#cellg)" stroke="#34420e" stroke-width="1.3"/>
<circle cx="46.9" cy="140" r="3.4" fill="#8c5a12" stroke="#5a3a08" stroke-width="0.4"/>
<ellipse cx="94" cy="139" rx="14.4" ry="7.0" fill="url(#cellg)" stroke="#34420e" stroke-width="1.3"/>
<circle cx="98.8" cy="140" r="3.4" fill="#8c5a12" stroke="#5a3a08" stroke-width="0.4"/>
<ellipse cx="66.3" cy="139.2" rx="15.3" ry="8.2" fill="url(#cellg)" stroke="#34420e" stroke-width="1.3"/>
<circle cx="73.4" cy="138.6" r="3.4" fill="#8c5a12" stroke="#5a3a08" stroke-width="0.4"/>
<rect x="125.60" y="144.70" width="92.20" height="4.80" fill="#a9cbe6" stroke="none" stroke-width="1"/>
<path d="M126.00,141.00 C127.50,140.50 131.67,137.67 135.00,138.00 C138.33,138.33 142.17,142.67 146.00,143.00 C149.83,143.33 154.00,139.83 158.00,140.00 C162.00,140.17 165.83,144.00 170.00,144.00 C174.17,144.00 178.67,140.17 183.00,140.00 C187.33,139.83 191.83,143.00 196.00,143.00 C200.17,143.00 204.33,140.33 208.00,140.00 C211.67,139.67 216.33,140.83 218.00,141.00" fill="none" stroke="#27336a" stroke-width="2.50" stroke-linecap="round"/>
<path d="M126.00,141.00 C127.50,140.50 131.67,137.67 135.00,138.00 C138.33,138.33 142.17,142.67 146.00,143.00 C149.83,143.33 154.00,139.83 158.00,140.00 C162.00,140.17 165.83,144.00 170.00,144.00 C174.17,144.00 178.67,140.17 183.00,140.00 C187.33,139.83 191.83,143.00 196.00,143.00 C200.17,143.00 204.33,140.33 208.00,140.00 C211.67,139.67 216.33,140.83 218.00,141.00" fill="none" stroke="#c8621c" stroke-width="1.90" stroke-dasharray="4.6 3.6" transform="translate(0.3 0.4)"/>
<path d="M125.00,135.00 C126.83,135.67 131.83,139.33 136.00,139.00 C140.17,138.67 145.50,133.33 150.00,133.00 C154.50,132.67 158.67,137.17 163.00,137.00 C167.33,136.83 171.50,132.00 176.00,132.00 C180.50,132.00 185.50,136.83 190.00,137.00 C194.50,137.17 198.17,133.33 203.00,133.00 C207.83,132.67 216.33,134.67 219.00,135.00" fill="none" stroke="#27336a" stroke-width="2.50" stroke-linecap="round"/>
<path d="M125.00,135.00 C126.83,135.67 131.83,139.33 136.00,139.00 C140.17,138.67 145.50,133.33 150.00,133.00 C154.50,132.67 158.67,137.17 163.00,137.00 C167.33,136.83 171.50,132.00 176.00,132.00 C180.50,132.00 185.50,136.83 190.00,137.00 C194.50,137.17 198.17,133.33 203.00,133.00 C207.83,132.67 216.33,134.67 219.00,135.00" fill="none" stroke="#c8621c" stroke-width="1.90" stroke-dasharray="4.6 3.6" transform="translate(0.3 0.4)"/>
<ellipse cx="140.2" cy="135" rx="8.8" ry="6.4" fill="url(#cellg)" stroke="#3b6914" stroke-width="1.3"/>
<circle cx="143.4" cy="135.3" r="2.9" fill="#8e5a10"/>
<ellipse cx="168.7" cy="137.8" rx="9.2" ry="6.8" fill="url(#cellg)" stroke="#3b6914" stroke-width="1.3"/>
<circle cx="171" cy="140.6" r="2.9" fill="#8e5a10"/>
<ellipse cx="206.3" cy="136.6" rx="8.6" ry="6.4" fill="url(#cellg)" stroke="#3b6914" stroke-width="1.3"/>
<circle cx="208.6" cy="137.8" r="2.9" fill="#8e5a10"/>
<path d="M126.00,129.00 C128.00,128.50 134.00,125.67 138.00,126.00 C142.00,126.33 146.00,130.83 150.00,131.00 C154.00,131.17 157.83,128.17 162.00,127.00 C166.17,125.83 170.67,123.50 175.00,124.00 C179.33,124.50 183.83,129.67 188.00,130.00 C192.17,130.33 196.33,126.17 200.00,126.00 C203.67,125.83 207.00,128.83 210.00,129.00 C213.00,129.17 216.67,127.33 218.00,127.00" fill="none" stroke="#27336a" stroke-width="2.50" stroke-linecap="round"/>
<path d="M126.00,129.00 C128.00,128.50 134.00,125.67 138.00,126.00 C142.00,126.33 146.00,130.83 150.00,131.00 C154.00,131.17 157.83,128.17 162.00,127.00 C166.17,125.83 170.67,123.50 175.00,124.00 C179.33,124.50 183.83,129.67 188.00,130.00 C192.17,130.33 196.33,126.17 200.00,126.00 C203.67,125.83 207.00,128.83 210.00,129.00 C213.00,129.17 216.67,127.33 218.00,127.00" fill="none" stroke="#c8621c" stroke-width="1.90" stroke-dasharray="4.6 3.6" transform="translate(0.3 0.4)"/>
<path d="M128.00,141.00 C130.00,140.33 136.00,136.83 140.00,137.00 C144.00,137.17 147.67,142.17 152.00,142.00 C156.33,141.83 161.67,136.00 166.00,136.00 C170.33,136.00 173.67,142.00 178.00,142.00 C182.33,142.00 187.50,136.00 192.00,136.00 C196.50,136.00 200.83,141.67 205.00,142.00 C209.17,142.33 215.00,138.67 217.00,138.00" fill="none" stroke="#27336a" stroke-width="2.25" stroke-linecap="round"/>
<path d="M128.00,141.00 C130.00,140.33 136.00,136.83 140.00,137.00 C144.00,137.17 147.67,142.17 152.00,142.00 C156.33,141.83 161.67,136.00 166.00,136.00 C170.33,136.00 173.67,142.00 178.00,142.00 C182.33,142.00 187.50,136.00 192.00,136.00 C196.50,136.00 200.83,141.67 205.00,142.00 C209.17,142.33 215.00,138.67 217.00,138.00" fill="none" stroke="#c8621c" stroke-width="1.71" stroke-dasharray="4.6 3.6" transform="translate(0.3 0.4)"/>
<path d="M133.50,124.00 C133.67,125.00 134.50,128.00 134.50,130.00 C134.50,132.00 133.67,135.00 133.50,136.00" fill="none" stroke="#27336a" stroke-width="2.25" stroke-linecap="round"/>
<path d="M133.50,124.00 C133.67,125.00 134.50,128.00 134.50,130.00 C134.50,132.00 133.67,135.00 133.50,136.00" fill="none" stroke="#c8621c" stroke-width="1.71" stroke-dasharray="4.6 3.6" transform="translate(0.3 0.4)"/>
<path d="M166.00,123.00 C166.25,124.17 167.50,127.67 167.50,130.00 C167.50,132.33 166.25,135.83 166.00,137.00" fill="none" stroke="#27336a" stroke-width="2.25" stroke-linecap="round"/>
<path d="M166.00,123.00 C166.25,124.17 167.50,127.67 167.50,130.00 C167.50,132.33 166.25,135.83 166.00,137.00" fill="none" stroke="#c8621c" stroke-width="1.71" stroke-dasharray="4.6 3.6" transform="translate(0.3 0.4)"/>
<path d="M180.00,123.00 C179.75,124.17 178.33,127.83 178.50,130.00 C178.67,132.17 180.58,135.00 181.00,136.00" fill="none" stroke="#27336a" stroke-width="2.25" stroke-linecap="round"/>
<path d="M180.00,123.00 C179.75,124.17 178.33,127.83 178.50,130.00 C178.67,132.17 180.58,135.00 181.00,136.00" fill="none" stroke="#c8621c" stroke-width="1.71" stroke-dasharray="4.6 3.6" transform="translate(0.3 0.4)"/>
<path d="M200.00,126.00 C200.67,126.83 202.33,130.67 204.00,131.00 C205.67,131.33 209.00,128.50 210.00,128.00" fill="none" stroke="#27336a" stroke-width="2.00" stroke-linecap="round"/>
<path d="M200.00,126.00 C200.67,126.83 202.33,130.67 204.00,131.00 C205.67,131.33 209.00,128.50 210.00,128.00" fill="none" stroke="#c8621c" stroke-width="1.52" stroke-dasharray="4.6 3.6" transform="translate(0.3 0.4)"/>
<rect x="232.60" y="145.00" width="91.10" height="4.40" fill="#a9cbe6" stroke="none" stroke-width="1"/>
<path d="M232.00,136.60 C233.67,136.33 238.67,135.93 242.00,135.00 C245.33,134.07 248.67,132.17 252.00,131.00 C255.33,129.83 258.67,128.00 262.00,128.00 C265.33,128.00 268.67,131.33 272.00,131.00 C275.33,130.67 279.00,127.03 282.00,126.00 C285.00,124.97 287.00,124.63 290.00,124.80 C293.00,124.97 296.67,125.80 300.00,127.00 C303.33,128.20 306.33,132.00 310.00,132.00 C313.67,132.00 320.00,127.83 322.00,127.00" fill="none" stroke="#27336a" stroke-width="2.50" stroke-linecap="round"/>
<path d="M232.00,136.60 C233.67,136.33 238.67,135.93 242.00,135.00 C245.33,134.07 248.67,132.17 252.00,131.00 C255.33,129.83 258.67,128.00 262.00,128.00 C265.33,128.00 268.67,131.33 272.00,131.00 C275.33,130.67 279.00,127.03 282.00,126.00 C285.00,124.97 287.00,124.63 290.00,124.80 C293.00,124.97 296.67,125.80 300.00,127.00 C303.33,128.20 306.33,132.00 310.00,132.00 C313.67,132.00 320.00,127.83 322.00,127.00" fill="none" stroke="#c8621c" stroke-width="1.90" stroke-dasharray="4.6 3.6" transform="translate(0.3 0.4)"/>
<path d="M231.40,132.10 C233.33,131.58 239.02,129.95 243.00,129.00 C246.98,128.05 251.63,126.57 255.30,126.40 C258.97,126.23 261.95,127.82 265.00,128.00 C268.05,128.18 269.90,126.63 273.60,127.50 C277.30,128.37 282.27,131.87 287.20,133.20 C292.13,134.53 299.07,135.70 303.20,135.50 C307.33,135.30 309.35,132.95 312.00,132.00 C314.65,131.05 317.27,129.97 319.10,129.80 C320.93,129.63 322.35,130.80 323.00,131.00" fill="none" stroke="#27336a" stroke-width="2.50" stroke-linecap="round"/>
<path d="M231.40,132.10 C233.33,131.58 239.02,129.95 243.00,129.00 C246.98,128.05 251.63,126.57 255.30,126.40 C258.97,126.23 261.95,127.82 265.00,128.00 C268.05,128.18 269.90,126.63 273.60,127.50 C277.30,128.37 282.27,131.87 287.20,133.20 C292.13,134.53 299.07,135.70 303.20,135.50 C307.33,135.30 309.35,132.95 312.00,132.00 C314.65,131.05 317.27,129.97 319.10,129.80 C320.93,129.63 322.35,130.80 323.00,131.00" fill="none" stroke="#c8621c" stroke-width="1.90" stroke-dasharray="4.6 3.6" transform="translate(0.3 0.4)"/>
<path d="M232.60,142.30 C234.67,141.92 241.10,139.88 245.00,140.00 C248.90,140.12 252.17,143.17 256.00,143.00 C259.83,142.83 264.00,139.17 268.00,139.00 C272.00,138.83 275.28,141.25 280.00,142.00 C284.72,142.75 291.63,143.83 296.30,143.50 C300.97,143.17 304.38,140.92 308.00,140.00 C311.62,139.08 315.33,138.67 318.00,138.00 C320.67,137.33 323.00,136.33 324.00,136.00" fill="none" stroke="#27336a" stroke-width="2.50" stroke-linecap="round"/>
<path d="M232.60,142.30 C234.67,141.92 241.10,139.88 245.00,140.00 C248.90,140.12 252.17,143.17 256.00,143.00 C259.83,142.83 264.00,139.17 268.00,139.00 C272.00,138.83 275.28,141.25 280.00,142.00 C284.72,142.75 291.63,143.83 296.30,143.50 C300.97,143.17 304.38,140.92 308.00,140.00 C311.62,139.08 315.33,138.67 318.00,138.00 C320.67,137.33 323.00,136.33 324.00,136.00" fill="none" stroke="#c8621c" stroke-width="1.90" stroke-dasharray="4.6 3.6" transform="translate(0.3 0.4)"/>
<path d="M234.00,138.50 C236.33,139.25 243.67,142.92 248.00,143.00 C252.33,143.08 256.00,139.33 260.00,139.00 C264.00,138.67 267.33,141.17 272.00,141.00 C276.67,140.83 283.33,138.17 288.00,138.00 C292.67,137.83 296.00,139.33 300.00,140.00 C304.00,140.67 308.33,141.83 312.00,142.00 C315.67,142.17 320.33,141.17 322.00,141.00" fill="none" stroke="#27336a" stroke-width="2.50" stroke-linecap="round"/>
<path d="M234.00,138.50 C236.33,139.25 243.67,142.92 248.00,143.00 C252.33,143.08 256.00,139.33 260.00,139.00 C264.00,138.67 267.33,141.17 272.00,141.00 C276.67,140.83 283.33,138.17 288.00,138.00 C292.67,137.83 296.00,139.33 300.00,140.00 C304.00,140.67 308.33,141.83 312.00,142.00 C315.67,142.17 320.33,141.17 322.00,141.00" fill="none" stroke="#c8621c" stroke-width="1.90" stroke-dasharray="4.6 3.6" transform="translate(0.3 0.4)"/>
<path d="M240.50,124.00 C240.58,124.75 241.08,127.00 241.00,128.50 C240.92,130.00 240.17,132.25 240.00,133.00" fill="none" stroke="#27336a" stroke-width="2.25" stroke-linecap="round"/>
<path d="M240.50,124.00 C240.58,124.75 241.08,127.00 241.00,128.50 C240.92,130.00 240.17,132.25 240.00,133.00" fill="none" stroke="#c8621c" stroke-width="1.71" stroke-dasharray="4.6 3.6" transform="translate(0.3 0.4)"/>
<path d="M272.40,123.00 C272.50,123.75 273.07,126.00 273.00,127.50 C272.93,129.00 272.17,131.25 272.00,132.00" fill="none" stroke="#27336a" stroke-width="2.25" stroke-linecap="round"/>
<path d="M272.40,123.00 C272.50,123.75 273.07,126.00 273.00,127.50 C272.93,129.00 272.17,131.25 272.00,132.00" fill="none" stroke="#c8621c" stroke-width="1.71" stroke-dasharray="4.6 3.6" transform="translate(0.3 0.4)"/>
<path d="M283.00,124.00 C283.17,124.75 284.00,127.00 284.00,128.50 C284.00,130.00 283.17,132.25 283.00,133.00" fill="none" stroke="#27336a" stroke-width="2.25" stroke-linecap="round"/>
<path d="M283.00,124.00 C283.17,124.75 284.00,127.00 284.00,128.50 C284.00,130.00 283.17,132.25 283.00,133.00" fill="none" stroke="#c8621c" stroke-width="1.71" stroke-dasharray="4.6 3.6" transform="translate(0.3 0.4)"/>
<path d="M290.00,130.00 C291.33,129.33 295.33,126.33 298.00,126.00 C300.67,125.67 303.33,128.00 306.00,128.00 C308.67,128.00 311.67,126.00 314.00,126.00 C316.33,126.00 319.00,127.67 320.00,128.00" fill="none" stroke="#27336a" stroke-width="2.00" stroke-linecap="round"/>
<path d="M290.00,130.00 C291.33,129.33 295.33,126.33 298.00,126.00 C300.67,125.67 303.33,128.00 306.00,128.00 C308.67,128.00 311.67,126.00 314.00,126.00 C316.33,126.00 319.00,127.67 320.00,128.00" fill="none" stroke="#c8621c" stroke-width="1.52" stroke-dasharray="4.6 3.6" transform="translate(0.3 0.4)"/>
<rect x="339.30" y="144.50" width="92.20" height="5.60" fill="#a9cbe6" stroke="none" stroke-width="1"/>
<path d="M340.00,141.00 C341.67,140.50 346.33,137.83 350.00,138.00 C353.67,138.17 358.00,142.17 362.00,142.00 C366.00,141.83 370.00,137.17 374.00,137.00 C378.00,136.83 382.00,140.83 386.00,141.00 C390.00,141.17 394.00,137.83 398.00,138.00 C402.00,138.17 406.00,141.83 410.00,142.00 C414.00,142.17 418.50,139.17 422.00,139.00 C425.50,138.83 429.50,140.67 431.00,141.00" fill="none" stroke="#27336a" stroke-width="2.50" stroke-linecap="round"/>
<path d="M340.00,141.00 C341.67,140.50 346.33,137.83 350.00,138.00 C353.67,138.17 358.00,142.17 362.00,142.00 C366.00,141.83 370.00,137.17 374.00,137.00 C378.00,136.83 382.00,140.83 386.00,141.00 C390.00,141.17 394.00,137.83 398.00,138.00 C402.00,138.17 406.00,141.83 410.00,142.00 C414.00,142.17 418.50,139.17 422.00,139.00 C425.50,138.83 429.50,140.67 431.00,141.00" fill="none" stroke="#c8621c" stroke-width="1.90" stroke-dasharray="4.6 3.6" transform="translate(0.3 0.4)"/>
<path d="M341.00,137.00 C342.83,137.67 348.17,141.17 352.00,141.00 C355.83,140.83 359.67,136.17 364.00,136.00 C368.33,135.83 373.33,140.17 378.00,140.00 C382.67,139.83 387.33,135.00 392.00,135.00 C396.67,135.00 401.33,139.83 406.00,140.00 C410.67,140.17 416.00,136.33 420.00,136.00 C424.00,135.67 428.33,137.67 430.00,138.00" fill="none" stroke="#27336a" stroke-width="2.50" stroke-linecap="round"/>
<path d="M341.00,137.00 C342.83,137.67 348.17,141.17 352.00,141.00 C355.83,140.83 359.67,136.17 364.00,136.00 C368.33,135.83 373.33,140.17 378.00,140.00 C382.67,139.83 387.33,135.00 392.00,135.00 C396.67,135.00 401.33,139.83 406.00,140.00 C410.67,140.17 416.00,136.33 420.00,136.00 C424.00,135.67 428.33,137.67 430.00,138.00" fill="none" stroke="#c8621c" stroke-width="1.90" stroke-dasharray="4.6 3.6" transform="translate(0.3 0.4)"/>
<path d="M343.00,143.00 C345.17,142.50 351.83,139.83 356.00,140.00 C360.17,140.17 363.67,144.00 368.00,144.00 C372.33,144.00 377.33,140.17 382.00,140.00 C386.67,139.83 391.33,143.00 396.00,143.00 C400.67,143.00 405.33,140.00 410.00,140.00 C414.67,140.00 421.67,142.50 424.00,143.00" fill="none" stroke="#27336a" stroke-width="2.25" stroke-linecap="round"/>
<path d="M343.00,143.00 C345.17,142.50 351.83,139.83 356.00,140.00 C360.17,140.17 363.67,144.00 368.00,144.00 C372.33,144.00 377.33,140.17 382.00,140.00 C386.67,139.83 391.33,143.00 396.00,143.00 C400.67,143.00 405.33,140.00 410.00,140.00 C414.67,140.00 421.67,142.50 424.00,143.00" fill="none" stroke="#c8621c" stroke-width="1.71" stroke-dasharray="4.6 3.6" transform="translate(0.3 0.4)"/>
<path d="M368.00,141.00 C368.67,139.67 370.33,135.50 372.00,133.00 C373.67,130.50 376.33,128.00 378.00,126.00 C379.67,124.00 381.33,121.83 382.00,121.00" fill="none" stroke="#27336a" stroke-width="2.25" stroke-linecap="round"/>
<path d="M368.00,141.00 C368.67,139.67 370.33,135.50 372.00,133.00 C373.67,130.50 376.33,128.00 378.00,126.00 C379.67,124.00 381.33,121.83 382.00,121.00" fill="none" stroke="#c8621c" stroke-width="1.71" stroke-dasharray="4.6 3.6" transform="translate(0.3 0.4)"/>
<path d="M393.00,122.00 C393.50,123.33 394.83,127.67 396.00,130.00 C397.17,132.33 398.67,134.00 400.00,136.00 C401.33,138.00 403.33,141.00 404.00,142.00" fill="none" stroke="#27336a" stroke-width="2.25" stroke-linecap="round"/>
<path d="M393.00,122.00 C393.50,123.33 394.83,127.67 396.00,130.00 C397.17,132.33 398.67,134.00 400.00,136.00 C401.33,138.00 403.33,141.00 404.00,142.00" fill="none" stroke="#c8621c" stroke-width="1.71" stroke-dasharray="4.6 3.6" transform="translate(0.3 0.4)"/>
<path d="M405.00,123.00 C405.83,123.83 408.17,127.50 410.00,128.00 C411.83,128.50 413.67,125.50 416.00,126.00 C418.33,126.50 421.67,130.67 424.00,131.00 C426.33,131.33 429.00,128.50 430.00,128.00" fill="none" stroke="#27336a" stroke-width="2.25" stroke-linecap="round"/>
<path d="M405.00,123.00 C405.83,123.83 408.17,127.50 410.00,128.00 C411.83,128.50 413.67,125.50 416.00,126.00 C418.33,126.50 421.67,130.67 424.00,131.00 C426.33,131.33 429.00,128.50 430.00,128.00" fill="none" stroke="#c8621c" stroke-width="1.71" stroke-dasharray="4.6 3.6" transform="translate(0.3 0.4)"/>
<path d="M383.00,128.00 C384.17,127.67 387.50,125.67 390.00,126.00 C392.50,126.33 395.67,129.67 398.00,130.00 C400.33,130.33 403.00,128.33 404.00,128.00" fill="none" stroke="#27336a" stroke-width="2.00" stroke-linecap="round"/>
<path d="M383.00,128.00 C384.17,127.67 387.50,125.67 390.00,126.00 C392.50,126.33 395.67,129.67 398.00,130.00 C400.33,130.33 403.00,128.33 404.00,128.00" fill="none" stroke="#c8621c" stroke-width="1.52" stroke-dasharray="4.6 3.6" transform="translate(0.3 0.4)"/>
<path d="M420.00,124.00 C420.50,125.33 422.67,129.33 423.00,132.00 C423.33,134.67 422.17,138.67 422.00,140.00" fill="none" stroke="#27336a" stroke-width="2.00" stroke-linecap="round"/>
<path d="M420.00,124.00 C420.50,125.33 422.67,129.33 423.00,132.00 C423.33,134.67 422.17,138.67 422.00,140.00" fill="none" stroke="#c8621c" stroke-width="1.52" stroke-dasharray="4.6 3.6" transform="translate(0.3 0.4)"/>
<circle cx="343" cy="125" r="5.3" fill="#cf1f1f" stroke="#a01010" stroke-width="0.5"/>
<circle cx="343.6" cy="125.2" r="2.9" fill="#6e0808"/>
<circle cx="343.8" cy="125.3" r="1.5" fill="#3a0000"/>
<circle cx="356" cy="116.8" r="5.3" fill="#cf1f1f" stroke="#a01010" stroke-width="0.5"/>
<circle cx="356.6" cy="117.0" r="2.9" fill="#6e0808"/>
<circle cx="356.8" cy="117.1" r="1.5" fill="#3a0000"/>
<circle cx="374.2" cy="120.5" r="5.3" fill="#cf1f1f" stroke="#a01010" stroke-width="0.5"/>
<circle cx="374.8" cy="120.7" r="2.9" fill="#6e0808"/>
<circle cx="375.0" cy="120.8" r="1.5" fill="#3a0000"/>
<circle cx="387.8" cy="113" r="5.3" fill="#cf1f1f" stroke="#a01010" stroke-width="0.5"/>
<circle cx="388.40000000000003" cy="113.2" r="2.9" fill="#6e0808"/>
<circle cx="388.6" cy="113.3" r="1.5" fill="#3a0000"/>
<circle cx="415.9" cy="113.7" r="5.3" fill="#cf1f1f" stroke="#a01010" stroke-width="0.5"/>
<circle cx="416.5" cy="113.9" r="2.9" fill="#6e0808"/>
<circle cx="416.7" cy="114.0" r="1.5" fill="#3a0000"/>
<circle cx="402.9" cy="125" r="5.3" fill="#cf1f1f" stroke="#a01010" stroke-width="0.5"/>
<circle cx="403.5" cy="125.2" r="2.9" fill="#6e0808"/>
<circle cx="403.7" cy="125.3" r="1.5" fill="#3a0000"/>
<circle cx="361.9" cy="133.5" r="5.3" fill="#cf1f1f" stroke="#a01010" stroke-width="0.5"/>
<circle cx="362.5" cy="133.7" r="2.9" fill="#6e0808"/>
<circle cx="362.7" cy="133.8" r="1.5" fill="#3a0000"/>
<circle cx="389.7" cy="138.7" r="5.3" fill="#cf1f1f" stroke="#a01010" stroke-width="0.5"/>
<circle cx="390.3" cy="138.89999999999998" r="2.9" fill="#6e0808"/>
<circle cx="390.5" cy="139.0" r="1.5" fill="#3a0000"/>
<circle cx="418.8" cy="139.2" r="5.3" fill="#cf1f1f" stroke="#a01010" stroke-width="0.5"/>
<circle cx="419.40000000000003" cy="139.39999999999998" r="2.9" fill="#6e0808"/>
<circle cx="419.6" cy="139.5" r="1.5" fill="#3a0000"/>
<text x="1.00" y="173.90" font-size="15" font-weight="bold" fill="#000" color="#000" text-anchor="start">b</text>
<line x1="63.15" y1="238.98" x2="63.15" y2="245.62" stroke="#000" stroke-width="1.2"/>
<line x1="59.44" y1="238.98" x2="66.86" y2="238.98" stroke="#000" stroke-width="1.2"/>
<line x1="59.44" y1="245.62" x2="66.86" y2="245.62" stroke="#000" stroke-width="1.2"/>
<rect x="56.40" y="242.60" width="13.50" height="15.10" fill="#fff" stroke="none" stroke-width="1"/>
<rect x="56.40" y="255.28" width="13.50" height="2.42" fill="url(#hatch)" stroke="none" stroke-width="1"/>
<line x1="56.40" y1="255.28" x2="69.90" y2="255.28" stroke="#000" stroke-width="1.3"/>
<line x1="63.15" y1="242.60" x2="63.15" y2="245.62" stroke="#000" stroke-width="1.2"/>
<line x1="59.44" y1="245.62" x2="66.86" y2="245.62" stroke="#000" stroke-width="1.2"/>
<rect x="56.40" y="242.60" width="13.50" height="15.10" fill="none" stroke="#000" stroke-width="1.3"/>
<line x1="63.15" y1="257.70" x2="63.15" y2="260.10" stroke="#000" stroke-width="1.2"/>
<line x1="81.45" y1="197.00" x2="81.45" y2="200.32" stroke="#000" stroke-width="1.2"/>
<line x1="78.01" y1="197.00" x2="84.89" y2="197.00" stroke="#000" stroke-width="1.2"/>
<line x1="78.01" y1="200.32" x2="84.89" y2="200.32" stroke="#000" stroke-width="1.2"/>
<rect x="75.20" y="198.81" width="12.50" height="58.89" fill="#fff" stroke="none" stroke-width="1"/>
<rect x="75.20" y="242.60" width="12.50" height="15.10" fill="url(#hatch)" stroke="none" stroke-width="1"/>
<line x1="75.20" y1="242.60" x2="87.70" y2="242.60" stroke="#000" stroke-width="1.3"/>
<line x1="81.45" y1="198.81" x2="81.45" y2="200.32" stroke="#000" stroke-width="1.2"/>
<line x1="78.01" y1="200.32" x2="84.89" y2="200.32" stroke="#000" stroke-width="1.2"/>
<rect x="75.20" y="198.81" width="12.50" height="58.89" fill="none" stroke="#000" stroke-width="1.3"/>
<line x1="81.45" y1="257.70" x2="81.45" y2="260.10" stroke="#000" stroke-width="1.2"/>
<line x1="101.05" y1="174.65" x2="101.05" y2="184.01" stroke="#000" stroke-width="1.2"/>
<line x1="97.45" y1="174.65" x2="104.65" y2="174.65" stroke="#000" stroke-width="1.2"/>
<line x1="97.45" y1="184.01" x2="104.65" y2="184.01" stroke="#000" stroke-width="1.2"/>
<rect x="94.50" y="179.48" width="13.10" height="78.22" fill="#fff" stroke="none" stroke-width="1"/>
<rect x="94.50" y="242.00" width="13.10" height="15.70" fill="url(#hatch)" stroke="none" stroke-width="1"/>
<line x1="94.50" y1="242.00" x2="107.60" y2="242.00" stroke="#000" stroke-width="1.3"/>
<line x1="101.05" y1="179.48" x2="101.05" y2="184.01" stroke="#000" stroke-width="1.2"/>
<line x1="97.45" y1="184.01" x2="104.65" y2="184.01" stroke="#000" stroke-width="1.2"/>
<rect x="94.50" y="179.48" width="13.10" height="78.22" fill="none" stroke="#000" stroke-width="1.3"/>
<line x1="101.05" y1="257.70" x2="101.05" y2="260.10" stroke="#000" stroke-width="1.2"/>
<line x1="139.95" y1="248.34" x2="139.95" y2="251.06" stroke="#000" stroke-width="1.2"/>
<line x1="136.35" y1="248.34" x2="143.55" y2="248.34" stroke="#000" stroke-width="1.2"/>
<line x1="136.35" y1="251.06" x2="143.55" y2="251.06" stroke="#000" stroke-width="1.2"/>
<rect x="133.40" y="249.73" width="13.10" height="7.97" fill="#fff" stroke="none" stroke-width="1"/>
<line x1="139.95" y1="249.73" x2="139.95" y2="251.06" stroke="#000" stroke-width="1.2"/>
<line x1="136.35" y1="251.06" x2="143.55" y2="251.06" stroke="#000" stroke-width="1.2"/>
<rect x="133.40" y="249.73" width="13.10" height="7.97" fill="none" stroke="#000" stroke-width="1.3"/>
<text x="139.95" y="246.04" font-size="12" font-weight="bold" fill="#000" color="#000" text-anchor="middle">*</text>
<line x1="139.95" y1="257.70" x2="139.95" y2="260.10" stroke="#000" stroke-width="1.2"/>
<line x1="159.05" y1="226.29" x2="159.05" y2="239.28" stroke="#000" stroke-width="1.2"/>
<line x1="155.45" y1="226.29" x2="162.65" y2="226.29" stroke="#000" stroke-width="1.2"/>
<line x1="155.45" y1="239.28" x2="162.65" y2="239.28" stroke="#000" stroke-width="1.2"/>
<rect x="152.50" y="232.39" width="13.10" height="25.31" fill="#fff" stroke="none" stroke-width="1"/>
<line x1="159.05" y1="232.39" x2="159.05" y2="239.28" stroke="#000" stroke-width="1.2"/>
<line x1="155.45" y1="239.28" x2="162.65" y2="239.28" stroke="#000" stroke-width="1.2"/>
<rect x="152.50" y="232.39" width="13.10" height="25.31" fill="none" stroke="#000" stroke-width="1.3"/>
<text x="159.05" y="223.99" font-size="12" font-weight="bold" fill="#000" color="#000" text-anchor="middle">**</text>
<line x1="159.05" y1="257.70" x2="159.05" y2="260.10" stroke="#000" stroke-width="1.2"/>
<line x1="178.15" y1="206.96" x2="178.15" y2="221.46" stroke="#000" stroke-width="1.2"/>
<line x1="174.55" y1="206.96" x2="181.75" y2="206.96" stroke="#000" stroke-width="1.2"/>
<line x1="174.55" y1="221.46" x2="181.75" y2="221.46" stroke="#000" stroke-width="1.2"/>
<rect x="171.60" y="213.91" width="13.10" height="43.79" fill="#fff" stroke="none" stroke-width="1"/>
<line x1="178.15" y1="213.91" x2="178.15" y2="221.46" stroke="#000" stroke-width="1.2"/>
<line x1="174.55" y1="221.46" x2="181.75" y2="221.46" stroke="#000" stroke-width="1.2"/>
<rect x="171.60" y="213.91" width="13.10" height="43.79" fill="none" stroke="#000" stroke-width="1.3"/>
<text x="178.15" y="204.66" font-size="12" font-weight="bold" fill="#000" color="#000" text-anchor="middle">**</text>
<line x1="178.15" y1="257.70" x2="178.15" y2="260.10" stroke="#000" stroke-width="1.2"/>
<line x1="53.00" y1="252.40" x2="188.20" y2="252.40" stroke="#000" stroke-width="1.1"/>
<line x1="53.00" y1="167.10" x2="53.00" y2="258.30" stroke="#000" stroke-width="1.3"/>
<line x1="53.00" y1="257.70" x2="188.20" y2="257.70" stroke="#000" stroke-width="1.3"/>
<line x1="50.40" y1="257.70" x2="53.00" y2="257.70" stroke="#000" stroke-width="1.2"/>
<text x="48.80" y="262.90" font-size="9.8" font-weight="bold" fill="#000" color="#000" text-anchor="end" textLength="4.79" lengthAdjust="spacingAndGlyphs">0</text>
<line x1="50.40" y1="227.50" x2="53.00" y2="227.50" stroke="#000" stroke-width="1.2"/>
<text x="48.80" y="232.70" font-size="9.8" font-weight="bold" fill="#000" color="#000" text-anchor="end" textLength="4.79" lengthAdjust="spacingAndGlyphs">5</text>
<line x1="50.40" y1="197.30" x2="53.00" y2="197.30" stroke="#000" stroke-width="1.2"/>
<text x="48.80" y="202.50" font-size="9.8" font-weight="bold" fill="#000" color="#000" text-anchor="end" textLength="9.59" lengthAdjust="spacingAndGlyphs">10</text>
<line x1="50.40" y1="167.10" x2="53.00" y2="167.10" stroke="#000" stroke-width="1.2"/>
<text x="48.80" y="172.30" font-size="9.8" font-weight="bold" fill="#000" color="#000" text-anchor="end" textLength="9.59" lengthAdjust="spacingAndGlyphs">15</text>
<text x="63.10" y="270.00" font-size="9.2" font-weight="bold" fill="#000" color="#000" text-anchor="middle">5</text>
<text x="81.40" y="270.00" font-size="9.2" font-weight="bold" fill="#000" color="#000" text-anchor="middle">7</text>
<text x="101.00" y="270.00" font-size="9.2" font-weight="bold" fill="#000" color="#000" text-anchor="middle">11</text>
<text x="140.00" y="270.00" font-size="9.2" font-weight="bold" fill="#000" color="#000" text-anchor="middle">5</text>
<text x="159.00" y="270.00" font-size="9.2" font-weight="bold" fill="#000" color="#000" text-anchor="middle">7</text>
<text x="178.20" y="270.00" font-size="9.2" font-weight="bold" fill="#000" color="#000" text-anchor="middle">11</text>
<line x1="55.60" y1="272.60" x2="108.40" y2="272.60" stroke="#000" stroke-width="1.3"/>
<line x1="133.40" y1="272.60" x2="185.30" y2="272.60" stroke="#000" stroke-width="1.3"/>
<text x="81.80" y="284.20" font-size="9.2" font-weight="bold" fill="#000" color="#000" text-anchor="middle">ECM</text>
<text x="158.80" y="284.20" font-size="9.2" font-weight="bold" fill="#000" color="#000" text-anchor="middle">PCD</text>
<text x="26.40" y="219.30" font-size="7.8" font-weight="bold" fill="#000" color="#000" text-anchor="middle" textLength="72" lengthAdjust="spacingAndGlyphs" transform="rotate(-90 26.40 219.30)">TNC fold expansion</text>
<text x="35.80" y="216.00" font-size="7.6" font-weight="bold" fill="#000" color="#000" text-anchor="middle" textLength="94.6" lengthAdjust="spacingAndGlyphs" transform="rotate(-90 35.80 216.00)">(from starting cell number)</text>
<line x1="234.95" y1="220.20" x2="234.95" y2="232.80" stroke="#000" stroke-width="1.2"/>
<line x1="231.46" y1="220.20" x2="238.44" y2="220.20" stroke="#000" stroke-width="1.2"/>
<line x1="231.46" y1="232.80" x2="238.44" y2="232.80" stroke="#000" stroke-width="1.2"/>
<rect x="228.60" y="226.50" width="12.70" height="31.50" fill="#fff" stroke="none" stroke-width="1"/>
<rect x="228.60" y="253.86" width="12.70" height="4.14" fill="url(#hatch)" stroke="none" stroke-width="1"/>
<line x1="228.60" y1="253.86" x2="241.30" y2="253.86" stroke="#000" stroke-width="1.3"/>
<line x1="234.95" y1="226.50" x2="234.95" y2="232.80" stroke="#000" stroke-width="1.2"/>
<line x1="231.46" y1="232.80" x2="238.44" y2="232.80" stroke="#000" stroke-width="1.2"/>
<rect x="228.60" y="226.50" width="12.70" height="31.50" fill="none" stroke="#000" stroke-width="1.3"/>
<line x1="234.95" y1="258.00" x2="234.95" y2="260.40" stroke="#000" stroke-width="1.2"/>
<line x1="254.65" y1="177.00" x2="254.65" y2="181.50" stroke="#000" stroke-width="1.2"/>
<line x1="251.21" y1="177.00" x2="258.09" y2="177.00" stroke="#000" stroke-width="1.2"/>
<line x1="251.21" y1="181.50" x2="258.09" y2="181.50" stroke="#000" stroke-width="1.2"/>
<rect x="248.40" y="179.70" width="12.50" height="78.30" fill="#fff" stroke="none" stroke-width="1"/>
<rect x="248.40" y="239.46" width="12.50" height="18.54" fill="url(#hatch)" stroke="none" stroke-width="1"/>
<line x1="248.40" y1="239.46" x2="260.90" y2="239.46" stroke="#000" stroke-width="1.3"/>
<line x1="254.65" y1="179.70" x2="254.65" y2="181.50" stroke="#000" stroke-width="1.2"/>
<line x1="251.21" y1="181.50" x2="258.09" y2="181.50" stroke="#000" stroke-width="1.2"/>
<rect x="248.40" y="179.70" width="12.50" height="78.30" fill="none" stroke="#000" stroke-width="1.3"/>
<line x1="254.65" y1="258.00" x2="254.65" y2="260.40" stroke="#000" stroke-width="1.2"/>
<line x1="274.25" y1="176.10" x2="274.25" y2="186.00" stroke="#000" stroke-width="1.2"/>
<line x1="270.76" y1="176.10" x2="277.74" y2="176.10" stroke="#000" stroke-width="1.2"/>
<line x1="270.76" y1="186.00" x2="277.74" y2="186.00" stroke="#000" stroke-width="1.2"/>
<rect x="267.90" y="181.50" width="12.70" height="76.50" fill="#fff" stroke="none" stroke-width="1"/>
<rect x="267.90" y="243.24" width="12.70" height="14.76" fill="url(#hatch)" stroke="none" stroke-width="1"/>
<line x1="267.90" y1="243.24" x2="280.60" y2="243.24" stroke="#000" stroke-width="1.3"/>
<line x1="274.25" y1="181.50" x2="274.25" y2="186.00" stroke="#000" stroke-width="1.2"/>
<line x1="270.76" y1="186.00" x2="277.74" y2="186.00" stroke="#000" stroke-width="1.2"/>
<rect x="267.90" y="181.50" width="12.70" height="76.50" fill="none" stroke="#000" stroke-width="1.3"/>
<line x1="274.25" y1="258.00" x2="274.25" y2="260.40" stroke="#000" stroke-width="1.2"/>
<line x1="312.85" y1="236.94" x2="312.85" y2="244.50" stroke="#000" stroke-width="1.2"/>
<line x1="309.41" y1="236.94" x2="316.29" y2="236.94" stroke="#000" stroke-width="1.2"/>
<line x1="309.41" y1="244.50" x2="316.29" y2="244.50" stroke="#000" stroke-width="1.2"/>
<rect x="306.60" y="240.72" width="12.50" height="17.28" fill="#fff" stroke="none" stroke-width="1"/>
<line x1="312.85" y1="240.72" x2="312.85" y2="244.50" stroke="#000" stroke-width="1.2"/>
<line x1="309.41" y1="244.50" x2="316.29" y2="244.50" stroke="#000" stroke-width="1.2"/>
<rect x="306.60" y="240.72" width="12.50" height="17.28" fill="none" stroke="#000" stroke-width="1.3"/>
<text x="312.85" y="234.64" font-size="12" font-weight="bold" fill="#000" color="#000" text-anchor="middle">*</text>
<line x1="312.85" y1="258.00" x2="312.85" y2="260.40" stroke="#000" stroke-width="1.2"/>
<line x1="332.00" y1="221.82" x2="332.00" y2="232.98" stroke="#000" stroke-width="1.2"/>
<line x1="328.53" y1="221.82" x2="335.47" y2="221.82" stroke="#000" stroke-width="1.2"/>
<line x1="328.53" y1="232.98" x2="335.47" y2="232.98" stroke="#000" stroke-width="1.2"/>
<rect x="325.70" y="227.58" width="12.60" height="30.42" fill="#fff" stroke="none" stroke-width="1"/>
<line x1="332.00" y1="227.58" x2="332.00" y2="232.98" stroke="#000" stroke-width="1.2"/>
<line x1="328.53" y1="232.98" x2="335.47" y2="232.98" stroke="#000" stroke-width="1.2"/>
<rect x="325.70" y="227.58" width="12.60" height="30.42" fill="none" stroke="#000" stroke-width="1.3"/>
<text x="332.00" y="219.52" font-size="12" font-weight="bold" fill="#000" color="#000" text-anchor="middle">**</text>
<line x1="332.00" y1="258.00" x2="332.00" y2="260.40" stroke="#000" stroke-width="1.2"/>
<line x1="351.25" y1="219.66" x2="351.25" y2="230.10" stroke="#000" stroke-width="1.2"/>
<line x1="347.81" y1="219.66" x2="354.69" y2="219.66" stroke="#000" stroke-width="1.2"/>
<line x1="347.81" y1="230.10" x2="354.69" y2="230.10" stroke="#000" stroke-width="1.2"/>
<rect x="345.00" y="224.52" width="12.50" height="33.48" fill="#fff" stroke="none" stroke-width="1"/>
<line x1="351.25" y1="224.52" x2="351.25" y2="230.10" stroke="#000" stroke-width="1.2"/>
<line x1="347.81" y1="230.10" x2="354.69" y2="230.10" stroke="#000" stroke-width="1.2"/>
<rect x="345.00" y="224.52" width="12.50" height="33.48" fill="none" stroke="#000" stroke-width="1.3"/>
<text x="351.25" y="217.36" font-size="12" font-weight="bold" fill="#000" color="#000" text-anchor="middle">**</text>
<line x1="351.25" y1="258.00" x2="351.25" y2="260.40" stroke="#000" stroke-width="1.2"/>
<line x1="225.70" y1="240.00" x2="361.70" y2="240.00" stroke="#000" stroke-width="1.1"/>
<line x1="225.70" y1="167.00" x2="225.70" y2="258.60" stroke="#000" stroke-width="1.3"/>
<line x1="225.70" y1="258.00" x2="361.70" y2="258.00" stroke="#000" stroke-width="1.3"/>
<line x1="223.10" y1="258.00" x2="225.70" y2="258.00" stroke="#000" stroke-width="1.2"/>
<text x="221.00" y="261.30" font-size="9.8" font-weight="bold" fill="#000" color="#000" text-anchor="end" textLength="4.79" lengthAdjust="spacingAndGlyphs">0</text>
<line x1="223.10" y1="240.00" x2="225.70" y2="240.00" stroke="#000" stroke-width="1.2"/>
<text x="221.00" y="243.30" font-size="9.8" font-weight="bold" fill="#000" color="#000" text-anchor="end" textLength="4.79" lengthAdjust="spacingAndGlyphs">1</text>
<line x1="223.10" y1="222.00" x2="225.70" y2="222.00" stroke="#000" stroke-width="1.2"/>
<text x="221.00" y="225.30" font-size="9.8" font-weight="bold" fill="#000" color="#000" text-anchor="end" textLength="4.79" lengthAdjust="spacingAndGlyphs">2</text>
<line x1="223.10" y1="204.00" x2="225.70" y2="204.00" stroke="#000" stroke-width="1.2"/>
<text x="221.00" y="207.30" font-size="9.8" font-weight="bold" fill="#000" color="#000" text-anchor="end" textLength="4.79" lengthAdjust="spacingAndGlyphs">3</text>
<line x1="223.10" y1="186.00" x2="225.70" y2="186.00" stroke="#000" stroke-width="1.2"/>
<text x="221.00" y="189.30" font-size="9.8" font-weight="bold" fill="#000" color="#000" text-anchor="end" textLength="4.79" lengthAdjust="spacingAndGlyphs">4</text>
<line x1="223.10" y1="168.00" x2="225.70" y2="168.00" stroke="#000" stroke-width="1.2"/>
<text x="221.00" y="171.30" font-size="9.8" font-weight="bold" fill="#000" color="#000" text-anchor="end" textLength="4.79" lengthAdjust="spacingAndGlyphs">5</text>
<text x="235.00" y="270.00" font-size="9.2" font-weight="bold" fill="#000" color="#000" text-anchor="middle">5</text>
<text x="254.60" y="270.00" font-size="9.2" font-weight="bold" fill="#000" color="#000" text-anchor="middle">7</text>
<text x="274.30" y="270.00" font-size="9.2" font-weight="bold" fill="#000" color="#000" text-anchor="middle">11</text>
<text x="313.00" y="270.00" font-size="9.2" font-weight="bold" fill="#000" color="#000" text-anchor="middle">5</text>
<text x="332.00" y="270.00" font-size="9.2" font-weight="bold" fill="#000" color="#000" text-anchor="middle">7</text>
<text x="351.60" y="270.00" font-size="9.2" font-weight="bold" fill="#000" color="#000" text-anchor="middle">11</text>
<line x1="228.00" y1="272.50" x2="281.30" y2="272.50" stroke="#000" stroke-width="1.3"/>
<line x1="305.70" y1="272.50" x2="358.50" y2="272.50" stroke="#000" stroke-width="1.3"/>
<text x="255.00" y="284.20" font-size="9.2" font-weight="bold" fill="#000" color="#000" text-anchor="middle">ECM</text>
<text x="331.80" y="284.20" font-size="9.2" font-weight="bold" fill="#000" color="#000" text-anchor="middle">PCD</text>
<text x="202.60" y="218.50" font-size="8.0" font-weight="bold" fill="#000" color="#000" text-anchor="middle" textLength="89" lengthAdjust="spacingAndGlyphs" transform="rotate(-90 202.60 218.50)">CD34+ fold expansion</text>
<text x="211.10" y="217.00" font-size="7.5" font-weight="bold" fill="#000" color="#000" text-anchor="middle" textLength="100" lengthAdjust="spacingAndGlyphs" transform="rotate(-90 211.10 217.00)">(from starting cell number)</text>
<rect x="378.20" y="187.80" width="10.30" height="4.80" fill="#fff" stroke="#000" stroke-width="1.1"/>
<text x="391.80" y="192.90" font-size="8.4" font-weight="bold" fill="#000" color="#000" text-anchor="start">Supernatant</text>
<rect x="378.20" y="197.80" width="10.30" height="4.80" fill="url(#hatch)" stroke="#000" stroke-width="1.1"/>
<text x="391.80" y="203.00" font-size="8.4" font-weight="bold" fill="#000" color="#000" text-anchor="start">Attached</text>
<text x="0.70" y="307.30" font-size="15" font-weight="bold" fill="#000" color="#000" text-anchor="start" textLength="7.2" lengthAdjust="spacingAndGlyphs">c</text>
<rect x="39.30" y="295.70" width="101.60" height="15.60" fill="#d6d6d6" stroke="none" stroke-width="1"/>
<text x="90.10" y="306.60" font-size="8.6" font-weight="bold" fill="#000" color="#000" text-anchor="middle">Attached</text>
<rect x="37.80" y="313.40" width="103.10" height="102.90" fill="none" stroke="#d0d0d0" stroke-width="0.8"/>
<line x1="37.80" y1="313.40" x2="37.80" y2="416.30" stroke="#b8b8b8" stroke-width="0.8"/>
<line x1="35.00" y1="416.30" x2="38.20" y2="416.30" stroke="#222" stroke-width="1.3"/>
<line x1="36.40" y1="412.86" x2="37.80" y2="412.86" stroke="#555" stroke-width="0.6"/>
<line x1="36.40" y1="409.42" x2="37.80" y2="409.42" stroke="#555" stroke-width="0.6"/>
<line x1="36.40" y1="405.98" x2="37.80" y2="405.98" stroke="#555" stroke-width="0.6"/>
<line x1="36.40" y1="402.54" x2="37.80" y2="402.54" stroke="#555" stroke-width="0.6"/>
<line x1="35.00" y1="399.10" x2="38.20" y2="399.10" stroke="#222" stroke-width="1.3"/>
<line x1="36.40" y1="395.66" x2="37.80" y2="395.66" stroke="#555" stroke-width="0.6"/>
<line x1="36.40" y1="392.22" x2="37.80" y2="392.22" stroke="#555" stroke-width="0.6"/>
<line x1="36.40" y1="388.78" x2="37.80" y2="388.78" stroke="#555" stroke-width="0.6"/>
<line x1="36.40" y1="385.34" x2="37.80" y2="385.34" stroke="#555" stroke-width="0.6"/>
<line x1="35.00" y1="381.90" x2="38.20" y2="381.90" stroke="#222" stroke-width="1.3"/>
<line x1="36.40" y1="378.46" x2="37.80" y2="378.46" stroke="#555" stroke-width="0.6"/>
<line x1="36.40" y1="375.02" x2="37.80" y2="375.02" stroke="#555" stroke-width="0.6"/>
<line x1="36.40" y1="371.58" x2="37.80" y2="371.58" stroke="#555" stroke-width="0.6"/>
<line x1="36.40" y1="368.14" x2="37.80" y2="368.14" stroke="#555" stroke-width="0.6"/>
<line x1="35.00" y1="364.70" x2="38.20" y2="364.70" stroke="#222" stroke-width="1.3"/>
<line x1="36.40" y1="361.26" x2="37.80" y2="361.26" stroke="#555" stroke-width="0.6"/>
<line x1="36.40" y1="357.82" x2="37.80" y2="357.82" stroke="#555" stroke-width="0.6"/>
<line x1="36.40" y1="354.38" x2="37.80" y2="354.38" stroke="#555" stroke-width="0.6"/>
<line x1="36.40" y1="350.94" x2="37.80" y2="350.94" stroke="#555" stroke-width="0.6"/>
<line x1="35.00" y1="347.50" x2="38.20" y2="347.50" stroke="#222" stroke-width="1.3"/>
<line x1="36.40" y1="344.06" x2="37.80" y2="344.06" stroke="#555" stroke-width="0.6"/>
<line x1="36.40" y1="340.62" x2="37.80" y2="340.62" stroke="#555" stroke-width="0.6"/>
<line x1="36.40" y1="337.18" x2="37.80" y2="337.18" stroke="#555" stroke-width="0.6"/>
<line x1="36.40" y1="333.74" x2="37.80" y2="333.74" stroke="#555" stroke-width="0.6"/>
<line x1="35.00" y1="330.30" x2="38.20" y2="330.30" stroke="#222" stroke-width="1.3"/>
<line x1="36.40" y1="326.86" x2="37.80" y2="326.86" stroke="#555" stroke-width="0.6"/>
<line x1="36.40" y1="323.42" x2="37.80" y2="323.42" stroke="#555" stroke-width="0.6"/>
<line x1="36.40" y1="319.98" x2="37.80" y2="319.98" stroke="#555" stroke-width="0.6"/>
<line x1="36.40" y1="316.54" x2="37.80" y2="316.54" stroke="#555" stroke-width="0.6"/>
<line x1="35.00" y1="313.10" x2="38.20" y2="313.10" stroke="#222" stroke-width="1.3"/>
<line x1="37.80" y1="416.30" x2="140.90" y2="416.30" stroke="#777" stroke-width="0.8"/>
<line x1="37.80" y1="415.90" x2="37.80" y2="418.90" stroke="#222" stroke-width="1.0"/>
<line x1="45.48" y1="416.30" x2="45.48" y2="417.70" stroke="#555" stroke-width="0.6"/>
<line x1="49.97" y1="416.30" x2="49.97" y2="417.70" stroke="#555" stroke-width="0.6"/>
<line x1="53.15" y1="416.30" x2="53.15" y2="417.70" stroke="#555" stroke-width="0.6"/>
<line x1="55.62" y1="416.30" x2="55.62" y2="417.70" stroke="#555" stroke-width="0.6"/>
<line x1="57.64" y1="416.30" x2="57.64" y2="417.70" stroke="#555" stroke-width="0.6"/>
<line x1="59.35" y1="416.30" x2="59.35" y2="417.70" stroke="#555" stroke-width="0.6"/>
<line x1="60.83" y1="416.30" x2="60.83" y2="417.70" stroke="#555" stroke-width="0.6"/>
<line x1="62.13" y1="416.30" x2="62.13" y2="417.70" stroke="#555" stroke-width="0.6"/>
<line x1="63.30" y1="415.90" x2="63.30" y2="418.90" stroke="#222" stroke-width="1.0"/>
<line x1="70.98" y1="416.30" x2="70.98" y2="417.70" stroke="#555" stroke-width="0.6"/>
<line x1="75.47" y1="416.30" x2="75.47" y2="417.70" stroke="#555" stroke-width="0.6"/>
<line x1="78.65" y1="416.30" x2="78.65" y2="417.70" stroke="#555" stroke-width="0.6"/>
<line x1="81.12" y1="416.30" x2="81.12" y2="417.70" stroke="#555" stroke-width="0.6"/>
<line x1="83.14" y1="416.30" x2="83.14" y2="417.70" stroke="#555" stroke-width="0.6"/>
<line x1="84.85" y1="416.30" x2="84.85" y2="417.70" stroke="#555" stroke-width="0.6"/>
<line x1="86.33" y1="416.30" x2="86.33" y2="417.70" stroke="#555" stroke-width="0.6"/>
<line x1="87.63" y1="416.30" x2="87.63" y2="417.70" stroke="#555" stroke-width="0.6"/>
<line x1="88.80" y1="415.90" x2="88.80" y2="418.90" stroke="#222" stroke-width="1.0"/>
<line x1="96.48" y1="416.30" x2="96.48" y2="417.70" stroke="#555" stroke-width="0.6"/>
<line x1="100.97" y1="416.30" x2="100.97" y2="417.70" stroke="#555" stroke-width="0.6"/>
<line x1="104.15" y1="416.30" x2="104.15" y2="417.70" stroke="#555" stroke-width="0.6"/>
<line x1="106.62" y1="416.30" x2="106.62" y2="417.70" stroke="#555" stroke-width="0.6"/>
<line x1="108.64" y1="416.30" x2="108.64" y2="417.70" stroke="#555" stroke-width="0.6"/>
<line x1="110.35" y1="416.30" x2="110.35" y2="417.70" stroke="#555" stroke-width="0.6"/>
<line x1="111.83" y1="416.30" x2="111.83" y2="417.70" stroke="#555" stroke-width="0.6"/>
<line x1="113.13" y1="416.30" x2="113.13" y2="417.70" stroke="#555" stroke-width="0.6"/>
<line x1="114.30" y1="415.90" x2="114.30" y2="418.90" stroke="#222" stroke-width="1.0"/>
<line x1="121.98" y1="416.30" x2="121.98" y2="417.70" stroke="#555" stroke-width="0.6"/>
<line x1="126.47" y1="416.30" x2="126.47" y2="417.70" stroke="#555" stroke-width="0.6"/>
<line x1="129.65" y1="416.30" x2="129.65" y2="417.70" stroke="#555" stroke-width="0.6"/>
<line x1="132.12" y1="416.30" x2="132.12" y2="417.70" stroke="#555" stroke-width="0.6"/>
<line x1="134.14" y1="416.30" x2="134.14" y2="417.70" stroke="#555" stroke-width="0.6"/>
<line x1="135.85" y1="416.30" x2="135.85" y2="417.70" stroke="#555" stroke-width="0.6"/>
<line x1="137.33" y1="416.30" x2="137.33" y2="417.70" stroke="#555" stroke-width="0.6"/>
<line x1="138.63" y1="416.30" x2="138.63" y2="417.70" stroke="#555" stroke-width="0.6"/>
<line x1="139.80" y1="415.90" x2="139.80" y2="418.90" stroke="#222" stroke-width="1.0"/>
<line x1="71.00" y1="326.20" x2="123.70" y2="326.20" stroke="#000" stroke-width="1.7"/>
<line x1="71.00" y1="324.00" x2="71.00" y2="328.20" stroke="#000" stroke-width="1.4"/>
<line x1="78.70" y1="326.20" x2="78.70" y2="328.20" stroke="#000" stroke-width="1.2"/>
<line x1="85.80" y1="326.20" x2="85.80" y2="328.20" stroke="#000" stroke-width="1.2"/>
<line x1="93.00" y1="326.20" x2="93.00" y2="328.20" stroke="#000" stroke-width="1.2"/>
<line x1="100.40" y1="326.20" x2="100.40" y2="328.20" stroke="#000" stroke-width="1.2"/>
<line x1="107.60" y1="326.20" x2="107.60" y2="328.20" stroke="#000" stroke-width="1.2"/>
<line x1="114.90" y1="326.20" x2="114.90" y2="328.20" stroke="#000" stroke-width="1.2"/>
<line x1="123.70" y1="324.00" x2="123.70" y2="328.20" stroke="#000" stroke-width="1.4"/>
<text x="75.50" y="322.40" font-size="7.7" font-weight="bold" fill="#000" color="#000" text-anchor="middle">6</text>
<text x="82.63" y="322.40" font-size="7.7" font-weight="bold" fill="#000" color="#000" text-anchor="middle">5</text>
<text x="89.76" y="322.40" font-size="7.7" font-weight="bold" fill="#000" color="#000" text-anchor="middle">4</text>
<text x="96.89" y="322.40" font-size="7.7" font-weight="bold" fill="#000" color="#000" text-anchor="middle">3</text>
<text x="104.02" y="322.40" font-size="7.7" font-weight="bold" fill="#000" color="#000" text-anchor="middle">2</text>
<text x="111.15" y="322.40" font-size="7.7" font-weight="bold" fill="#000" color="#000" text-anchor="middle">1</text>
<text x="118.28" y="322.40" font-size="7.7" font-weight="bold" fill="#000" color="#000" text-anchor="middle">0</text>
<rect x="146.70" y="295.70" width="102.90" height="15.60" fill="#d6d6d6" stroke="none" stroke-width="1"/>
<text x="198.15" y="306.60" font-size="8.6" font-weight="bold" fill="#000" color="#000" text-anchor="middle">Supernatant</text>
<rect x="146.60" y="313.40" width="103.00" height="102.90" fill="none" stroke="#d0d0d0" stroke-width="0.8"/>
<line x1="146.60" y1="313.40" x2="146.60" y2="416.30" stroke="#b8b8b8" stroke-width="0.8"/>
<line x1="143.80" y1="416.30" x2="147.00" y2="416.30" stroke="#222" stroke-width="1.3"/>
<line x1="145.20" y1="409.90" x2="146.60" y2="409.90" stroke="#555" stroke-width="0.6"/>
<line x1="145.20" y1="403.50" x2="146.60" y2="403.50" stroke="#555" stroke-width="0.6"/>
<line x1="145.20" y1="397.10" x2="146.60" y2="397.10" stroke="#555" stroke-width="0.6"/>
<line x1="143.80" y1="390.70" x2="147.00" y2="390.70" stroke="#222" stroke-width="1.3"/>
<line x1="145.20" y1="384.30" x2="146.60" y2="384.30" stroke="#555" stroke-width="0.6"/>
<line x1="145.20" y1="377.90" x2="146.60" y2="377.90" stroke="#555" stroke-width="0.6"/>
<line x1="145.20" y1="371.50" x2="146.60" y2="371.50" stroke="#555" stroke-width="0.6"/>
<line x1="143.80" y1="365.10" x2="147.00" y2="365.10" stroke="#222" stroke-width="1.3"/>
<line x1="145.20" y1="358.70" x2="146.60" y2="358.70" stroke="#555" stroke-width="0.6"/>
<line x1="145.20" y1="352.30" x2="146.60" y2="352.30" stroke="#555" stroke-width="0.6"/>
<line x1="145.20" y1="345.90" x2="146.60" y2="345.90" stroke="#555" stroke-width="0.6"/>
<line x1="143.80" y1="339.50" x2="147.00" y2="339.50" stroke="#222" stroke-width="1.3"/>
<line x1="145.20" y1="333.10" x2="146.60" y2="333.10" stroke="#555" stroke-width="0.6"/>
<line x1="145.20" y1="326.70" x2="146.60" y2="326.70" stroke="#555" stroke-width="0.6"/>
<line x1="145.20" y1="320.30" x2="146.60" y2="320.30" stroke="#555" stroke-width="0.6"/>
<line x1="143.80" y1="313.90" x2="147.00" y2="313.90" stroke="#222" stroke-width="1.3"/>
<line x1="146.60" y1="416.30" x2="249.60" y2="416.30" stroke="#777" stroke-width="0.8"/>
<line x1="146.60" y1="415.90" x2="146.60" y2="418.90" stroke="#222" stroke-width="1.0"/>
<line x1="154.28" y1="416.30" x2="154.28" y2="417.70" stroke="#555" stroke-width="0.6"/>
<line x1="158.77" y1="416.30" x2="158.77" y2="417.70" stroke="#555" stroke-width="0.6"/>
<line x1="161.95" y1="416.30" x2="161.95" y2="417.70" stroke="#555" stroke-width="0.6"/>
<line x1="164.42" y1="416.30" x2="164.42" y2="417.70" stroke="#555" stroke-width="0.6"/>
<line x1="166.44" y1="416.30" x2="166.44" y2="417.70" stroke="#555" stroke-width="0.6"/>
<line x1="168.15" y1="416.30" x2="168.15" y2="417.70" stroke="#555" stroke-width="0.6"/>
<line x1="169.63" y1="416.30" x2="169.63" y2="417.70" stroke="#555" stroke-width="0.6"/>
<line x1="170.93" y1="416.30" x2="170.93" y2="417.70" stroke="#555" stroke-width="0.6"/>
<line x1="172.10" y1="415.90" x2="172.10" y2="418.90" stroke="#222" stroke-width="1.0"/>
<line x1="179.78" y1="416.30" x2="179.78" y2="417.70" stroke="#555" stroke-width="0.6"/>
<line x1="184.27" y1="416.30" x2="184.27" y2="417.70" stroke="#555" stroke-width="0.6"/>
<line x1="187.45" y1="416.30" x2="187.45" y2="417.70" stroke="#555" stroke-width="0.6"/>
<line x1="189.92" y1="416.30" x2="189.92" y2="417.70" stroke="#555" stroke-width="0.6"/>
<line x1="191.94" y1="416.30" x2="191.94" y2="417.70" stroke="#555" stroke-width="0.6"/>
<line x1="193.65" y1="416.30" x2="193.65" y2="417.70" stroke="#555" stroke-width="0.6"/>
<line x1="195.13" y1="416.30" x2="195.13" y2="417.70" stroke="#555" stroke-width="0.6"/>
<line x1="196.43" y1="416.30" x2="196.43" y2="417.70" stroke="#555" stroke-width="0.6"/>
<line x1="197.60" y1="415.90" x2="197.60" y2="418.90" stroke="#222" stroke-width="1.0"/>
<line x1="205.28" y1="416.30" x2="205.28" y2="417.70" stroke="#555" stroke-width="0.6"/>
<line x1="209.77" y1="416.30" x2="209.77" y2="417.70" stroke="#555" stroke-width="0.6"/>
<line x1="212.95" y1="416.30" x2="212.95" y2="417.70" stroke="#555" stroke-width="0.6"/>
<line x1="215.42" y1="416.30" x2="215.42" y2="417.70" stroke="#555" stroke-width="0.6"/>
<line x1="217.44" y1="416.30" x2="217.44" y2="417.70" stroke="#555" stroke-width="0.6"/>
<line x1="219.15" y1="416.30" x2="219.15" y2="417.70" stroke="#555" stroke-width="0.6"/>
<line x1="220.63" y1="416.30" x2="220.63" y2="417.70" stroke="#555" stroke-width="0.6"/>
<line x1="221.93" y1="416.30" x2="221.93" y2="417.70" stroke="#555" stroke-width="0.6"/>
<line x1="223.10" y1="415.90" x2="223.10" y2="418.90" stroke="#222" stroke-width="1.0"/>
<line x1="230.78" y1="416.30" x2="230.78" y2="417.70" stroke="#555" stroke-width="0.6"/>
<line x1="235.27" y1="416.30" x2="235.27" y2="417.70" stroke="#555" stroke-width="0.6"/>
<line x1="238.45" y1="416.30" x2="238.45" y2="417.70" stroke="#555" stroke-width="0.6"/>
<line x1="240.92" y1="416.30" x2="240.92" y2="417.70" stroke="#555" stroke-width="0.6"/>
<line x1="242.94" y1="416.30" x2="242.94" y2="417.70" stroke="#555" stroke-width="0.6"/>
<line x1="244.65" y1="416.30" x2="244.65" y2="417.70" stroke="#555" stroke-width="0.6"/>
<line x1="246.13" y1="416.30" x2="246.13" y2="417.70" stroke="#555" stroke-width="0.6"/>
<line x1="247.43" y1="416.30" x2="247.43" y2="417.70" stroke="#555" stroke-width="0.6"/>
<line x1="248.60" y1="415.90" x2="248.60" y2="418.90" stroke="#222" stroke-width="1.0"/>
<line x1="179.80" y1="326.20" x2="232.50" y2="326.20" stroke="#000" stroke-width="1.7"/>
<line x1="179.80" y1="324.00" x2="179.80" y2="328.20" stroke="#000" stroke-width="1.4"/>
<line x1="187.50" y1="326.20" x2="187.50" y2="328.20" stroke="#000" stroke-width="1.2"/>
<line x1="194.60" y1="326.20" x2="194.60" y2="328.20" stroke="#000" stroke-width="1.2"/>
<line x1="201.80" y1="326.20" x2="201.80" y2="328.20" stroke="#000" stroke-width="1.2"/>
<line x1="209.20" y1="326.20" x2="209.20" y2="328.20" stroke="#000" stroke-width="1.2"/>
<line x1="216.40" y1="326.20" x2="216.40" y2="328.20" stroke="#000" stroke-width="1.2"/>
<line x1="223.70" y1="326.20" x2="223.70" y2="328.20" stroke="#000" stroke-width="1.2"/>
<line x1="232.50" y1="324.00" x2="232.50" y2="328.20" stroke="#000" stroke-width="1.4"/>
<text x="184.30" y="322.40" font-size="7.7" font-weight="bold" fill="#000" color="#000" text-anchor="middle">6</text>
<text x="191.43" y="322.40" font-size="7.7" font-weight="bold" fill="#000" color="#000" text-anchor="middle">5</text>
<text x="198.56" y="322.40" font-size="7.7" font-weight="bold" fill="#000" color="#000" text-anchor="middle">4</text>
<text x="205.69" y="322.40" font-size="7.7" font-weight="bold" fill="#000" color="#000" text-anchor="middle">3</text>
<text x="212.82" y="322.40" font-size="7.7" font-weight="bold" fill="#000" color="#000" text-anchor="middle">2</text>
<text x="219.95" y="322.40" font-size="7.7" font-weight="bold" fill="#000" color="#000" text-anchor="middle">1</text>
<text x="227.08" y="322.40" font-size="7.7" font-weight="bold" fill="#000" color="#000" text-anchor="middle">0</text>
<rect x="257.30" y="295.70" width="102.80" height="15.60" fill="#d6d6d6" stroke="none" stroke-width="1"/>
<text x="308.70" y="306.60" font-size="8.6" font-weight="bold" fill="#000" color="#000" text-anchor="middle">PCD</text>
<rect x="256.40" y="313.40" width="103.70" height="102.90" fill="none" stroke="#d0d0d0" stroke-width="0.8"/>
<line x1="256.40" y1="313.40" x2="256.40" y2="416.30" stroke="#b8b8b8" stroke-width="0.8"/>
<line x1="253.60" y1="416.30" x2="256.80" y2="416.30" stroke="#222" stroke-width="1.3"/>
<line x1="255.00" y1="411.15" x2="256.40" y2="411.15" stroke="#555" stroke-width="0.6"/>
<line x1="255.00" y1="406.00" x2="256.40" y2="406.00" stroke="#555" stroke-width="0.6"/>
<line x1="255.00" y1="400.85" x2="256.40" y2="400.85" stroke="#555" stroke-width="0.6"/>
<line x1="253.60" y1="395.70" x2="256.80" y2="395.70" stroke="#222" stroke-width="1.3"/>
<line x1="255.00" y1="390.55" x2="256.40" y2="390.55" stroke="#555" stroke-width="0.6"/>
<line x1="255.00" y1="385.40" x2="256.40" y2="385.40" stroke="#555" stroke-width="0.6"/>
<line x1="255.00" y1="380.25" x2="256.40" y2="380.25" stroke="#555" stroke-width="0.6"/>
<line x1="253.60" y1="375.10" x2="256.80" y2="375.10" stroke="#222" stroke-width="1.3"/>
<line x1="255.00" y1="369.95" x2="256.40" y2="369.95" stroke="#555" stroke-width="0.6"/>
<line x1="255.00" y1="364.80" x2="256.40" y2="364.80" stroke="#555" stroke-width="0.6"/>
<line x1="255.00" y1="359.65" x2="256.40" y2="359.65" stroke="#555" stroke-width="0.6"/>
<line x1="253.60" y1="354.50" x2="256.80" y2="354.50" stroke="#222" stroke-width="1.3"/>
<line x1="255.00" y1="349.35" x2="256.40" y2="349.35" stroke="#555" stroke-width="0.6"/>
<line x1="255.00" y1="344.20" x2="256.40" y2="344.20" stroke="#555" stroke-width="0.6"/>
<line x1="255.00" y1="339.05" x2="256.40" y2="339.05" stroke="#555" stroke-width="0.6"/>
<line x1="253.60" y1="333.90" x2="256.80" y2="333.90" stroke="#222" stroke-width="1.3"/>
<line x1="255.00" y1="328.75" x2="256.40" y2="328.75" stroke="#555" stroke-width="0.6"/>
<line x1="255.00" y1="323.60" x2="256.40" y2="323.60" stroke="#555" stroke-width="0.6"/>
<line x1="255.00" y1="318.45" x2="256.40" y2="318.45" stroke="#555" stroke-width="0.6"/>
<line x1="253.60" y1="313.30" x2="256.80" y2="313.30" stroke="#222" stroke-width="1.3"/>
<line x1="256.40" y1="416.30" x2="360.10" y2="416.30" stroke="#777" stroke-width="0.8"/>
<line x1="256.40" y1="415.90" x2="256.40" y2="418.90" stroke="#222" stroke-width="1.0"/>
<line x1="264.08" y1="416.30" x2="264.08" y2="417.70" stroke="#555" stroke-width="0.6"/>
<line x1="268.57" y1="416.30" x2="268.57" y2="417.70" stroke="#555" stroke-width="0.6"/>
<line x1="271.75" y1="416.30" x2="271.75" y2="417.70" stroke="#555" stroke-width="0.6"/>
<line x1="274.22" y1="416.30" x2="274.22" y2="417.70" stroke="#555" stroke-width="0.6"/>
<line x1="276.24" y1="416.30" x2="276.24" y2="417.70" stroke="#555" stroke-width="0.6"/>
<line x1="277.95" y1="416.30" x2="277.95" y2="417.70" stroke="#555" stroke-width="0.6"/>
<line x1="279.43" y1="416.30" x2="279.43" y2="417.70" stroke="#555" stroke-width="0.6"/>
<line x1="280.73" y1="416.30" x2="280.73" y2="417.70" stroke="#555" stroke-width="0.6"/>
<line x1="281.90" y1="415.90" x2="281.90" y2="418.90" stroke="#222" stroke-width="1.0"/>
<line x1="289.58" y1="416.30" x2="289.58" y2="417.70" stroke="#555" stroke-width="0.6"/>
<line x1="294.07" y1="416.30" x2="294.07" y2="417.70" stroke="#555" stroke-width="0.6"/>
<line x1="297.25" y1="416.30" x2="297.25" y2="417.70" stroke="#555" stroke-width="0.6"/>
<line x1="299.72" y1="416.30" x2="299.72" y2="417.70" stroke="#555" stroke-width="0.6"/>
<line x1="301.74" y1="416.30" x2="301.74" y2="417.70" stroke="#555" stroke-width="0.6"/>
<line x1="303.45" y1="416.30" x2="303.45" y2="417.70" stroke="#555" stroke-width="0.6"/>
<line x1="304.93" y1="416.30" x2="304.93" y2="417.70" stroke="#555" stroke-width="0.6"/>
<line x1="306.23" y1="416.30" x2="306.23" y2="417.70" stroke="#555" stroke-width="0.6"/>
<line x1="307.40" y1="415.90" x2="307.40" y2="418.90" stroke="#222" stroke-width="1.0"/>
<line x1="315.08" y1="416.30" x2="315.08" y2="417.70" stroke="#555" stroke-width="0.6"/>
<line x1="319.57" y1="416.30" x2="319.57" y2="417.70" stroke="#555" stroke-width="0.6"/>
<line x1="322.75" y1="416.30" x2="322.75" y2="417.70" stroke="#555" stroke-width="0.6"/>
<line x1="325.22" y1="416.30" x2="325.22" y2="417.70" stroke="#555" stroke-width="0.6"/>
<line x1="327.24" y1="416.30" x2="327.24" y2="417.70" stroke="#555" stroke-width="0.6"/>
<line x1="328.95" y1="416.30" x2="328.95" y2="417.70" stroke="#555" stroke-width="0.6"/>
<line x1="330.43" y1="416.30" x2="330.43" y2="417.70" stroke="#555" stroke-width="0.6"/>
<line x1="331.73" y1="416.30" x2="331.73" y2="417.70" stroke="#555" stroke-width="0.6"/>
<line x1="332.90" y1="415.90" x2="332.90" y2="418.90" stroke="#222" stroke-width="1.0"/>
<line x1="340.58" y1="416.30" x2="340.58" y2="417.70" stroke="#555" stroke-width="0.6"/>
<line x1="345.07" y1="416.30" x2="345.07" y2="417.70" stroke="#555" stroke-width="0.6"/>
<line x1="348.25" y1="416.30" x2="348.25" y2="417.70" stroke="#555" stroke-width="0.6"/>
<line x1="350.72" y1="416.30" x2="350.72" y2="417.70" stroke="#555" stroke-width="0.6"/>
<line x1="352.74" y1="416.30" x2="352.74" y2="417.70" stroke="#555" stroke-width="0.6"/>
<line x1="354.45" y1="416.30" x2="354.45" y2="417.70" stroke="#555" stroke-width="0.6"/>
<line x1="355.93" y1="416.30" x2="355.93" y2="417.70" stroke="#555" stroke-width="0.6"/>
<line x1="357.23" y1="416.30" x2="357.23" y2="417.70" stroke="#555" stroke-width="0.6"/>
<line x1="358.40" y1="415.90" x2="358.40" y2="418.90" stroke="#222" stroke-width="1.0"/>
<line x1="289.60" y1="326.20" x2="342.30" y2="326.20" stroke="#000" stroke-width="1.7"/>
<line x1="289.60" y1="324.00" x2="289.60" y2="328.20" stroke="#000" stroke-width="1.4"/>
<line x1="297.30" y1="326.20" x2="297.30" y2="328.20" stroke="#000" stroke-width="1.2"/>
<line x1="304.40" y1="326.20" x2="304.40" y2="328.20" stroke="#000" stroke-width="1.2"/>
<line x1="311.60" y1="326.20" x2="311.60" y2="328.20" stroke="#000" stroke-width="1.2"/>
<line x1="319.00" y1="326.20" x2="319.00" y2="328.20" stroke="#000" stroke-width="1.2"/>
<line x1="326.20" y1="326.20" x2="326.20" y2="328.20" stroke="#000" stroke-width="1.2"/>
<line x1="333.50" y1="326.20" x2="333.50" y2="328.20" stroke="#000" stroke-width="1.2"/>
<line x1="342.30" y1="324.00" x2="342.30" y2="328.20" stroke="#000" stroke-width="1.4"/>
<text x="294.10" y="322.40" font-size="7.7" font-weight="bold" fill="#000" color="#000" text-anchor="middle">6</text>
<text x="301.23" y="322.40" font-size="7.7" font-weight="bold" fill="#000" color="#000" text-anchor="middle">5</text>
<text x="308.36" y="322.40" font-size="7.7" font-weight="bold" fill="#000" color="#000" text-anchor="middle">4</text>
<text x="315.49" y="322.40" font-size="7.7" font-weight="bold" fill="#000" color="#000" text-anchor="middle">3</text>
<text x="322.62" y="322.40" font-size="7.7" font-weight="bold" fill="#000" color="#000" text-anchor="middle">2</text>
<text x="329.75" y="322.40" font-size="7.7" font-weight="bold" fill="#000" color="#000" text-anchor="middle">1</text>
<text x="336.88" y="322.40" font-size="7.7" font-weight="bold" fill="#000" color="#000" text-anchor="middle">0</text>
<clipPath id="ca"><path d="M67.40,416.30 C67.78,416.08 69.02,416.05 69.70,415.00 C70.38,413.95 70.92,412.07 71.50,410.00 C72.08,407.93 72.62,407.53 73.20,402.60 C73.78,397.67 74.43,388.72 75.00,380.40 C75.57,372.08 76.10,359.77 76.60,352.70 C77.10,345.63 77.60,341.12 78.00,338.00 C78.40,334.88 78.67,333.67 79.00,334.00 C79.33,334.33 79.70,337.35 80.00,340.00 C80.30,342.65 80.43,345.23 80.80,349.90 C81.17,354.57 81.70,362.92 82.20,368.00 C82.70,373.08 83.12,376.48 83.80,380.40 C84.48,384.32 85.53,387.57 86.30,391.50 C87.07,395.43 87.62,401.25 88.40,404.00 C89.18,406.75 90.20,407.08 91.00,408.00 C91.80,408.92 92.25,408.90 93.20,409.50 C94.15,410.10 95.30,410.68 96.70,411.60 C98.10,412.52 100.10,414.25 101.60,415.00 C103.10,415.75 104.80,415.88 105.70,416.10 C106.60,416.32 106.78,416.27 107.00,416.30 L107.00,416.3 L67.40,416.3 Z"/></clipPath>
<g clip-path="url(#ca)"><rect x="67.4" y="300" width="13.399999999999991" height="120" fill="#c9c9c9"/><rect x="80.8" y="300" width="28.200000000000003" height="120" fill="#a9a9a9"/><rect x="89.8" y="300" width="26.200000000000003" height="120" fill="#8f8f8f"/></g>
<path d="M67.5,416.3 L68.3,416.1 L69.1,415.8 L69.3,415.0 L70.4,414.5 L70.6,413.9 L70.5,413.2 L70.8,412.5 L70.6,411.7 L71.1,411.0 L71.7,409.9 L71.9,409.3 L72.0,408.8 L71.6,408.6 L71.9,407.8 L72.8,407.5 L72.3,406.9 L72.7,406.1 L72.6,405.3 L73.2,404.2 L73.6,402.5 L73.1,401.9 L73.0,401.3 L73.2,401.1 L73.0,400.6 L73.3,399.8 L73.8,399.3 L73.4,398.7 L73.8,397.7 L74.1,397.0 L74.0,397.0 L73.4,396.3 L73.8,395.4 L73.5,394.2 L73.7,394.3 L73.8,393.4 L74.5,392.9 L74.1,391.5 L74.3,391.2 L74.0,390.4 L74.6,389.7 L74.0,389.0 L74.1,387.5 L74.6,387.4 L74.5,386.7 L74.7,385.0 L74.6,384.0 L74.4,383.1 L75.0,383.6 L74.6,381.3 L75.4,381.3 L74.9,380.0 L75.1,380.3 L75.0,379.0 L74.7,379.1 L74.8,377.7 L75.5,376.4 L75.5,377.1 L75.4,376.1 L75.0,374.7 L75.1,374.7 L75.2,373.3 L75.9,373.2 L75.9,371.8 L75.5,371.5 L75.6,369.9 L75.6,368.9 L75.6,369.7 L76.1,368.2 L75.8,366.9 L75.4,366.1 L76.1,366.4 L75.8,365.4 L76.2,364.5 L76.1,363.9 L75.9,363.0 L75.9,361.9 L76.3,361.5 L75.9,361.2 L76.3,359.9 L75.8,359.1 L76.0,358.6 L76.3,358.2 L76.5,357.5 L76.2,356.6 L76.6,356.2 L76.3,355.6 L76.8,354.8 L77.0,354.6 L76.6,353.3 L76.3,353.3 L77.1,351.7 L76.9,351.1 L77.0,349.2 L77.1,349.1 L77.1,347.9 L77.1,347.7 L77.2,346.8 L76.7,345.1 L77.2,345.2 L77.1,344.6 L77.5,342.7 L77.4,342.4 L77.1,341.6 L77.4,341.1 L77.4,340.2 L77.7,340.3 L77.9,340.1 L77.6,340.2 L77.4,338.8 L77.7,338.3 L77.7,338.6 L78.1,335.5 L78.5,334.4 L78.7,334.1 L78.9,334.8 L79.3,333.9 L79.4,334.5 L79.1,334.1 L79.5,335.5 L79.9,337.0 L79.7,336.8 L80.1,337.1 L79.5,339.1 L80.1,339.4 L80.2,341.3 L80.0,341.0 L79.9,341.3 L80.7,342.1 L80.7,343.7 L80.4,343.1 L80.8,344.2 L80.3,344.6 L80.9,345.6 L80.3,346.3 L80.3,347.4 L80.6,347.6 L81.0,349.5 L80.4,350.0 L80.6,351.3 L81.1,350.6 L80.7,351.1 L81.4,352.0 L81.1,353.0 L81.2,354.0 L81.4,353.8 L81.4,354.9 L81.3,355.8 L81.1,356.9 L81.3,357.4 L81.6,358.6 L81.1,358.7 L81.5,360.7 L81.9,360.9 L81.2,362.1 L81.7,362.5 L82.0,363.4 L81.8,364.6 L81.8,364.4 L82.3,364.8 L81.8,366.6 L81.7,367.3 L82.3,367.3 L82.0,368.5 L82.7,368.2 L82.4,369.8 L82.5,370.2 L82.2,371.5 L82.9,371.3 L82.5,373.4 L83.1,373.9 L82.5,374.7 L83.4,375.9 L83.2,374.9 L83.5,375.8 L83.4,377.8 L83.5,377.1 L83.3,379.1 L83.3,379.2 L83.6,379.2 L83.9,379.7 L83.6,380.9 L83.7,381.2 L84.3,382.9 L84.7,382.7 L84.5,383.6 L84.8,384.6 L85.2,385.1 L84.6,386.2 L84.9,386.8 L85.4,387.8 L85.6,388.1 L85.5,388.7 L85.6,389.7 L86.0,389.6 L85.9,390.6 L86.5,391.1 L86.6,392.3 L86.2,393.1 L86.3,393.2 L86.9,394.1 L87.2,395.1 L86.9,396.2 L86.7,396.9 L86.8,397.1 L87.8,398.3 L87.2,398.7 L88.0,399.8 L88.0,400.2 L87.9,401.0 L87.7,401.7 L88.1,402.3 L88.0,402.8 L88.6,403.6 L88.7,404.0 L89.1,405.2 L89.3,406.1 L89.9,406.6 L89.8,407.0 L90.3,407.4 L91.4,408.0 L91.9,408.5 L92.4,409.2 L93.3,409.5 L93.8,409.7 L94.1,410.1 L95.0,410.6 L96.2,411.0 L96.5,411.6 L96.9,411.9 L97.6,412.4 L98.0,412.9 L99.0,413.4 L99.9,413.9 L100.4,414.3 L100.7,414.7 L101.4,415.0 L102.6,415.3 L102.9,415.6 L103.6,415.7 L104.5,415.9 L105.1,416.0 L105.7,416.1 L106.8,416.3 L107.0,416.3" fill="none" stroke="#e0262b" stroke-width="1.2" stroke-linejoin="round"/>
<path d="M68.5,416.3 L69.4,416.2 L70.3,415.9 L71.4,415.0 L71.1,414.6 L71.6,414.0 L72.0,413.5 L72.2,412.8 L72.3,412.0 L73.1,411.4 L73.4,410.5 L73.2,409.7 L73.6,408.8 L73.8,408.1 L74.0,407.3 L74.0,406.9 L74.2,406.1 L74.5,405.3 L74.5,404.5 L74.6,403.7 L75.3,403.0 L75.4,402.0 L75.0,401.4 L75.4,400.6 L75.5,400.0 L75.8,399.4 L75.7,398.5 L76.2,397.8 L76.1,396.8 L76.3,396.0 L77.0,394.7 L76.9,393.7 L77.2,393.1 L77.6,393.0 L77.8,392.6 L78.4,392.8 L78.3,393.3 L78.7,393.8 L79.0,394.6 L79.5,395.5 L79.8,396.5 L80.0,397.3 L80.2,398.3 L80.6,399.2 L80.9,399.9 L80.9,400.6 L81.3,401.0 L81.3,401.7 L81.7,402.6 L82.0,403.1 L82.6,404.1 L82.5,404.6 L82.8,405.4 L83.5,406.3 L83.7,406.8 L83.9,407.5 L84.1,408.0 L84.6,408.9 L85.1,409.5 L85.3,410.2 L85.8,411.0 L86.3,411.6 L86.2,412.2 L87.0,412.7 L87.2,413.2 L87.9,413.7 L88.3,414.2 L89.1,414.5 L90.0,414.8 L90.3,415.0 L91.0,415.2 L92.0,415.4 L92.6,415.5 L93.1,415.7 L94.5,416.1 L95.0,416.3" fill="none" stroke="#3fd23f" stroke-width="1.3" stroke-linejoin="round"/>
<path d="M38.00,416.30 C50.63,416.30 100.92,416.60 113.80,416.30 C126.68,416.00 114.80,415.97 115.30,414.50 C115.80,413.03 116.25,409.55 116.80,407.50 C117.35,405.45 118.00,402.20 118.60,402.20 C119.20,402.20 119.85,405.45 120.40,407.50 C120.95,409.55 121.40,413.03 121.90,414.50 C122.40,415.97 120.23,416.00 123.40,416.30 C126.57,416.60 137.98,416.30 140.90,416.30" fill="none" stroke="#3d9ad6" stroke-width="0.9"/>
<clipPath id="cs"><path d="M178.10,415.60 C178.42,414.67 179.38,412.27 180.00,410.00 C180.62,407.73 181.12,408.77 181.80,402.00 C182.48,395.23 183.48,377.30 184.10,369.40 C184.72,361.50 185.07,359.50 185.50,354.60 C185.93,349.70 186.37,343.45 186.70,340.00 C187.03,336.55 187.20,333.93 187.50,333.90 C187.80,333.87 188.08,338.08 188.50,339.80 C188.92,341.52 189.50,340.25 190.00,344.20 C190.50,348.15 190.88,358.55 191.50,363.50 C192.12,368.45 192.97,371.43 193.70,373.90 C194.43,376.37 195.28,375.83 195.90,378.30 C196.52,380.77 196.90,385.48 197.40,388.70 C197.90,391.92 198.28,394.65 198.90,397.60 C199.52,400.55 200.12,404.32 201.10,406.40 C202.08,408.48 203.57,408.87 204.80,410.10 C206.03,411.33 207.15,412.98 208.50,413.80 C209.85,414.62 211.42,414.58 212.90,415.00 C214.38,415.42 216.65,416.08 217.40,416.30 L217.40,416.3 L178.10,416.3 Z"/></clipPath>
<g clip-path="url(#cs)"><rect x="178.1" y="300" width="10.5" height="120" fill="#c9c9c9"/><rect x="188.6" y="300" width="30.80000000000001" height="120" fill="#a9a9a9"/><rect x="197.6" y="300" width="28.80000000000001" height="120" fill="#8f8f8f"/></g>
<path d="M178.3,415.6 L178.1,415.2 L178.9,414.7 L179.0,414.0 L178.8,413.3 L179.5,412.5 L179.1,411.6 L179.4,410.9 L180.4,409.9 L180.4,409.4 L180.5,409.1 L180.6,408.8 L180.5,408.1 L180.8,407.9 L180.7,407.4 L180.9,406.6 L181.1,406.0 L181.4,405.1 L181.5,403.9 L182.1,402.3 L182.0,401.7 L181.9,401.3 L181.8,400.6 L182.1,400.0 L181.8,399.1 L181.7,398.7 L182.2,398.4 L182.4,397.4 L182.6,396.7 L182.5,395.8 L182.6,395.7 L182.8,395.2 L182.6,394.4 L182.7,393.4 L182.3,392.6 L183.0,391.5 L183.1,391.0 L182.6,389.6 L182.7,389.0 L183.0,389.1 L183.2,387.9 L182.8,386.4 L183.1,386.2 L183.2,385.1 L183.4,384.1 L183.0,383.3 L183.3,383.4 L182.9,382.2 L183.5,380.8 L183.0,380.5 L183.7,380.2 L183.7,378.7 L183.4,378.1 L183.9,376.9 L183.4,376.7 L184.1,375.2 L183.3,374.3 L183.8,374.5 L183.5,373.1 L183.9,373.2 L184.1,372.7 L183.5,371.6 L184.3,371.9 L183.9,371.1 L184.2,370.7 L183.9,369.8 L184.5,368.3 L183.9,366.7 L184.0,365.6 L184.1,365.7 L184.1,365.1 L184.8,364.4 L184.9,363.5 L185.1,363.3 L184.9,362.6 L184.5,360.5 L184.5,360.0 L184.8,359.9 L185.2,359.9 L184.7,358.7 L185.2,358.1 L184.9,357.9 L185.1,357.5 L185.3,357.4 L185.8,355.2 L185.7,355.7 L185.3,353.9 L185.5,353.6 L185.8,353.8 L185.6,351.9 L185.8,351.9 L186.1,350.9 L185.7,349.6 L186.3,349.2 L185.6,348.2 L185.8,347.8 L185.8,346.3 L185.8,345.9 L186.7,345.3 L186.2,345.3 L186.0,343.5 L186.7,342.2 L186.7,342.1 L186.1,341.3 L186.6,340.9 L186.7,339.7 L186.4,340.9 L186.8,338.7 L186.6,337.2 L187.4,336.9 L187.1,334.9 L187.1,335.4 L187.2,334.6 L187.8,334.3 L187.6,333.1 L187.2,334.6 L187.6,335.2 L188.1,336.0 L187.8,337.1 L188.3,337.9 L187.9,338.7 L188.3,339.9 L188.9,339.3 L188.7,340.0 L188.9,340.4 L189.4,340.5 L189.2,341.6 L189.4,342.4 L190.4,344.9 L189.8,343.8 L190.4,346.0 L190.3,345.1 L190.0,347.1 L190.7,346.1 L190.0,347.5 L190.2,348.8 L190.3,349.6 L190.2,349.9 L191.0,351.0 L190.2,350.7 L190.8,352.0 L190.6,353.0 L190.8,354.7 L190.6,354.8 L190.6,355.6 L191.1,355.7 L190.9,357.5 L190.6,358.5 L191.0,358.8 L191.2,360.1 L190.8,360.3 L190.8,360.8 L191.2,360.8 L191.2,362.2 L191.6,363.7 L191.4,363.6 L191.8,365.3 L192.2,366.3 L191.7,365.6 L192.4,366.3 L192.1,368.3 L192.4,368.4 L192.9,368.9 L192.7,370.6 L192.5,370.3 L192.9,371.3 L192.8,371.7 L192.9,371.6 L193.3,372.2 L194.0,373.0 L193.5,374.4 L194.2,374.4 L194.6,375.6 L194.6,376.1 L194.8,375.9 L195.7,376.7 L196.0,376.8 L195.6,377.5 L196.2,378.9 L195.7,378.6 L196.5,380.0 L196.7,379.9 L196.5,380.8 L196.7,382.3 L196.7,382.4 L197.1,383.0 L196.4,384.6 L196.6,384.5 L197.0,386.1 L197.5,386.9 L196.8,387.5 L197.6,387.6 L197.6,388.4 L197.3,388.9 L197.9,390.3 L198.1,391.0 L197.6,391.5 L197.8,393.0 L197.8,392.8 L198.1,393.6 L198.3,394.8 L198.6,395.1 L198.3,396.1 L198.9,396.8 L199.0,397.9 L198.7,398.2 L199.2,399.2 L199.7,400.0 L199.7,400.7 L199.9,401.8 L199.7,402.1 L199.8,403.0 L200.6,403.7 L200.5,404.6 L201.0,405.0 L201.1,405.8 L200.7,406.5 L201.9,407.2 L201.6,408.0 L202.5,408.4 L203.3,408.7 L203.6,409.1 L203.9,409.5 L205.0,410.1 L205.7,410.5 L205.7,411.2 L206.7,411.9 L207.2,412.4 L207.0,412.9 L207.7,413.3 L208.6,413.8 L208.8,414.1 L210.3,414.4 L210.6,414.5 L211.6,414.7 L212.2,414.8 L213.3,415.0 L213.6,415.2 L214.6,415.5 L215.4,415.7 L216.2,416.0 L216.8,416.2 L217.4,416.3" fill="none" stroke="#e0262b" stroke-width="1.2" stroke-linejoin="round"/>
<path d="M180.7,416.3 L180.7,415.9 L180.4,415.4 L181.1,414.8 L180.9,414.2 L181.2,413.5 L181.2,412.7 L181.4,411.9 L181.9,411.1 L181.7,410.3 L182.3,409.6 L182.1,408.9 L182.3,407.9 L182.4,407.3 L182.8,406.8 L182.7,406.1 L182.7,405.4 L182.9,404.7 L182.9,404.1 L183.1,403.5 L183.3,402.7 L183.6,402.0 L183.9,401.5 L183.7,400.5 L184.2,399.6 L184.1,399.0 L184.5,398.2 L184.5,397.8 L184.7,396.7 L185.0,396.1 L185.1,395.5 L185.0,394.8 L185.3,393.7 L185.6,393.0 L185.7,392.3 L186.0,391.2 L186.0,390.3 L186.3,390.2 L186.5,388.9 L186.5,388.6 L186.5,387.8 L187.1,387.9 L186.8,387.5 L187.8,385.8 L188.5,385.6 L189.1,386.0 L189.6,386.9 L190.1,387.3 L190.3,387.8 L190.8,388.7 L191.2,389.8 L191.5,390.5 L191.6,390.8 L192.4,391.3 L192.4,391.9 L193.3,392.5 L193.5,393.1 L194.1,393.7 L194.4,394.3 L194.8,395.3 L194.9,395.9 L195.1,396.4 L195.4,397.0 L195.1,397.9 L195.9,398.2 L195.6,399.0 L195.8,399.8 L196.0,400.5 L196.2,401.3 L196.6,402.1 L196.9,402.5 L197.4,403.5 L197.5,404.0 L197.6,404.8 L197.8,405.3 L198.1,406.3 L198.5,407.0 L198.8,407.6 L199.2,408.3 L199.4,408.8 L199.7,409.4 L200.3,410.1 L200.5,410.7 L200.9,411.4 L201.7,412.1 L201.9,412.7 L202.9,413.2 L202.9,413.7 L203.6,414.2 L204.0,414.6 L204.8,415.3 L205.6,415.8 L206.5,416.1 L207.0,416.3" fill="none" stroke="#3fd23f" stroke-width="1.3" stroke-linejoin="round"/>
<path d="M146.60,416.30 C159.43,416.30 210.52,416.77 223.60,416.30 C236.68,415.83 224.63,414.80 225.10,413.50 C225.57,412.20 225.97,409.72 226.40,408.50 C226.83,407.28 227.27,406.20 227.70,406.20 C228.13,406.20 228.57,407.28 229.00,408.50 C229.43,409.72 229.83,412.20 230.30,413.50 C230.77,414.80 228.58,415.83 231.80,416.30 C235.02,416.77 246.63,416.30 249.60,416.30" fill="none" stroke="#3d9ad6" stroke-width="0.9"/>
<clipPath id="cp"><path d="M288.80,416.30 C289.25,415.25 290.72,412.72 291.50,410.00 C292.28,407.28 292.92,403.33 293.50,400.00 C294.08,396.67 294.58,392.70 295.00,390.00 C295.42,387.30 295.45,386.43 296.00,383.80 C296.55,381.17 297.63,376.67 298.30,374.20 C298.97,371.73 299.47,370.07 300.00,369.00 C300.53,367.93 301.00,367.47 301.50,367.80 C302.00,368.13 302.33,368.87 303.00,371.00 C303.67,373.13 304.75,380.43 305.50,380.60 C306.25,380.77 306.83,374.38 307.50,372.00 C308.17,369.62 308.95,366.97 309.50,366.30 C310.05,365.63 310.40,366.95 310.80,368.00 C311.20,369.05 311.37,374.77 311.90,372.60 C312.43,370.43 313.25,360.58 314.00,355.00 C314.75,349.42 315.73,340.27 316.40,339.10 C317.07,337.93 317.42,344.02 318.00,348.00 C318.58,351.98 319.32,363.50 319.90,363.00 C320.48,362.50 320.98,349.12 321.50,345.00 C322.02,340.88 322.45,338.30 323.00,338.30 C323.55,338.30 324.22,341.93 324.80,345.00 C325.38,348.07 326.00,357.53 326.50,356.70 C327.00,355.87 327.37,344.38 327.80,340.00 C328.23,335.62 328.65,331.57 329.10,330.40 C329.55,329.23 330.05,330.75 330.50,333.00 C330.95,335.25 331.38,337.73 331.80,343.90 C332.22,350.07 332.60,359.10 333.00,370.00 C333.40,380.90 333.83,401.58 334.20,409.30 C334.57,417.02 335.03,415.13 335.20,416.30 L335.2,416.3 L288.8,416.3 Z"/></clipPath>
<defs><linearGradient id="pb0" x1="0" x2="1" y1="0" y2="0"><stop offset="0" stop-color="#dedede"/><stop offset="1" stop-color="#c2c2c2"/></linearGradient><linearGradient id="pb1" x1="0" x2="1" y1="0" y2="0"><stop offset="0" stop-color="#cacaca"/><stop offset="1" stop-color="#a6a6a6"/></linearGradient><linearGradient id="pb2" x1="0" x2="1" y1="0" y2="0"><stop offset="0" stop-color="#b4b4b4"/><stop offset="1" stop-color="#888888"/></linearGradient><linearGradient id="pb3" x1="0" x2="1" y1="0" y2="0"><stop offset="0" stop-color="#929292"/><stop offset="1" stop-color="#646464"/></linearGradient><linearGradient id="pb4" x1="0" x2="1" y1="0" y2="0"><stop offset="0" stop-color="#6c6c6c"/><stop offset="1" stop-color="#383838"/></linearGradient><linearGradient id="pb5" x1="0" x2="1" y1="0" y2="0"><stop offset="0" stop-color="#3a3a3a"/><stop offset="1" stop-color="#141414"/></linearGradient><linearGradient id="pb6" x1="0" x2="1" y1="0" y2="0"><stop offset="0" stop-color="#111111"/><stop offset="1" stop-color="#000000"/></linearGradient></defs>
<g clip-path="url(#cp)"><rect x="288.8" y="320" width="10.50000000000001" height="100" fill="url(#pb0)"/><rect x="299.1" y="320" width="6.599999999999977" height="100" fill="url(#pb1)"/><rect x="305.5" y="320" width="7.399999999999989" height="100" fill="url(#pb2)"/><rect x="312.7" y="320" width="6.5000000000000115" height="100" fill="url(#pb3)"/><rect x="319.0" y="320" width="7.399999999999989" height="100" fill="url(#pb4)"/><rect x="326.2" y="320" width="7.399999999999989" height="100" fill="url(#pb5)"/><rect x="333.4" y="320" width="3.0000000000000115" height="100" fill="url(#pb6)"/><line x1="299.1" y1="320" x2="299.1" y2="416.3" stroke="#f4f4f4" stroke-width="0.5" stroke-opacity="0.8"/><line x1="305.5" y1="320" x2="305.5" y2="416.3" stroke="#f4f4f4" stroke-width="0.5" stroke-opacity="0.8"/><line x1="312.7" y1="320" x2="312.7" y2="416.3" stroke="#f4f4f4" stroke-width="0.5" stroke-opacity="0.8"/><line x1="319.0" y1="320" x2="319.0" y2="416.3" stroke="#f4f4f4" stroke-width="0.5" stroke-opacity="0.8"/><line x1="326.2" y1="320" x2="326.2" y2="416.3" stroke="#f4f4f4" stroke-width="0.5" stroke-opacity="0.8"/></g>
<path d="M289.0,416.3 L289.3,415.9 L289.0,415.4 L289.2,414.8 L290.0,414.1 L290.4,413.4 L290.8,412.6 L290.9,411.7 L291.2,410.9 L291.7,409.9 L291.5,409.5 L291.5,408.8 L291.8,408.1 L292.2,407.3 L292.4,406.7 L292.3,406.1 L292.8,405.2 L292.8,404.3 L292.9,403.5 L293.1,403.2 L293.2,402.0 L293.3,401.4 L293.3,400.5 L293.3,400.0 L293.3,399.4 L293.6,398.4 L293.6,397.7 L294.3,396.9 L293.8,396.2 L294.5,395.2 L294.2,394.5 L294.5,394.0 L294.2,393.6 L294.5,392.7 L294.7,392.2 L294.5,391.0 L294.8,390.4 L295.2,390.0 L295.0,389.1 L295.5,388.3 L295.3,387.7 L295.5,386.8 L295.5,385.8 L295.6,385.9 L295.7,384.6 L296.1,383.9 L295.9,383.1 L296.4,382.0 L296.1,382.2 L296.9,380.6 L296.5,380.6 L296.8,379.9 L296.8,378.9 L297.1,378.0 L297.6,377.5 L297.9,377.2 L297.9,376.5 L297.8,375.3 L298.0,374.9 L298.0,374.7 L298.5,373.6 L299.1,372.9 L299.0,372.0 L299.7,370.2 L299.7,370.4 L299.7,369.2 L299.8,368.9 L301.1,367.7 L301.3,368.0 L301.7,368.2 L302.0,368.2 L302.0,369.5 L302.7,369.5 L303.0,371.1 L303.2,372.1 L303.5,371.9 L303.4,373.1 L303.4,374.4 L303.5,374.7 L303.9,375.7 L303.9,376.2 L304.8,377.8 L304.4,378.2 L304.5,378.5 L304.8,380.3 L305.0,379.8 L305.0,380.0 L305.8,380.9 L306.0,380.9 L306.1,379.9 L305.8,379.4 L305.9,378.6 L306.5,378.1 L306.2,377.0 L306.9,376.8 L307.0,375.6 L307.3,374.5 L307.1,373.6 L307.2,372.0 L307.3,371.9 L307.5,370.5 L307.8,370.0 L308.6,369.3 L308.8,368.8 L308.9,367.5 L309.0,366.9 L309.4,367.1 L309.7,366.0 L309.7,365.5 L310.5,366.6 L310.5,367.7 L310.8,368.4 L311.3,370.3 L311.1,371.8 L311.3,373.2 L311.4,373.2 L312.0,372.9 L312.0,372.8 L312.1,372.2 L311.8,371.1 L312.2,371.1 L312.0,370.8 L312.2,369.8 L312.4,369.7 L312.3,368.6 L312.6,368.0 L312.5,366.8 L312.7,366.4 L312.9,365.0 L312.9,364.8 L312.8,363.3 L313.4,362.3 L313.2,361.8 L312.9,361.0 L313.1,360.3 L313.7,359.0 L313.4,359.0 L313.7,357.3 L313.5,356.9 L314.1,356.3 L313.7,355.7 L314.0,354.5 L314.2,354.5 L314.2,353.4 L314.5,353.2 L314.5,351.0 L314.5,351.0 L314.5,350.1 L314.7,349.1 L315.0,348.3 L315.3,347.4 L315.3,346.5 L315.0,345.6 L315.4,343.9 L315.6,343.4 L315.6,343.0 L315.8,342.6 L315.8,342.2 L315.9,341.1 L316.4,340.2 L316.3,340.6 L315.9,340.0 L316.4,339.4 L316.6,339.6 L316.3,338.9 L316.8,339.4 L317.2,339.9 L317.2,339.4 L317.1,341.3 L317.5,342.0 L317.2,343.0 L317.5,343.9 L317.7,345.3 L317.9,346.5 L317.9,347.0 L318.1,348.1 L317.8,349.3 L318.0,349.3 L317.9,349.7 L318.6,350.6 L318.3,352.3 L318.3,353.0 L318.7,354.3 L318.7,354.5 L318.6,355.5 L318.6,356.2 L318.8,357.4 L319.3,359.2 L319.1,359.1 L319.1,360.4 L319.4,360.4 L319.5,361.3 L319.3,362.5 L319.4,362.5 L319.9,362.9 L320.1,362.7 L320.2,362.4 L320.2,362.8 L319.7,362.3 L320.4,362.6 L320.3,362.3 L319.9,361.1 L320.3,361.3 L320.7,359.5 L320.8,359.4 L320.4,357.9 L320.5,357.7 L320.6,356.5 L321.0,355.8 L320.6,355.3 L320.6,353.8 L320.6,352.6 L321.3,352.2 L321.0,351.3 L321.2,350.2 L321.0,348.8 L320.9,347.9 L321.2,346.9 L321.4,346.6 L321.2,345.9 L321.4,345.1 L321.7,345.0 L321.4,343.1 L322.1,342.6 L321.9,341.7 L321.8,341.1 L322.6,340.0 L322.2,339.0 L322.9,338.8 L322.6,338.0 L322.7,338.3 L323.0,338.4 L323.7,339.4 L323.6,339.8 L323.5,340.7 L324.2,340.9 L324.5,341.6 L324.7,342.7 L324.9,344.4 L325.1,345.3 L324.6,345.3 L325.1,347.0 L325.3,346.6 L325.1,348.0 L325.1,348.9 L325.5,350.1 L325.4,351.2 L326.0,352.4 L326.0,353.9 L325.6,354.7 L325.7,354.5 L326.3,356.0 L326.3,356.2 L326.5,356.5 L326.2,356.3 L326.2,356.1 L326.9,357.2 L326.5,356.1 L326.5,356.3 L326.7,354.9 L327.1,355.4 L326.6,354.1 L326.7,353.7 L326.9,352.4 L326.9,352.0 L327.1,351.0 L327.3,350.1 L327.5,349.1 L327.5,348.9 L327.4,347.5 L327.6,346.7 L327.2,345.4 L327.2,343.9 L327.7,343.4 L327.4,342.2 L327.3,342.3 L327.6,341.2 L327.9,341.2 L327.9,339.6 L328.2,338.6 L328.1,338.2 L327.9,337.6 L328.3,336.4 L328.0,335.7 L328.2,334.6 L328.7,333.4 L328.4,332.6 L329.0,332.4 L328.8,331.7 L329.0,330.8 L328.7,330.2 L329.2,330.5 L329.8,330.2 L330.0,331.1 L330.2,331.4 L330.5,332.8 L330.8,333.6 L330.4,334.6 L330.8,334.8 L330.9,335.0 L331.0,334.9 L330.8,336.4 L331.0,336.1 L331.4,337.7 L331.5,337.9 L331.1,339.2 L331.3,339.9 L331.7,340.3 L331.3,341.7 L331.9,342.8 L332.1,343.5 L332.0,344.3 L331.9,344.6 L331.7,345.5 L332.0,346.6 L332.0,346.6 L332.1,347.3 L332.0,347.4 L332.2,348.1 L331.8,348.4 L332.0,349.8 L332.3,350.1 L332.4,350.5 L332.1,351.8 L332.4,352.0 L332.6,352.1 L332.4,353.9 L332.6,353.7 L332.6,354.9 L332.7,355.3 L332.6,356.5 L332.8,356.8 L332.4,357.2 L332.7,357.9 L332.8,358.8 L332.4,360.6 L332.6,361.2 L332.6,361.2 L332.6,363.1 L332.5,363.8 L333.0,364.3 L332.6,365.2 L333.1,365.8 L332.7,366.7 L333.2,367.5 L332.7,367.8 L333.1,368.5 L332.7,369.8 L332.9,370.6 L332.7,371.3 L333.2,371.6 L333.1,372.5 L333.3,373.2 L333.2,373.9 L333.4,373.9 L332.9,375.7 L333.4,375.2 L333.5,376.8 L333.5,377.7 L333.2,377.6 L333.5,379.2 L333.3,379.4 L333.2,381.0 L333.3,380.9 L333.7,382.6 L333.2,382.4 L333.6,383.5 L333.4,384.6 L333.3,385.3 L333.3,385.7 L333.5,386.7 L333.8,387.3 L333.8,388.2 L333.5,388.9 L333.5,390.5 L333.5,391.1 L334.0,391.8 L333.4,392.4 L333.4,393.0 L333.6,393.8 L333.8,394.8 L333.6,395.4 L333.5,396.1 L333.7,396.8 L333.8,397.7 L334.0,398.5 L334.1,399.6 L334.2,399.9 L334.2,400.7 L334.2,401.4 L334.0,402.0 L334.1,402.7 L334.2,403.5 L333.9,403.9 L333.9,404.6 L333.9,405.3 L333.7,405.8 L334.4,406.6 L334.2,407.0 L334.2,407.6 L334.3,407.9 L334.2,408.5 L334.2,408.9 L334.1,409.3 L334.3,411.4 L334.8,412.9 L334.9,414.0 L334.4,414.8 L335.0,415.3 L334.7,415.5 L334.8,415.7 L334.8,415.9 L334.9,416.0 L335.2,416.3" fill="none" stroke="#d8262b" stroke-width="1.1" stroke-linejoin="round"/>
<path d="M257.3,416.3 L257.8,416.3 L258.2,416.3 L258.6,416.3 L258.9,416.3 L259.4,416.3 L260.0,416.4 L260.7,416.4 L261.1,416.4 L262.1,416.4 L262.5,416.4 L263.3,416.5 L264.3,416.5 L264.7,416.5 L265.6,416.6 L266.3,416.6 L267.3,416.6 L268.2,416.6 L268.8,416.7 L269.7,416.7 L270.6,416.7 L271.2,416.7 L272.5,416.8 L273.1,416.8 L274.1,416.8 L274.8,416.8 L275.8,416.9 L276.9,416.9 L277.6,416.9 L278.5,416.9 L279.1,416.9 L279.9,416.9 L280.8,416.9 L281.8,416.9 L282.4,416.9 L283.1,416.9 L284.3,416.9 L284.7,416.9 L285.9,416.8 L286.5,416.8 L287.3,416.8 L287.9,416.7 L288.1,416.7 L289.0,416.6 L289.2,416.6 L290.2,416.5 L290.2,416.5 L291.2,416.4 L291.4,416.3 L292.7,415.9 L293.6,415.4 L294.1,414.8 L294.8,414.1 L294.6,413.2 L294.9,412.5 L294.7,411.6 L294.7,410.9 L294.5,410.0 L294.3,409.3 L294.3,408.6 L294.5,408.1 L295.1,407.1 L295.4,406.5 L295.6,405.8 L296.3,404.8 L296.6,404.3 L296.9,403.7 L297.5,403.3 L297.9,402.8 L298.3,402.7 L298.5,402.9 L299.3,403.1 L300.0,403.8 L300.5,404.8 L300.8,405.4 L301.5,405.9 L302.1,406.7 L302.7,407.0 L303.2,407.7 L303.6,408.2 L304.2,408.7 L305.0,409.1 L305.6,409.1 L306.3,409.3 L307.3,409.6 L307.8,409.6 L308.9,409.8 L309.3,409.8 L310.3,409.8 L311.0,409.9 L311.8,409.9 L312.8,410.0 L313.7,410.2 L314.3,410.2 L315.2,410.2 L316.1,410.3 L316.7,410.4 L317.5,410.5 L318.1,410.4 L318.8,410.5 L319.3,410.3 L320.1,410.2 L321.2,409.9 L321.4,409.7 L322.2,409.6 L322.9,409.2 L323.5,408.7 L324.0,408.2 L324.8,407.8 L324.8,406.9 L325.5,406.5 L325.7,406.0 L325.6,405.3 L325.9,404.3 L326.5,403.8 L326.4,402.9 L326.9,402.0 L327.0,401.5 L327.0,400.7 L327.6,400.1 L327.4,399.0 L327.8,398.3 L328.3,398.0 L328.7,396.8 L329.0,396.1 L329.2,395.0 L330.0,394.8 L330.4,395.0 L330.6,395.0 L330.9,395.5 L330.8,396.0 L331.5,397.0 L331.2,398.0 L332.1,399.0 L332.0,400.0 L332.2,400.6 L332.2,401.4 L332.6,402.0 L332.6,402.7 L332.4,403.4 L332.5,404.0 L333.1,404.8 L333.1,405.8 L332.9,406.4 L332.9,407.3 L333.3,408.0 L333.4,408.6 L333.5,409.4 L333.7,410.0 L333.6,410.8 L333.2,411.8 L332.8,412.6 L333.0,413.4 L332.6,414.1 L332.7,414.8 L332.8,415.4 L333.8,415.9 L334.5,416.3 L335.2,416.4 L335.7,416.5 L336.2,416.5 L336.7,416.6 L337.4,416.6 L338.0,416.7 L338.6,416.7 L339.2,416.7 L339.9,416.7 L340.5,416.8 L341.3,416.8 L342.2,416.8 L342.9,416.8 L343.7,416.8 L344.8,416.7 L345.7,416.7 L346.3,416.7 L347.2,416.7 L348.5,416.7 L349.0,416.6 L350.4,416.6 L350.7,416.6 L352.0,416.6 L352.7,416.5 L353.5,416.5 L354.2,416.5 L355.0,416.4 L356.0,416.4 L356.4,416.4 L357.1,416.4 L357.8,416.4 L358.1,416.3 L358.8,416.3 L359.2,416.3 L359.7,416.3 L360.1,416.3" fill="none" stroke="#3fd23f" stroke-width="1.3" stroke-linejoin="round"/>
<path d="M334.70,416.30 C334.92,413.58 335.55,411.88 336.00,400.00 C336.45,388.12 336.98,356.45 337.40,345.00 C337.82,333.55 338.12,331.30 338.50,331.30 C338.88,331.30 339.20,334.38 339.70,345.00 C340.20,355.62 340.78,383.12 341.50,395.00 C342.22,406.88 343.58,412.75 344.00,416.30" fill="none" stroke="#3d9ad6" stroke-width="1.0"/>
<text x="42.20" y="322.80" font-size="7.6" font-weight="bold" fill="#3d9ad6" color="#3d9ad6" text-anchor="start" textLength="20.7" lengthAdjust="spacingAndGlyphs">Fresh</text>
<text x="42.60" y="332.50" font-size="7.6" font-weight="bold" fill="#e0262b" color="#e0262b" text-anchor="start" textLength="23.5" lengthAdjust="spacingAndGlyphs">CD34+</text>
<text x="42.60" y="342.10" font-size="7.6" font-weight="bold" fill="#3fd23f" color="#3fd23f" text-anchor="start" textLength="21.5" lengthAdjust="spacingAndGlyphs">CD34-</text>
<line x1="31.10" y1="316.00" x2="31.10" y2="422.50" stroke="#000" stroke-width="1.3"/>
<polygon points="31.1,312.6 29.0,317.6 33.2,317.6" fill="#000"/>
<line x1="31.10" y1="422.50" x2="358.00" y2="422.50" stroke="#000" stroke-width="1.3"/>
<polygon points="362.5,422.5 357.3,420.4 357.3,424.6" fill="#000"/>
<text x="26.50" y="366.50" font-size="8.6" font-weight="bold" fill="#000" color="#000" text-anchor="middle" textLength="43.7" lengthAdjust="spacingAndGlyphs" transform="rotate(-90 26.50 366.50)">Cell Count</text>
<text x="196.90" y="433.20" font-size="8.4" font-weight="bold" fill="#000" color="#000" text-anchor="middle" textLength="24.2" lengthAdjust="spacingAndGlyphs">CFSE</text>
<text x="1.40" y="447.50" font-size="15" font-weight="bold" fill="#000" color="#000" text-anchor="start">d</text>
<line x1="74.65" y1="518.00" x2="74.65" y2="512.61" stroke="#222" stroke-width="0.8"/>
<line x1="73.05" y1="512.61" x2="76.25" y2="512.61" stroke="#222" stroke-width="0.8"/>
<line x1="116.15" y1="518.00" x2="116.15" y2="510.68" stroke="#222" stroke-width="0.8"/>
<line x1="114.55" y1="510.68" x2="117.75" y2="510.68" stroke="#222" stroke-width="0.8"/>
<line x1="136.90" y1="523.52" x2="136.90" y2="509.16" stroke="#222" stroke-width="0.8"/>
<line x1="135.30" y1="509.16" x2="138.50" y2="509.16" stroke="#222" stroke-width="0.8"/>
<line x1="157.65" y1="536.64" x2="157.65" y2="527.11" stroke="#222" stroke-width="0.8"/>
<line x1="156.05" y1="527.11" x2="159.25" y2="527.11" stroke="#222" stroke-width="0.8"/>
<line x1="178.40" y1="542.17" x2="178.40" y2="535.54" stroke="#222" stroke-width="0.8"/>
<line x1="176.80" y1="535.54" x2="180.00" y2="535.54" stroke="#222" stroke-width="0.8"/>
<line x1="157.65" y1="494.25" x2="157.65" y2="486.37" stroke="#222" stroke-width="0.8"/>
<line x1="156.05" y1="486.37" x2="159.25" y2="486.37" stroke="#222" stroke-width="0.8"/>
<line x1="178.40" y1="505.02" x2="178.40" y2="489.96" stroke="#222" stroke-width="0.8"/>
<line x1="176.80" y1="489.96" x2="180.00" y2="489.96" stroke="#222" stroke-width="0.8"/>
<line x1="178.40" y1="472.29" x2="178.40" y2="452.68" stroke="#222" stroke-width="0.8"/>
<line x1="176.80" y1="452.68" x2="180.00" y2="452.68" stroke="#222" stroke-width="0.8"/>
<line x1="157.65" y1="518.69" x2="157.65" y2="510.40" stroke="#222" stroke-width="0.8"/>
<line x1="156.05" y1="510.40" x2="159.25" y2="510.40" stroke="#222" stroke-width="0.8"/>
<line x1="95.40" y1="542.86" x2="95.40" y2="541.06" stroke="#222" stroke-width="0.8"/>
<line x1="93.80" y1="541.06" x2="97.00" y2="541.06" stroke="#222" stroke-width="0.8"/>
<polyline points="53.90,546.31 74.65,518.00 95.40,521.45 116.15,518.00 136.90,521.73 157.65,536.64 178.40,542.17" fill="none" stroke="#000" stroke-width="1.1"/>
<polyline points="53.90,546.31 74.65,546.31 95.40,542.86 116.15,541.48 136.90,523.52 157.65,494.25 178.40,505.02" fill="none" stroke="#000" stroke-width="0.9" stroke-dasharray="1.3 1.1"/>
<polyline points="53.90,547.00 74.65,546.59 95.40,545.34 116.15,541.48 136.90,538.02 157.65,510.40 178.40,472.29" fill="none" stroke="#000" stroke-width="0.9" stroke-dasharray="3.2 1.6"/>
<polygon points="53.90,542.69 50.36,548.72 57.44,548.72" fill="#000"/>
<polygon points="74.65,514.38 71.11,520.41 78.19,520.41" fill="#000"/>
<polygon points="95.40,517.83 91.86,523.87 98.94,523.87" fill="#000"/>
<polygon points="116.15,514.38 112.61,520.41 119.69,520.41" fill="#000"/>
<polygon points="136.90,518.11 133.36,524.14 140.44,524.14" fill="#000"/>
<polygon points="157.65,533.02 154.11,539.06 161.19,539.06" fill="#000"/>
<polygon points="178.40,538.55 174.86,544.58 181.94,544.58" fill="#000"/>
<rect x="51.10" y="543.51" width="5.60" height="5.60" fill="#000"/>
<rect x="71.85" y="543.51" width="5.60" height="5.60" fill="#000"/>
<rect x="92.60" y="540.06" width="5.60" height="5.60" fill="#000"/>
<rect x="113.35" y="538.68" width="5.60" height="5.60" fill="#000"/>
<rect x="134.10" y="520.72" width="5.60" height="5.60" fill="#000"/>
<rect x="154.85" y="491.45" width="5.60" height="5.60" fill="#000"/>
<rect x="175.60" y="502.22" width="5.60" height="5.60" fill="#000"/>
<circle cx="53.90" cy="547.00" r="2.80" fill="#000"/>
<circle cx="74.65" cy="546.59" r="2.80" fill="#000"/>
<circle cx="95.40" cy="545.34" r="2.80" fill="#000"/>
<circle cx="116.15" cy="541.48" r="2.80" fill="#000"/>
<circle cx="136.90" cy="538.02" r="2.80" fill="#000"/>
<circle cx="157.65" cy="510.40" r="2.80" fill="#000"/>
<circle cx="178.40" cy="472.29" r="2.80" fill="#000"/>
<line x1="43.30" y1="449.80" x2="43.30" y2="547.00" stroke="#000" stroke-width="1.0"/>
<line x1="43.30" y1="547.00" x2="181.20" y2="547.00" stroke="#000" stroke-width="1.0"/>
<line x1="41.00" y1="547.00" x2="43.30" y2="547.00" stroke="#000" stroke-width="0.9"/>
<text x="39.60" y="549.40" font-size="6.6" font-weight="bold" fill="#000" color="#000" text-anchor="end">0</text>
<line x1="41.00" y1="533.19" x2="43.30" y2="533.19" stroke="#000" stroke-width="0.9"/>
<text x="39.60" y="535.59" font-size="6.6" font-weight="bold" fill="#000" color="#000" text-anchor="end">10</text>
<line x1="41.00" y1="519.38" x2="43.30" y2="519.38" stroke="#000" stroke-width="0.9"/>
<text x="39.60" y="521.78" font-size="6.6" font-weight="bold" fill="#000" color="#000" text-anchor="end">20</text>
<line x1="41.00" y1="505.57" x2="43.30" y2="505.57" stroke="#000" stroke-width="0.9"/>
<text x="39.60" y="507.97" font-size="6.6" font-weight="bold" fill="#000" color="#000" text-anchor="end">30</text>
<line x1="41.00" y1="491.76" x2="43.30" y2="491.76" stroke="#000" stroke-width="0.9"/>
<text x="39.60" y="494.16" font-size="6.6" font-weight="bold" fill="#000" color="#000" text-anchor="end">40</text>
<line x1="41.00" y1="477.95" x2="43.30" y2="477.95" stroke="#000" stroke-width="0.9"/>
<text x="39.60" y="480.35" font-size="6.6" font-weight="bold" fill="#000" color="#000" text-anchor="end">50</text>
<line x1="41.00" y1="464.14" x2="43.30" y2="464.14" stroke="#000" stroke-width="0.9"/>
<text x="39.60" y="466.54" font-size="6.6" font-weight="bold" fill="#000" color="#000" text-anchor="end">60</text>
<line x1="41.00" y1="450.33" x2="43.30" y2="450.33" stroke="#000" stroke-width="0.9"/>
<text x="39.60" y="452.73" font-size="6.6" font-weight="bold" fill="#000" color="#000" text-anchor="end">70</text>
<line x1="53.90" y1="547.00" x2="53.90" y2="549.00" stroke="#000" stroke-width="0.8"/>
<text x="53.90" y="557.80" font-size="7.2" font-weight="bold" fill="#000" color="#000" text-anchor="middle">0</text>
<line x1="74.65" y1="547.00" x2="74.65" y2="549.00" stroke="#000" stroke-width="0.8"/>
<text x="74.65" y="557.80" font-size="7.2" font-weight="bold" fill="#000" color="#000" text-anchor="middle">1</text>
<line x1="95.40" y1="547.00" x2="95.40" y2="549.00" stroke="#000" stroke-width="0.8"/>
<text x="95.40" y="557.80" font-size="7.2" font-weight="bold" fill="#000" color="#000" text-anchor="middle">2</text>
<line x1="116.15" y1="547.00" x2="116.15" y2="549.00" stroke="#000" stroke-width="0.8"/>
<text x="116.15" y="557.80" font-size="7.2" font-weight="bold" fill="#000" color="#000" text-anchor="middle">3</text>
<line x1="136.90" y1="547.00" x2="136.90" y2="549.00" stroke="#000" stroke-width="0.8"/>
<text x="136.90" y="557.80" font-size="7.2" font-weight="bold" fill="#000" color="#000" text-anchor="middle">4</text>
<line x1="157.65" y1="547.00" x2="157.65" y2="549.00" stroke="#000" stroke-width="0.8"/>
<text x="157.65" y="557.80" font-size="7.2" font-weight="bold" fill="#000" color="#000" text-anchor="middle">5</text>
<line x1="178.40" y1="547.00" x2="178.40" y2="549.00" stroke="#000" stroke-width="0.8"/>
<text x="178.40" y="557.80" font-size="7.2" font-weight="bold" fill="#000" color="#000" text-anchor="middle">6</text>
<text x="116.40" y="568.40" font-size="8.2" font-weight="bold" fill="#000" color="#000" text-anchor="middle" textLength="42.6" lengthAdjust="spacingAndGlyphs">Generation</text>
<text x="26.30" y="498.30" font-size="8.0" font-weight="bold" fill="#000" color="#000" text-anchor="middle" textLength="85.8" lengthAdjust="spacingAndGlyphs" transform="rotate(-90 26.30 498.30)">Proportion of cells [%]</text>
<text x="74.60" y="540.00" font-size="8" font-weight="bold" fill="#000" color="#000" text-anchor="middle">**</text>
<text x="74.60" y="544.80" font-size="8" font-weight="bold" fill="#000" color="#000" text-anchor="middle">*</text>
<text x="95.70" y="542.10" font-size="8" font-weight="bold" fill="#000" color="#000" text-anchor="middle">*</text>
<text x="116.30" y="539.30" font-size="8" font-weight="bold" fill="#000" color="#000" text-anchor="middle">*</text>
<text x="158.30" y="479.70" font-size="8" font-weight="bold" fill="#000" color="#000" text-anchor="middle">*</text>
<text x="158.30" y="486.40" font-size="8" font-weight="bold" fill="#000" color="#000" text-anchor="middle">***</text>
<text x="178.90" y="453.20" font-size="8" font-weight="bold" fill="#000" color="#000" text-anchor="middle">***</text>
<text x="178.90" y="492.10" font-size="8" font-weight="bold" fill="#000" color="#000" text-anchor="middle">***</text>
<line x1="54.10" y1="460.00" x2="64.10" y2="460.00" stroke="#000" stroke-width="0.9" stroke-dasharray="3.2 1.6"/>
<circle cx="59.20" cy="460.00" r="2.60" fill="#000"/>
<text x="68.30" y="462.50" font-size="7.2" font-weight="bold" fill="#000" color="#000" text-anchor="start" textLength="29.5" lengthAdjust="spacingAndGlyphs">Attached</text>
<line x1="54.10" y1="470.60" x2="64.10" y2="470.60" stroke="#000" stroke-width="0.9" stroke-dasharray="1.3 1.1"/>
<rect x="56.60" y="468.00" width="5.20" height="5.20" fill="#000"/>
<text x="68.30" y="473.10" font-size="7.2" font-weight="bold" fill="#000" color="#000" text-anchor="start" textLength="41.4" lengthAdjust="spacingAndGlyphs">Supernatant</text>
<line x1="54.10" y1="481.30" x2="64.10" y2="481.30" stroke="#000" stroke-width="0.9"/>
<polygon points="59.20,477.91 55.91,483.54 62.49,483.54" fill="#000"/>
<text x="68.30" y="483.80" font-size="7.2" font-weight="bold" fill="#000" color="#000" text-anchor="start">PCD</text>
<line x1="252.30" y1="485.56" x2="252.30" y2="459.56" stroke="#222" stroke-width="0.8"/>
<line x1="250.70" y1="459.56" x2="253.90" y2="459.56" stroke="#222" stroke-width="0.8"/>
<line x1="252.30" y1="484.86" x2="252.30" y2="473.74" stroke="#222" stroke-width="0.8"/>
<line x1="250.70" y1="473.74" x2="253.90" y2="473.74" stroke="#222" stroke-width="0.8"/>
<line x1="273.20" y1="474.44" x2="273.20" y2="457.06" stroke="#222" stroke-width="0.8"/>
<line x1="271.60" y1="457.06" x2="274.80" y2="457.06" stroke="#222" stroke-width="0.8"/>
<line x1="273.20" y1="488.75" x2="273.20" y2="465.12" stroke="#222" stroke-width="0.8"/>
<line x1="271.60" y1="465.12" x2="274.80" y2="465.12" stroke="#222" stroke-width="0.8"/>
<line x1="294.10" y1="483.61" x2="294.10" y2="470.41" stroke="#222" stroke-width="0.8"/>
<line x1="292.50" y1="470.41" x2="295.70" y2="470.41" stroke="#222" stroke-width="0.8"/>
<line x1="315.00" y1="490.84" x2="315.00" y2="475.13" stroke="#222" stroke-width="0.8"/>
<line x1="313.40" y1="475.13" x2="316.60" y2="475.13" stroke="#222" stroke-width="0.8"/>
<line x1="315.00" y1="530.73" x2="315.00" y2="522.67" stroke="#222" stroke-width="0.8"/>
<line x1="313.40" y1="522.67" x2="316.60" y2="522.67" stroke="#222" stroke-width="0.8"/>
<line x1="335.90" y1="500.85" x2="335.90" y2="491.26" stroke="#222" stroke-width="0.8"/>
<line x1="334.30" y1="491.26" x2="337.50" y2="491.26" stroke="#222" stroke-width="0.8"/>
<line x1="356.80" y1="520.72" x2="356.80" y2="509.33" stroke="#222" stroke-width="0.8"/>
<line x1="355.20" y1="509.33" x2="358.40" y2="509.33" stroke="#222" stroke-width="0.8"/>
<polyline points="231.40,462.90 252.30,489.87 273.20,488.75 294.10,483.61 315.00,490.84 335.90,500.85 356.80,520.72" fill="none" stroke="#000" stroke-width="1.1"/>
<polyline points="231.40,462.90 252.30,485.56 273.20,491.26 294.10,484.86 315.00,509.33 335.90,518.22 356.80,528.23" fill="none" stroke="#000" stroke-width="0.9" stroke-dasharray="3.2 1.6"/>
<polyline points="231.40,462.90 252.30,484.86 273.20,474.44 294.10,489.87 315.00,530.73 335.90,528.23 356.80,526.42" fill="none" stroke="#000" stroke-width="0.9" stroke-dasharray="1.3 1.1"/>
<polygon points="231.40,459.28 227.86,465.31 234.94,465.31" fill="#000"/>
<polygon points="252.30,486.25 248.76,492.28 255.84,492.28" fill="#000"/>
<polygon points="273.20,485.13 269.66,491.17 276.74,491.17" fill="#000"/>
<polygon points="294.10,479.99 290.56,486.03 297.64,486.03" fill="#000"/>
<polygon points="315.00,487.22 311.46,493.25 318.54,493.25" fill="#000"/>
<polygon points="335.90,497.23 332.36,503.26 339.44,503.26" fill="#000"/>
<polygon points="356.80,517.10 353.26,523.14 360.34,523.14" fill="#000"/>
<circle cx="231.40" cy="462.90" r="2.80" fill="#000"/>
<circle cx="252.30" cy="485.56" r="2.80" fill="#000"/>
<circle cx="273.20" cy="491.26" r="2.80" fill="#000"/>
<circle cx="294.10" cy="484.86" r="2.80" fill="#000"/>
<circle cx="315.00" cy="509.33" r="2.80" fill="#000"/>
<circle cx="335.90" cy="518.22" r="2.80" fill="#000"/>
<circle cx="356.80" cy="528.23" r="2.80" fill="#000"/>
<rect x="228.60" y="460.10" width="5.60" height="5.60" fill="#000"/>
<rect x="249.50" y="482.06" width="5.60" height="5.60" fill="#000"/>
<rect x="270.40" y="471.64" width="5.60" height="5.60" fill="#000"/>
<rect x="291.30" y="487.07" width="5.60" height="5.60" fill="#000"/>
<rect x="312.20" y="527.93" width="5.60" height="5.60" fill="#000"/>
<rect x="333.10" y="525.43" width="5.60" height="5.60" fill="#000"/>
<rect x="354.00" y="523.62" width="5.60" height="5.60" fill="#000"/>
<line x1="220.40" y1="449.40" x2="220.40" y2="546.30" stroke="#000" stroke-width="1.0"/>
<line x1="220.40" y1="546.30" x2="361.60" y2="546.30" stroke="#000" stroke-width="1.0"/>
<line x1="218.00" y1="546.30" x2="220.40" y2="546.30" stroke="#000" stroke-width="0.9"/>
<text x="216.60" y="548.80" font-size="6.8" font-weight="bold" fill="#000" color="#000" text-anchor="end">40</text>
<line x1="218.00" y1="518.50" x2="220.40" y2="518.50" stroke="#000" stroke-width="0.9"/>
<text x="216.60" y="521.00" font-size="6.8" font-weight="bold" fill="#000" color="#000" text-anchor="end">60</text>
<line x1="218.00" y1="490.70" x2="220.40" y2="490.70" stroke="#000" stroke-width="0.9"/>
<text x="216.60" y="493.20" font-size="6.8" font-weight="bold" fill="#000" color="#000" text-anchor="end">80</text>
<line x1="218.00" y1="462.90" x2="220.40" y2="462.90" stroke="#000" stroke-width="0.9"/>
<text x="216.60" y="465.40" font-size="6.8" font-weight="bold" fill="#000" color="#000" text-anchor="end">100</text>
<line x1="231.40" y1="546.30" x2="231.40" y2="548.30" stroke="#000" stroke-width="0.8"/>
<text x="231.40" y="557.40" font-size="7.2" font-weight="bold" fill="#000" color="#000" text-anchor="middle">0</text>
<line x1="252.30" y1="546.30" x2="252.30" y2="548.30" stroke="#000" stroke-width="0.8"/>
<text x="252.30" y="557.40" font-size="7.2" font-weight="bold" fill="#000" color="#000" text-anchor="middle">1</text>
<line x1="273.20" y1="546.30" x2="273.20" y2="548.30" stroke="#000" stroke-width="0.8"/>
<text x="273.20" y="557.40" font-size="7.2" font-weight="bold" fill="#000" color="#000" text-anchor="middle">2</text>
<line x1="294.10" y1="546.30" x2="294.10" y2="548.30" stroke="#000" stroke-width="0.8"/>
<text x="294.10" y="557.40" font-size="7.2" font-weight="bold" fill="#000" color="#000" text-anchor="middle">3</text>
<line x1="315.00" y1="546.30" x2="315.00" y2="548.30" stroke="#000" stroke-width="0.8"/>
<text x="315.00" y="557.40" font-size="7.2" font-weight="bold" fill="#000" color="#000" text-anchor="middle">4</text>
<line x1="335.90" y1="546.30" x2="335.90" y2="548.30" stroke="#000" stroke-width="0.8"/>
<text x="335.90" y="557.40" font-size="7.2" font-weight="bold" fill="#000" color="#000" text-anchor="middle">5</text>
<line x1="356.80" y1="546.30" x2="356.80" y2="548.30" stroke="#000" stroke-width="0.8"/>
<text x="356.80" y="557.40" font-size="7.2" font-weight="bold" fill="#000" color="#000" text-anchor="middle">6</text>
<text x="294.00" y="567.80" font-size="8.2" font-weight="bold" fill="#000" color="#000" text-anchor="middle" textLength="42.6" lengthAdjust="spacingAndGlyphs">Generation</text>
<text x="201.00" y="497.00" font-size="7.4" font-weight="bold" fill="#000" color="#000" text-anchor="middle" textLength="100" lengthAdjust="spacingAndGlyphs" transform="rotate(-90 201.00 497.00)">Proportion of CD34+ cells [%]</text>
<line x1="231.90" y1="508.10" x2="241.80" y2="508.10" stroke="#000" stroke-width="0.9" stroke-dasharray="3.2 1.6"/>
<circle cx="236.80" cy="508.10" r="2.60" fill="#000"/>
<text x="246.30" y="510.60" font-size="7.2" font-weight="bold" fill="#000" color="#000" text-anchor="start" textLength="29.2" lengthAdjust="spacingAndGlyphs">Attached</text>
<line x1="231.90" y1="518.70" x2="241.80" y2="518.70" stroke="#000" stroke-width="0.9" stroke-dasharray="1.3 1.1"/>
<rect x="234.20" y="516.10" width="5.20" height="5.20" fill="#000"/>
<text x="246.30" y="521.20" font-size="7.2" font-weight="bold" fill="#000" color="#000" text-anchor="start" textLength="41" lengthAdjust="spacingAndGlyphs">Supernatant</text>
<line x1="231.90" y1="529.30" x2="241.80" y2="529.30" stroke="#000" stroke-width="0.9"/>
<polygon points="236.80,525.91 233.51,531.54 240.09,531.54" fill="#000"/>
<text x="246.30" y="531.80" font-size="7.2" font-weight="bold" fill="#000" color="#000" text-anchor="start">PCD</text>
<text x="1.00" y="581.00" font-size="14.5" font-weight="bold" fill="#000" color="#000" text-anchor="start">e</text>
<ellipse cx="55" cy="633" rx="17" ry="6.5" transform="rotate(-58 55 633)" fill="#888" fill-opacity="0.25"/>
<path d="M55.7 632.4h0.7M51.5 629.2h0.7M62.6 636.4h0.7M60.0 626.6h0.7M53.7 632.4h0.7M51.9 623.3h0.7M60.7 621.3h0.7M55.3 642.6h0.7M51.3 622.7h0.7M56.9 629.8h0.7M67.6 627.9h0.7M51.0 632.4h0.7M64.2 619.7h0.7M57.7 624.4h0.7M67.9 623.6h0.7M68.2 627.6h0.7M38.3 665.3h0.7M44.3 638.9h0.7M67.5 625.4h0.7M67.8 622.4h0.7M56.8 632.0h0.7M52.7 625.9h0.7M59.3 620.8h0.7M58.7 620.2h0.7M54.7 640.3h0.7M49.7 634.4h0.7M42.1 625.8h0.7M55.1 643.9h0.7M54.9 615.7h0.7M55.8 620.9h0.7M67.8 612.2h0.7M47.4 649.8h0.7M70.9 622.5h0.7M55.0 628.8h0.7M49.8 631.7h0.7M48.8 615.2h0.7M64.0 624.1h0.7M55.8 639.8h0.7M66.5 619.7h0.7M51.6 628.5h0.7M51.7 640.1h0.7M46.9 656.9h0.7M49.4 635.9h0.7M65.6 614.9h0.7M57.2 626.1h0.7M60.1 613.4h0.7M63.3 629.7h0.7M61.2 617.3h0.7M65.9 614.5h0.7M73.4 606.3h0.7M68.1 609.4h0.7M57.6 640.2h0.7M47.6 627.4h0.7M59.0 617.4h0.7M33.5 658.0h0.7M63.2 624.7h0.7M51.0 638.0h0.7M75.1 611.4h0.7M45.7 631.1h0.7M54.3 636.8h0.7M63.1 632.7h0.7M63.9 631.0h0.7M63.0 618.7h0.7M72.7 600.1h0.7M73.5 616.8h0.7M53.4 630.5h0.7M78.4 613.1h0.7M60.9 615.5h0.7M64.6 608.2h0.7M59.1 631.0h0.7M45.1 645.3h0.7M44.2 626.0h0.7M49.5 636.8h0.7M45.5 651.2h0.7M53.9 624.1h0.7M67.7 611.7h0.7M44.8 642.8h0.7M57.6 621.9h0.7M44.7 635.3h0.7M53.1 626.7h0.7M63.0 611.9h0.7M47.3 619.5h0.7M59.4 627.8h0.7M49.3 623.9h0.7M54.3 626.8h0.7M68.1 616.4h0.7M40.8 651.0h0.7M60.9 629.0h0.7M59.8 617.0h0.7M45.5 641.0h0.7M62.0 637.2h0.7M59.8 624.4h0.7M47.4 637.8h0.7M62.8 625.6h0.7M54.0 621.7h0.7M48.4 637.9h0.7M44.5 622.8h0.7M37.7 651.5h0.7M54.1 634.2h0.7M71.2 605.8h0.7M76.1 602.9h0.7M61.3 627.1h0.7M50.2 638.6h0.7M52.7 633.0h0.7M45.8 626.6h0.7M46.5 641.9h0.7M85.6 592.5h0.7M46.9 650.8h0.7M56.2 621.8h0.7M67.6 614.4h0.7M45.5 651.8h0.7M63.5 612.7h0.7M40.6 655.0h0.7M56.3 605.5h0.7M58.9 621.9h0.7M50.4 648.5h0.7M53.8 627.8h0.7M63.0 624.1h0.7M50.8 647.1h0.7M43.5 642.7h0.7M39.3 660.5h0.7M51.8 619.4h0.7M51.5 625.9h0.7M56.6 637.4h0.7M42.9 633.7h0.7M61.4 615.8h0.7M59.4 621.1h0.7M42.5 625.5h0.7M75.1 615.3h0.7M50.6 633.7h0.7M69.1 624.3h0.7M47.8 664.8h0.7M56.0 631.2h0.7M62.7 628.1h0.7M56.6 652.0h0.7M56.7 624.6h0.7M59.9 614.9h0.7M47.6 628.1h0.7M58.3 633.8h0.7M54.8 638.5h0.7M38.0 657.1h0.7M59.8 628.0h0.7M48.4 637.9h0.7M69.5 608.0h0.7M55.0 638.3h0.7M61.9 634.9h0.7M54.7 631.4h0.7M65.9 603.5h0.7M67.8 619.1h0.7M67.1 625.1h0.7M56.3 624.7h0.7M39.7 633.4h0.7M70.2 628.8h0.7M62.5 624.3h0.7M53.6 628.5h0.7M69.5 631.5h0.7M42.9 642.3h0.7M56.7 607.4h0.7M80.8 613.6h0.7M71.9 626.3h0.7M67.5 608.7h0.7M36.7 638.1h0.7M70.7 627.8h0.7M62.1 628.6h0.7M59.3 630.1h0.7M74.2 617.1h0.7M49.3 620.2h0.7M48.4 639.8h0.7M61.1 629.6h0.7M60.7 621.4h0.7M39.5 636.4h0.7M63.1 620.5h0.7M54.9 640.6h0.7M66.5 614.8h0.7M60.6 624.7h0.7M61.5 622.5h0.7M63.0 620.9h0.7M59.2 617.3h0.7M59.4 634.2h0.7M52.3 644.3h0.7M43.8 639.8h0.7M47.6 625.6h0.7M74.0 600.9h0.7M45.6 650.9h0.7M63.0 635.7h0.7M52.5 632.3h0.7M56.3 638.3h0.7M40.9 634.0h0.7M59.0 634.7h0.7M48.2 631.7h0.7M48.1 637.2h0.7M58.0 618.4h0.7M69.9 613.9h0.7M69.0 618.1h0.7M46.8 631.2h0.7M62.5 619.5h0.7M43.7 643.4h0.7M55.7 641.0h0.7M49.6 637.5h0.7M37.3 655.8h0.7M60.4 629.6h0.7M61.1 614.9h0.7M54.6 639.8h0.7M69.2 626.0h0.7M56.6 636.2h0.7M55.5 628.4h0.7M50.5 625.9h0.7M59.4 628.1h0.7M42.7 643.1h0.7M52.8 618.7h0.7M49.9 639.4h0.7M56.0 631.0h0.7M64.8 635.3h0.7M59.2 617.4h0.7M53.5 608.5h0.7M53.6 634.2h0.7M46.2 623.7h0.7M39.8 650.5h0.7M57.4 656.9h0.7M47.0 660.1h0.7M68.9 619.2h0.7M60.1 636.6h0.7M66.5 625.7h0.7M71.5 616.4h0.7M49.3 639.3h0.7M48.9 625.2h0.7M63.1 632.3h0.7M54.5 638.9h0.7M59.8 619.6h0.7M50.6 628.8h0.7M52.5 637.2h0.7M49.7 622.8h0.7M57.0 632.4h0.7M44.2 641.1h0.7M49.6 636.4h0.7M35.6 650.9h0.7M49.4 649.4h0.7M71.2 620.8h0.7M55.0 630.8h0.7M41.2 638.4h0.7M77.9 617.2h0.7M40.4 645.9h0.7M47.6 647.8h0.7M53.5 626.2h0.7M53.7 632.5h0.7M43.3 635.8h0.7M50.3 635.2h0.7M51.4 636.2h0.7M55.5 632.7h0.7M43.9 640.4h0.7M66.0 611.2h0.7M57.6 618.0h0.7M61.8 617.2h0.7M53.3 624.6h0.7M61.5 632.2h0.7M65.8 635.7h0.7M53.8 628.8h0.7M65.1 613.8h0.7M63.4 618.2h0.7M55.0 647.5h0.7M55.2 646.7h0.7M62.1 622.6h0.7M60.2 622.5h0.7M58.9 613.3h0.7M52.3 639.1h0.7M60.0 641.9h0.7M55.3 617.6h0.7M58.5 631.6h0.7M76.6 623.6h0.7M56.7 627.3h0.7M44.4 632.8h0.7M65.0 618.5h0.7M57.3 632.3h0.7M58.6 640.7h0.7M61.7 609.2h0.7M67.9 623.3h0.7M62.5 597.2h0.7M62.1 630.5h0.7M47.0 639.7h0.7M48.9 641.7h0.7M72.3 620.9h0.7M64.0 599.5h0.7M53.4 650.2h0.7M59.0 636.9h0.7M67.0 641.6h0.7M45.0 627.2h0.7M48.5 645.1h0.7M40.9 646.9h0.7M44.3 626.7h0.7M59.5 628.6h0.7M62.9 624.6h0.7M43.8 646.1h0.7M53.8 631.7h0.7M61.6 626.8h0.7M50.5 619.1h0.7M38.4 638.6h0.7M58.0 635.5h0.7M74.5 598.6h0.7M62.7 610.0h0.7M42.0 651.0h0.7M58.7 640.9h0.7M41.4 652.2h0.7M58.7 621.2h0.7M57.6 636.4h0.7M51.0 644.3h0.7M48.8 643.8h0.7M60.4 633.1h0.7M58.0 635.4h0.7M53.4 628.4h0.7M55.0 626.2h0.7M44.8 652.2h0.7M54.9 624.4h0.7M42.5 649.8h0.7M66.5 615.2h0.7M53.0 629.8h0.7M54.5 624.7h0.7M55.8 628.6h0.7M50.6 640.5h0.7M67.0 614.7h0.7M57.2 633.7h0.7M66.6 622.7h0.7M68.0 621.4h0.7M46.5 642.8h0.7M55.5 627.4h0.7M66.5 617.8h0.7M64.2 627.3h0.7M62.8 612.0h0.7M59.3 622.6h0.7M51.4 641.0h0.7M60.1 623.7h0.7M63.9 632.7h0.7M61.0 629.9h0.7M48.2 644.3h0.7M37.7 651.4h0.7M63.0 619.3h0.7M52.9 645.6h0.7M67.1 639.6h0.7M54.1 625.6h0.7M56.0 635.5h0.7M55.7 626.6h0.7M64.6 616.0h0.7M52.9 640.2h0.7M49.5 622.7h0.7M58.8 637.4h0.7M59.8 647.7h0.7M65.5 630.1h0.7M56.2 652.0h0.7M44.2 642.4h0.7M54.5 652.2h0.7M59.2 628.8h0.7M55.7 622.1h0.7M62.5 634.2h0.7M52.5 630.0h0.7M58.7 642.0h0.7M66.9 617.3h0.7M52.7 635.2h0.7M62.8 616.1h0.7M49.9 632.1h0.7M66.0 598.3h0.7M67.1 625.0h0.7M56.6 637.0h0.7M66.8 608.0h0.7M43.3 647.3h0.7M62.0 624.1h0.7M50.0 647.8h0.7M52.4 635.5h0.7M48.1 634.3h0.7M57.3 647.6h0.7M43.3 635.1h0.7M39.5 629.8h0.7M65.8 627.5h0.7M48.1 639.8h0.7M34.6 637.4h0.7M44.7 640.4h0.7M68.2 611.8h0.7M49.5 643.5h0.7M54.4 622.6h0.7M63.6 633.7h0.7M59.8 631.6h0.7M42.2 660.0h0.7M41.6 646.4h0.7M62.0 599.4h0.7M53.8 638.8h0.7M56.1 617.9h0.7M53.4 635.8h0.7M74.1 602.3h0.7M51.5 635.8h0.7M65.8 625.9h0.7M60.0 636.9h0.7M44.2 627.6h0.7M62.4 620.9h0.7M50.2 642.9h0.7M67.2 618.4h0.7M74.5 615.9h0.7M44.8 628.1h0.7M34.0 651.8h0.7M41.7 653.8h0.7M50.4 629.6h0.7M51.3 637.1h0.7M50.0 642.1h0.7M48.6 646.4h0.7M48.0 640.0h0.7M53.3 618.0h0.7M52.4 639.4h0.7M57.9 630.3h0.7M63.5 635.6h0.7M63.6 628.2h0.7M56.5 647.2h0.7M65.9 615.7h0.7M63.8 614.5h0.7M48.0 655.1h0.7M65.9 622.8h0.7M48.2 644.4h0.7M59.7 635.5h0.7M55.8 635.7h0.7M32.9 661.3h0.7M42.9 636.2h0.7M54.9 649.7h0.7M73.5 619.9h0.7M47.9 636.2h0.7M61.8 639.5h0.7M58.5 628.2h0.7M63.2 611.8h0.7M88.5 596.6h0.7M61.3 633.7h0.7M61.0 612.7h0.7M65.9 622.9h0.7M60.4 645.9h0.7M67.0 606.6h0.7M49.2 630.4h0.7M57.0 617.3h0.7M46.7 652.9h0.7M55.7 626.4h0.7M68.7 621.0h0.7M45.8 621.4h0.7M57.1 618.4h0.7M51.9 627.8h0.7M69.8 606.7h0.7M70.2 617.2h0.7M56.1 619.6h0.7M44.4 636.1h0.7M54.7 641.1h0.7M46.2 623.9h0.7M53.7 623.1h0.7M49.8 639.1h0.7M49.6 646.8h0.7M62.8 619.5h0.7M68.6 612.2h0.7M47.9 628.5h0.7M58.6 643.1h0.7M64.2 612.1h0.7M38.6 657.4h0.7M43.9 629.6h0.7M53.2 641.1h0.7M54.1 644.9h0.7M57.7 643.5h0.7M56.0 648.2h0.7M52.0 654.0h0.7M55.3 638.8h0.7M43.8 644.1h0.7M57.8 632.0h0.7M44.2 630.8h0.7M55.5 625.4h0.7M38.8 665.0h0.7M40.9 659.0h0.7M62.4 627.4h0.7M65.3 626.7h0.7M68.5 627.6h0.7M51.8 632.0h0.7M60.9 623.6h0.7M73.5 606.6h0.7M66.5 644.5h0.7M71.9 608.7h0.7M39.9 640.8h0.7M65.3 613.9h0.7M42.5 646.9h0.7M57.0 641.6h0.7M75.1 623.5h0.7M58.2 621.3h0.7M70.6 602.9h0.7M43.9 658.8h0.7M54.7 628.0h0.7M73.8 623.8h0.7M48.4 631.1h0.7M58.8 604.4h0.7M47.3 631.5h0.7M63.5 604.4h0.7M57.5 618.2h0.7M57.1 644.6h0.7M65.6 618.6h0.7M58.7 632.2h0.7M51.7 634.3h0.7M47.5 642.8h0.7M58.3 627.1h0.7M46.1 637.0h0.7M73.9 608.1h0.7M61.3 611.5h0.7M38.8 666.2h0.7M47.0 635.6h0.7M55.1 626.1h0.7M65.6 624.8h0.7M56.3 643.4h0.7M55.3 632.5h0.7M61.1 630.1h0.7M58.5 615.6h0.7M64.7 608.1h0.7M54.1 625.5h0.7M64.2 624.3h0.7M57.5 608.1h0.7M71.5 604.7h0.7M56.5 624.6h0.7M52.8 628.1h0.7M56.0 632.2h0.7M69.1 607.1h0.7M52.0 626.3h0.7M55.7 627.2h0.7M61.7 634.7h0.7M61.5 634.0h0.7M63.7 631.1h0.7M59.5 616.0h0.7M58.7 626.8h0.7M69.3 631.0h0.7M48.0 644.4h0.7M59.1 625.9h0.7M47.3 642.4h0.7M57.8 639.2h0.7M59.7 626.5h0.7M62.1 612.7h0.7M60.2 619.6h0.7M54.0 643.7h0.7M48.5 644.4h0.7M54.6 635.5h0.7M60.9 643.4h0.7M55.1 647.1h0.7M58.5 633.8h0.7M49.4 638.1h0.7M46.6 634.4h0.7M51.8 634.2h0.7M42.1 644.8h0.7M50.7 633.9h0.7M59.5 626.4h0.7M59.7 628.5h0.7M61.9 609.9h0.7M65.8 627.6h0.7M50.6 646.1h0.7M51.8 631.7h0.7M42.9 637.7h0.7M66.3 636.4h0.7M65.4 644.3h0.7M52.8 641.3h0.7M52.8 638.8h0.7M55.9 636.9h0.7M61.8 607.0h0.7M40.5 640.5h0.7M47.3 653.2h0.7M79.5 617.7h0.7M66.9 626.7h0.7M55.8 632.4h0.7M73.6 611.0h0.7M52.3 628.9h0.7M58.2 635.8h0.7M55.1 630.5h0.7M67.8 621.8h0.7M50.8 634.7h0.7M55.6 632.7h0.7M59.4 632.4h0.7M47.4 638.8h0.7M41.4 640.2h0.7M64.2 631.3h0.7M57.4 625.9h0.7M56.2 616.6h0.7M56.7 636.9h0.7M56.2 640.8h0.7M48.6 638.6h0.7M58.6 631.4h0.7M48.4 638.3h0.7M57.3 639.7h0.7M56.1 632.8h0.7M43.3 641.0h0.7M62.5 619.1h0.7M54.4 626.7h0.7M51.2 627.6h0.7M68.8 608.7h0.7M55.1 621.6h0.7M59.1 637.9h0.7M71.2 623.5h0.7M65.8 604.5h0.7M57.2 627.4h0.7M74.7 610.7h0.7M49.8 646.7h0.7M59.0 636.5h0.7M56.5 627.6h0.7M41.4 635.3h0.7M51.4 651.8h0.7M60.0 625.9h0.7M62.5 626.7h0.7M51.1 645.2h0.7M47.9 637.0h0.7M48.3 633.7h0.7M55.4 619.2h0.7M59.2 616.0h0.7M64.7 621.8h0.7M63.2 639.2h0.7M61.7 628.4h0.7M56.5 623.2h0.7M50.4 650.4h0.7M55.9 636.1h0.7M63.2 631.5h0.7M65.0 634.8h0.7M35.2 655.1h0.7M48.5 648.4h0.7M51.9 652.5h0.7M54.9 636.4h0.7M61.5 616.1h0.7M50.1 630.9h0.7M62.8 614.5h0.7M47.6 631.9h0.7M66.7 605.4h0.7M65.4 604.5h0.7M68.3 622.7h0.7M47.4 644.3h0.7M45.7 653.1h0.7M66.3 621.1h0.7M67.1 627.5h0.7M46.9 633.0h0.7M56.2 626.4h0.7M63.0 604.2h0.7M42.3 637.0h0.7M51.2 637.9h0.7M50.7 626.4h0.7M44.7 642.9h0.7M56.0 620.8h0.7M49.2 629.5h0.7M44.5 635.4h0.7M65.9 630.0h0.7M58.3 624.2h0.7M56.9 636.9h0.7M61.4 637.6h0.7M75.2 612.1h0.7M44.9 634.8h0.7M57.0 620.3h0.7M69.6 611.7h0.7M43.4 640.6h0.7M64.0 620.9h0.7M39.6 642.2h0.7M67.6 627.0h0.7M69.5 624.7h0.7M57.9 639.7h0.7M55.2 640.8h0.7M47.4 635.5h0.7M55.1 624.3h0.7M66.6 617.3h0.7M53.9 627.3h0.7M65.0 605.4h0.7M61.8 609.2h0.7M73.5 622.2h0.7M61.9 618.1h0.7M59.1 631.0h0.7M50.5 634.1h0.7M70.3 624.1h0.7M60.6 629.0h0.7M46.4 640.8h0.7M56.7 636.3h0.7M48.5 638.9h0.7M61.5 633.6h0.7M50.2 641.3h0.7M64.6 628.2h0.7M64.1 626.4h0.7M82.5 598.3h0.7M48.7 639.4h0.7M44.6 638.8h0.7M72.3 608.3h0.7M60.0 629.4h0.7M48.7 625.4h0.7M67.7 621.5h0.7M62.4 606.6h0.7M63.2 625.9h0.7M60.6 631.7h0.7M61.3 625.1h0.7M33.5 655.5h0.7M52.0 624.1h0.7M54.0 631.1h0.7M62.9 614.6h0.7M41.9 616.1h0.7M53.8 631.6h0.7M73.9 610.5h0.7M55.0 647.8h0.7M57.1 621.2h0.7M68.8 624.9h0.7M57.9 613.4h0.7M55.1 631.1h0.7M59.5 620.2h0.7M66.6 625.3h0.7M60.8 636.1h0.7M58.3 620.3h0.7M53.7 630.3h0.7M39.3 647.1h0.7M51.6 635.5h0.7M68.7 618.2h0.7M64.9 614.4h0.7M53.4 627.9h0.7M43.1 644.0h0.7M51.2 625.9h0.7M56.1 633.9h0.7M59.2 625.5h0.7M47.7 645.6h0.7M66.5 614.2h0.7M45.4 638.8h0.7M52.1 660.3h0.7M55.0 629.5h0.7M62.3 630.0h0.7M61.9 636.4h0.7M66.0 632.3h0.7M53.5 631.1h0.7M44.7 654.0h0.7M54.4 615.0h0.7M42.3 648.1h0.7M53.0 650.0h0.7M65.3 607.6h0.7M48.5 639.5h0.7M60.2 621.3h0.7M70.8 599.5h0.7M33.7 669.0h0.7M51.2 640.0h0.7M59.4 631.9h0.7M40.4 639.5h0.7M64.2 624.5h0.7M58.0 619.2h0.7M71.4 617.2h0.7M65.3 622.0h0.7M66.2 615.9h0.7M37.8 658.8h0.7M42.9 653.4h0.7M57.6 632.0h0.7M49.9 652.5h0.7M50.5 641.5h0.7M62.6 611.4h0.7M45.8 632.0h0.7M41.6 645.2h0.7M53.4 631.5h0.7M64.5 624.0h0.7M62.4 619.8h0.7M76.7 600.3h0.7M62.8 611.8h0.7M39.7 640.6h0.7M58.9 650.6h0.7M57.3 615.7h0.7M57.7 630.2h0.7M65.0 607.6h0.7M47.1 636.0h0.7M49.0 647.6h0.7M58.8 650.4h0.7M40.4 641.1h0.7M50.1 645.7h0.7M42.4 642.0h0.7M53.5 628.4h0.7M61.1 635.1h0.7M44.0 639.7h0.7M51.6 628.3h0.7M41.0 629.4h0.7M51.8 636.4h0.7M65.7 624.4h0.7M66.2 620.9h0.7M62.2 611.1h0.7M63.6 626.0h0.7M52.8 631.7h0.7M42.6 657.6h0.7M69.9 622.1h0.7M69.4 615.7h0.7M64.4 629.5h0.7M57.5 622.4h0.7M58.1 611.2h0.7M64.9 613.4h0.7M39.5 641.4h0.7M47.9 648.0h0.7M59.6 619.2h0.7M68.7 609.7h0.7M44.0 652.4h0.7M59.2 628.9h0.7M68.5 612.8h0.7M42.2 646.8h0.7M38.2 639.2h0.7M65.3 631.0h0.7M52.5 608.7h0.7M35.5 652.6h0.7M59.0 623.3h0.7M56.2 624.1h0.7M43.3 634.3h0.7M35.3 640.9h0.7M74.2 614.3h0.7M48.7 625.6h0.7M52.9 636.8h0.7M46.9 631.4h0.7M51.2 637.8h0.7M61.4 623.8h0.7M55.9 645.3h0.7M49.9 653.1h0.7M46.0 654.2h0.7M58.1 626.0h0.7M54.6 643.8h0.7M55.2 647.0h0.7M42.5 643.4h0.7M44.7 647.8h0.7M38.7 630.1h0.7M40.7 652.2h0.7M57.3 636.7h0.7M57.7 625.5h0.7M45.3 642.2h0.7M52.4 620.9h0.7M43.7 633.1h0.7M64.5 638.8h0.7M60.6 623.6h0.7M44.2 638.3h0.7M47.1 632.8h0.7M51.5 628.7h0.7M59.0 619.9h0.7M43.1 640.2h0.7M46.0 623.4h0.7M56.0 621.5h0.7M52.0 641.0h0.7M62.7 632.5h0.7M47.3 645.2h0.7M54.4 630.3h0.7M66.9 617.1h0.7M62.1 621.8h0.7M53.1 631.7h0.7M39.2 656.1h0.7M55.7 641.1h0.7M43.3 655.4h0.7M36.6 651.1h0.7M62.7 638.4h0.7M46.8 636.2h0.7M52.7 638.5h0.7M53.7 635.1h0.7M42.7 651.8h0.7M36.5 627.7h0.7M56.6 634.2h0.7M64.7 617.9h0.7M62.5 629.6h0.7M71.6 612.2h0.7M53.2 621.6h0.7M53.6 633.9h0.7M57.2 620.4h0.7M46.4 643.3h0.7M52.3 644.4h0.7M44.7 634.4h0.7M55.4 601.4h0.7M59.8 633.4h0.7M40.1 637.2h0.7M45.4 650.6h0.7M42.6 631.6h0.7M42.3 639.4h0.7M67.3 613.8h0.7M67.5 629.0h0.7M56.4 631.8h0.7M33.4 661.5h0.7M67.4 630.9h0.7M48.6 650.3h0.7M53.4 637.7h0.7M53.5 645.4h0.7M60.9 627.6h0.7M56.3 632.1h0.7M60.4 624.7h0.7M62.3 618.7h0.7M56.7 614.7h0.7M39.7 645.6h0.7M75.1 610.4h0.7M57.6 631.5h0.7M56.9 622.7h0.7M44.0 634.3h0.7M49.9 641.3h0.7M54.2 610.8h0.7M47.9 634.0h0.7M65.8 632.2h0.7M54.5 646.0h0.7M54.1 637.7h0.7M49.7 625.6h0.7M45.9 616.2h0.7M50.0 630.6h0.7M51.6 619.9h0.7M48.7 632.1h0.7M72.6 611.6h0.7M52.8 629.3h0.7M57.0 638.3h0.7M71.7 607.4h0.7M72.4 609.6h0.7M50.3 630.1h0.7M58.9 635.5h0.7M48.9 638.3h0.7M50.3 638.2h0.7M40.9 660.5h0.7M57.2 633.9h0.7M52.6 645.4h0.7M49.0 624.4h0.7M46.3 648.7h0.7M62.1 616.5h0.7M57.5 632.6h0.7M56.6 630.2h0.7M42.3 660.1h0.7M33.9 650.7h0.7M66.5 622.0h0.7M49.9 612.0h0.7M44.4 633.8h0.7M60.1 626.1h0.7M50.0 645.8h0.7M64.6 642.4h0.7M61.9 624.3h0.7M61.8 625.5h0.7M88.3 597.1h0.7M45.0 639.6h0.7M79.8 603.2h0.7M75.2 609.6h0.7M65.9 613.3h0.7M64.7 596.0h0.7M35.9 628.9h0.7M48.7 645.3h0.7M74.1 609.3h0.7M50.2 637.7h0.7M57.6 623.0h0.7M49.1 638.9h0.7M53.4 617.1h0.7M65.0 629.8h0.7M59.4 631.6h0.7M75.0 618.5h0.7M65.9 626.3h0.7M62.2 611.4h0.7M55.2 625.6h0.7M49.9 632.1h0.7M51.9 628.3h0.7M69.1 637.1h0.7M44.2 631.7h0.7M67.0 611.2h0.7M56.7 632.7h0.7M58.1 620.1h0.7M44.9 640.4h0.7M70.7 617.4h0.7M52.2 630.9h0.7M63.9 622.1h0.7M54.2 638.2h0.7M56.9 623.7h0.7M62.8 634.6h0.7M44.1 641.8h0.7M45.1 644.8h0.7M56.2 636.5h0.7M47.7 624.3h0.7M59.8 627.3h0.7M41.7 647.1h0.7M61.9 613.6h0.7M62.8 613.7h0.7M45.9 646.7h0.7M56.5 621.0h0.7M52.4 636.5h0.7M52.4 621.3h0.7M60.7 615.2h0.7M64.4 628.2h0.7M47.7 644.3h0.7M62.3 615.5h0.7M68.1 627.6h0.7M38.7 645.0h0.7M62.4 634.6h0.7M61.7 618.0h0.7M59.5 626.1h0.7M58.4 627.4h0.7M39.8 645.4h0.7M72.2 635.3h0.7M55.2 640.7h0.7M64.0 617.7h0.7M75.9 616.1h0.7M42.0 640.3h0.7M56.2 641.7h0.7M55.7 639.1h0.7M54.6 619.6h0.7M44.9 651.1h0.7M55.7 629.6h0.7M62.0 619.0h0.7M57.0 640.9h0.7M43.4 654.4h0.7M51.4 626.9h0.7M41.2 627.4h0.7M57.9 632.5h0.7M64.0 628.2h0.7M68.2 633.9h0.7M61.0 621.2h0.7M56.9 626.8h0.7M50.4 649.1h0.7M65.9 608.5h0.7M49.1 636.3h0.7M49.3 618.6h0.7M62.7 614.6h0.7M43.4 630.0h0.7M59.6 634.1h0.7M50.7 648.3h0.7M49.2 632.2h0.7M57.4 614.7h0.7M53.0 625.4h0.7M69.3 598.4h0.7M76.4 614.4h0.7M53.9 641.8h0.7M34.3 663.8h0.7M69.8 614.0h0.7M61.9 630.2h0.7M50.6 635.3h0.7M40.5 641.5h0.7M39.1 653.4h0.7M44.5 631.5h0.7M72.7 626.9h0.7M41.8 664.0h0.7M53.0 637.0h0.7M52.8 627.5h0.7M54.3 653.1h0.7M59.8 627.9h0.7M58.4 633.4h0.7M47.1 627.5h0.7M49.3 654.5h0.7M53.1 616.9h0.7M60.8 636.6h0.7M38.8 654.6h0.7M35.0 639.0h0.7M73.5 599.5h0.7M60.5 624.2h0.7M65.1 615.5h0.7M49.6 624.9h0.7M50.1 615.3h0.7M45.8 652.6h0.7M44.5 638.8h0.7M49.0 634.4h0.7M47.2 645.2h0.7M65.9 595.6h0.7M39.2 652.7h0.7M65.1 621.1h0.7M43.9 641.9h0.7M54.0 627.0h0.7M42.9 624.6h0.7M51.3 643.2h0.7M56.4 621.1h0.7M38.4 643.4h0.7M44.4 648.5h0.7M57.2 636.2h0.7M77.0 623.0h0.7M54.8 642.2h0.7M55.1 613.9h0.7M55.1 615.7h0.7M37.5 657.8h0.7M46.9 648.8h0.7M57.5 626.6h0.7M77.0 618.8h0.7M56.9 645.3h0.7M37.9 647.6h0.7M49.5 622.7h0.7M65.1 614.7h0.7M43.2 639.2h0.7M56.6 642.6h0.7M46.2 644.2h0.7M65.8 613.7h0.7M65.3 614.1h0.7M38.8 626.8h0.7M69.5 606.2h0.7M57.6 645.7h0.7M60.5 625.7h0.7M58.1 623.0h0.7M53.7 620.8h0.7M62.2 628.3h0.7M46.9 637.9h0.7M43.8 641.4h0.7M61.9 621.1h0.7M58.8 645.6h0.7M55.3 649.5h0.7M58.5 631.1h0.7M44.2 638.9h0.7M56.8 628.2h0.7M55.2 619.6h0.7M39.7 648.1h0.7M45.7 655.5h0.7M60.5 614.9h0.7M60.4 621.0h0.7M75.1 616.9h0.7M53.3 633.7h0.7M67.0 600.8h0.7M68.1 619.2h0.7M71.5 599.9h0.7M36.1 635.3h0.7M49.1 650.9h0.7M59.1 636.1h0.7M58.8 622.4h0.7M47.3 622.5h0.7M36.1 646.4h0.7M42.0 635.8h0.7M59.4 598.4h0.7M60.4 636.1h0.7M58.9 626.0h0.7M38.2 650.1h0.7M41.3 637.2h0.7M65.1 618.6h0.7M57.5 630.3h0.7M36.6 626.0h0.7M48.3 641.7h0.7M65.8 618.6h0.7M57.8 642.2h0.7M61.9 612.6h0.7M67.4 628.8h0.7M58.6 622.7h0.7M60.3 638.7h0.7M60.0 633.5h0.7M56.3 628.8h0.7M48.8 631.5h0.7M52.8 629.2h0.7M54.2 621.5h0.7M50.1 643.4h0.7M62.5 617.8h0.7M61.2 613.3h0.7M48.0 632.9h0.7M49.1 630.2h0.7M65.2 602.9h0.7M82.1 605.8h0.7M53.0 637.8h0.7M50.9 633.9h0.7M47.4 631.2h0.7M61.7 616.2h0.7M45.2 641.1h0.7M59.6 620.3h0.7M49.1 625.2h0.7M53.5 638.1h0.7M58.6 619.8h0.7M64.2 620.1h0.7M51.8 650.7h0.7M48.5 633.0h0.7M71.5 625.7h0.7M60.7 623.5h0.7M36.6 636.3h0.7M53.9 624.0h0.7M79.4 599.2h0.7M45.3 630.3h0.7M45.2 646.4h0.7M51.4 626.3h0.7M63.9 627.7h0.7M59.4 614.9h0.7M51.1 645.6h0.7M57.7 640.3h0.7M66.1 617.5h0.7M59.1 636.8h0.7M45.3 630.3h0.7M70.2 625.6h0.7M44.9 640.6h0.7M54.9 638.1h0.7M55.9 645.2h0.7M58.7 630.0h0.7M65.4 615.7h0.7M44.8 640.1h0.7M70.4 615.2h0.7M44.9 653.2h0.7M36.9 642.0h0.7M46.6 648.7h0.7M63.3 608.5h0.7M55.9 639.0h0.7M55.8 633.1h0.7M68.7 611.5h0.7M40.3 644.0h0.7M65.4 617.5h0.7M61.9 620.0h0.7M46.8 645.6h0.7M50.1 646.6h0.7M46.8 640.9h0.7M64.2 631.8h0.7M48.7 641.7h0.7M59.3 623.9h0.7M62.0 602.4h0.7M56.9 620.9h0.7M49.8 637.7h0.7M46.4 644.0h0.7M41.7 646.3h0.7M49.3 632.1h0.7M59.8 629.1h0.7M68.7 623.0h0.7M56.6 635.1h0.7M62.3 620.8h0.7M55.5 624.9h0.7M42.1 662.8h0.7M51.8 625.3h0.7M53.9 618.5h0.7M53.7 632.5h0.7M54.2 637.7h0.7M52.2 642.3h0.7M57.8 634.5h0.7M65.5 635.4h0.7M58.5 624.0h0.7M61.9 625.8h0.7M47.0 633.3h0.7M44.7 625.6h0.7M46.1 648.7h0.7M51.0 646.8h0.7M52.2 641.6h0.7M68.0 623.7h0.7M68.2 626.8h0.7M46.1 631.0h0.7M58.3 623.3h0.7M58.1 620.2h0.7M53.8 617.5h0.7M48.1 643.4h0.7M57.3 619.5h0.7M53.8 618.7h0.7M58.9 640.7h0.7M66.1 613.8h0.7M51.5 636.9h0.7M47.4 632.3h0.7M61.5 617.7h0.7M60.1 623.0h0.7M76.2 624.5h0.7M46.9 645.0h0.7M57.5 638.3h0.7M65.9 625.2h0.7M57.1 626.8h0.7M60.7 631.9h0.7M48.2 628.6h0.7M55.4 620.0h0.7M64.0 636.4h0.7M53.1 636.4h0.7M60.6 609.8h0.7M63.7 627.3h0.7M58.4 629.2h0.7M60.3 637.0h0.7M59.8 624.2h0.7M69.8 624.4h0.7M47.5 640.3h0.7M64.5 627.6h0.7M70.1 608.2h0.7M47.9 622.3h0.7M52.2 641.6h0.7M60.2 638.8h0.7M55.8 625.0h0.7M54.1 625.6h0.7M61.2 617.9h0.7M47.9 629.2h0.7M43.4 634.4h0.7M50.6 630.0h0.7M82.0 614.0h0.7M56.5 633.7h0.7M71.6 609.6h0.7M85.5 600.1h0.7M60.7 626.8h0.7M62.9 625.4h0.7M61.7 641.5h0.7M64.5 633.4h0.7M45.1 646.4h0.7M49.8 628.3h0.7M43.1 645.9h0.7M60.1 626.9h0.7M50.0 640.5h0.7M64.9 619.9h0.7M64.1 620.1h0.7M69.6 608.0h0.7M62.8 637.4h0.7M42.7 646.9h0.7M52.8 632.0h0.7M51.3 639.2h0.7M49.5 637.0h0.7M44.8 626.8h0.7M44.8 635.2h0.7M50.0 644.9h0.7M42.9 636.7h0.7M58.8 624.0h0.7M63.4 630.5h0.7M60.1 607.7h0.7M55.7 630.4h0.7M62.1 622.3h0.7M56.9 634.1h0.7M55.7 635.9h0.7M63.5 621.8h0.7M55.8 637.4h0.7M36.1 644.1h0.7M55.6 620.8h0.7M44.4 632.1h0.7M49.8 623.5h0.7M56.1 630.3h0.7M51.4 636.5h0.7M50.2 622.4h0.7M67.8 610.1h0.7M79.5 623.1h0.7M51.0 635.2h0.7M60.9 617.4h0.7M57.9 632.2h0.7M40.0 634.1h0.7M58.3 611.6h0.7M58.8 631.6h0.7M60.5 623.0h0.7M55.1 631.7h0.7M55.4 640.8h0.7M61.1 637.5h0.7M56.5 619.7h0.7M59.2 645.6h0.7M57.9 624.2h0.7M63.0 634.0h0.7M32.0 649.0h0.7M51.7 631.1h0.7M53.3 629.6h0.7M48.1 647.7h0.7M50.8 650.7h0.7M59.6 644.8h0.7M56.0 638.1h0.7M47.2 645.5h0.7M60.2 632.8h0.7M68.3 602.1h0.7M66.6 616.8h0.7M59.2 616.2h0.7M51.4 645.1h0.7M81.3 594.2h0.7M61.0 624.5h0.7M67.7 622.6h0.7M42.2 639.2h0.7M70.2 635.4h0.7M57.1 630.3h0.7M60.0 619.9h0.7M58.3 625.4h0.7M64.2 630.0h0.7M53.9 643.1h0.7M41.3 644.6h0.7M61.4 614.3h0.7M54.0 639.4h0.7M46.8 632.1h0.7M51.3 617.8h0.7M49.4 643.1h0.7M53.2 650.5h0.7M56.5 633.0h0.7M59.7 641.4h0.7M59.0 628.4h0.7M60.5 616.6h0.7M43.6 645.4h0.7M43.4 632.7h0.7M58.3 632.0h0.7M60.4 639.9h0.7M55.3 607.0h0.7M43.5 652.8h0.7M58.1 633.3h0.7M59.3 610.5h0.7M43.5 626.5h0.7M57.5 630.4h0.7M62.0 628.8h0.7M64.4 609.6h0.7M54.1 635.1h0.7M47.4 640.7h0.7M45.7 646.4h0.7M49.0 634.8h0.7M60.3 614.2h0.7M58.6 633.8h0.7M53.7 633.9h0.7M62.8 625.6h0.7M47.4 641.8h0.7M57.3 606.8h0.7M67.3 623.1h0.7M71.5 614.8h0.7M47.7 638.4h0.7M40.9 645.0h0.7M53.5 629.4h0.7M45.1 637.8h0.7M61.9 624.6h0.7M77.1 626.4h0.7M59.4 625.7h0.7M48.8 639.5h0.7M63.7 626.0h0.7M55.3 631.7h0.7M52.9 621.1h0.7M45.6 631.7h0.7M44.1 645.6h0.7M42.0 651.6h0.7M51.4 614.4h0.7M60.2 631.8h0.7M63.9 616.8h0.7M52.1 625.8h0.7M73.5 621.6h0.7M56.5 629.4h0.7M55.8 648.8h0.7M57.8 632.3h0.7M50.9 639.7h0.7M53.1 634.4h0.7M68.7 610.0h0.7M64.6 602.1h0.7M67.4 620.0h0.7M58.3 636.7h0.7M59.6 624.9h0.7M58.0 623.4h0.7M59.2 629.0h0.7M50.5 643.8h0.7M62.5 621.4h0.7M51.1 628.0h0.7M67.4 628.5h0.7M59.8 633.8h0.7M53.6 629.4h0.7M51.6 618.2h0.7M53.5 637.3h0.7M55.7 619.6h0.7M44.3 640.9h0.7M62.1 622.0h0.7M50.0 631.2h0.7M57.4 623.3h0.7M58.9 644.8h0.7M56.6 632.1h0.7M63.5 626.6h0.7M59.0 620.6h0.7M45.3 636.4h0.7M56.8 636.6h0.7M58.1 626.9h0.7M45.7 639.5h0.7M59.8 632.5h0.7M39.9 651.0h0.7M56.2 628.4h0.7M79.6 620.4h0.7M59.1 609.5h0.7M43.0 639.2h0.7M54.9 643.6h0.7M45.9 625.5h0.7M58.6 625.2h0.7M66.2 620.7h0.7M59.9 606.0h0.7M63.4 627.0h0.7M63.0 615.4h0.7M55.3 618.2h0.7M64.1 627.3h0.7M66.4 610.2h0.7M55.4 623.9h0.7M54.7 623.7h0.7M58.5 628.1h0.7M54.2 638.6h0.7M48.7 630.5h0.7M53.9 634.6h0.7M52.5 629.6h0.7M51.1 615.5h0.7M46.1 648.4h0.7M69.1 628.1h0.7M70.4 608.2h0.7M44.7 637.0h0.7M37.4 657.3h0.7M48.2 642.7h0.7M54.9 622.7h0.7M48.7 618.1h0.7M58.2 630.3h0.7M66.1 614.6h0.7M79.4 637.2h0.7M60.0 624.5h0.7M55.9 637.6h0.7M73.6 625.0h0.7M49.3 619.3h0.7M62.7 629.4h0.7M72.5 622.1h0.7M54.7 618.6h0.7M67.6 627.8h0.7M58.3 627.8h0.7M61.9 646.8h0.7M49.1 646.7h0.7M50.9 606.9h0.7M66.8 621.6h0.7M47.1 631.9h0.7M58.9 620.9h0.7M51.8 623.2h0.7M73.7 601.5h0.7M54.7 626.4h0.7M63.5 642.9h0.7M63.7 626.1h0.7M65.5 612.7h0.7M72.3 613.7h0.7M73.3 620.8h0.7M64.7 618.8h0.7M65.3 619.2h0.7M58.9 619.7h0.7M56.8 623.7h0.7M72.2 610.4h0.7M69.0 613.3h0.7M53.7 607.2h0.7M60.6 647.0h0.7M60.8 630.1h0.7M53.5 637.7h0.7M44.5 632.2h0.7M59.0 612.0h0.7M78.3 603.0h0.7M58.3 627.0h0.7M48.5 657.2h0.7M62.2 621.7h0.7M43.7 660.4h0.7M57.8 612.6h0.7M43.3 618.3h0.7M55.0 611.2h0.7M62.4 610.4h0.7M53.5 652.1h0.7M48.8 638.6h0.7M54.1 628.8h0.7M53.4 628.7h0.7M63.8 617.4h0.7M67.0 642.0h0.7M66.9 621.4h0.7M44.4 638.8h0.7M59.8 616.2h0.7M69.1 621.4h0.7M57.0 634.7h0.7M65.4 605.2h0.7M49.8 630.4h0.7M59.6 625.6h0.7M55.4 621.4h0.7M61.2 635.8h0.7M60.2 626.3h0.7M50.8 647.0h0.7M53.9 633.1h0.7M61.5 623.5h0.7M61.5 625.5h0.7M58.3 621.8h0.7M53.2 618.2h0.7M61.9 638.7h0.7M51.3 628.4h0.7M54.6 628.7h0.7M46.6 654.6h0.7M56.3 620.7h0.7M48.2 638.4h0.7M56.2 642.7h0.7M55.5 628.4h0.7M55.4 622.6h0.7M64.5 605.6h0.7M48.4 631.6h0.7M43.8 648.3h0.7M60.9 614.4h0.7M52.9 613.4h0.7M46.1 636.9h0.7M49.6 627.6h0.7M53.0 626.0h0.7M65.1 608.3h0.7M56.2 633.8h0.7M45.2 635.5h0.7M67.7 614.1h0.7M44.8 655.0h0.7M64.3 627.5h0.7M42.7 656.3h0.7M38.1 654.9h0.7M52.5 634.9h0.7M70.9 616.4h0.7M39.1 657.4h0.7M67.0 628.6h0.7M54.8 635.8h0.7M59.4 631.6h0.7M78.5 597.0h0.7M59.9 629.2h0.7M52.4 651.1h0.7M44.0 624.4h0.7M59.5 626.5h0.7M46.6 637.7h0.7M49.4 632.4h0.7M37.7 653.3h0.7M65.4 630.3h0.7M48.5 643.6h0.7M50.7 635.3h0.7M49.1 651.1h0.7M77.1 605.8h0.7M53.5 636.0h0.7M47.6 629.7h0.7M47.1 634.6h0.7M45.3 638.4h0.7M55.2 633.3h0.7M52.5 629.4h0.7M51.5 648.3h0.7M69.6 602.5h0.7M49.9 632.5h0.7M67.0 637.9h0.7M57.9 628.3h0.7M62.7 628.0h0.7M48.4 629.2h0.7M57.0 633.3h0.7M60.9 626.6h0.7M65.4 617.0h0.7M62.5 627.6h0.7M42.4 643.6h0.7M54.8 624.6h0.7M69.3 625.3h0.7M67.2 634.9h0.7M65.7 626.8h0.7M56.0 621.7h0.7M51.8 636.9h0.7M74.1 619.7h0.7M60.5 621.4h0.7M71.9 623.2h0.7M50.4 626.4h0.7M70.7 615.2h0.7M44.4 627.7h0.7M44.9 648.2h0.7M56.5 627.2h0.7M43.7 638.8h0.7M53.8 612.9h0.7M52.1 641.6h0.7M55.5 610.3h0.7M63.7 635.0h0.7M49.4 629.7h0.7M55.7 617.8h0.7M73.5 606.9h0.7M54.9 645.3h0.7M49.8 628.3h0.7M68.6 607.3h0.7M56.8 630.2h0.7M69.6 616.8h0.7M55.6 631.6h0.7M46.6 624.6h0.7M36.4 633.5h0.7M55.0 640.9h0.7M47.4 636.3h0.7M50.2 626.6h0.7M58.0 645.8h0.7M51.6 633.8h0.7M44.9 649.0h0.7M64.4 625.8h0.7M55.0 644.0h0.7M52.5 630.4h0.7M71.9 591.3h0.7M53.8 650.9h0.7M47.1 626.4h0.7M63.9 623.3h0.7M57.0 612.9h0.7M73.0 614.8h0.7M66.0 628.5h0.7M56.1 644.3h0.7M61.2 637.9h0.7M62.2 620.2h0.7M46.7 639.5h0.7M66.4 609.4h0.7M52.8 638.3h0.7M58.7 633.6h0.7M44.3 653.0h0.7M70.1 616.8h0.7M41.1 654.8h0.7M73.5 621.4h0.7M55.4 626.3h0.7M57.4 621.4h0.7M68.9 627.3h0.7M53.9 617.8h0.7M52.3 631.6h0.7M41.3 638.8h0.7M42.7 632.6h0.7M49.5 632.7h0.7M42.2 630.8h0.7M38.4 653.9h0.7M45.6 660.3h0.7M66.4 603.0h0.7M40.0 655.6h0.7M48.2 636.1h0.7M67.4 604.4h0.7M56.9 622.9h0.7M43.7 641.7h0.7M66.4 620.2h0.7M43.5 633.6h0.7M63.4 631.0h0.7M55.0 636.8h0.7M55.9 631.1h0.7M45.5 627.8h0.7M55.1 614.7h0.7M42.0 651.2h0.7M61.6 612.7h0.7M54.4 641.0h0.7M64.7 618.5h0.7M60.4 621.3h0.7M54.5 631.1h0.7M40.7 635.1h0.7M53.2 618.6h0.7M54.5 638.5h0.7M57.8 636.8h0.7M57.8 619.1h0.7M53.5 637.5h0.7M62.8 627.6h0.7M44.8 630.2h0.7M52.7 641.1h0.7M86.7 604.9h0.7M37.4 639.4h0.7M50.2 633.6h0.7M76.5 605.3h0.7M49.2 636.2h0.7M58.1 632.6h0.7M61.7 635.9h0.7M55.5 621.4h0.7M55.9 632.8h0.7M63.1 624.7h0.7M53.9 634.1h0.7M68.0 611.4h0.7M55.9 632.0h0.7M57.9 638.0h0.7M44.3 639.0h0.7M51.0 636.9h0.7M59.0 640.3h0.7M45.2 631.5h0.7M56.1 637.4h0.7M54.3 636.5h0.7M59.9 628.4h0.7M57.7 632.8h0.7M57.3 624.5h0.7M54.5 625.3h0.7M49.0 627.4h0.7M52.1 619.3h0.7M54.0 630.1h0.7M50.5 638.6h0.7M64.4 620.8h0.7M67.7 610.9h0.7M73.9 613.2h0.7M56.3 635.1h0.7M60.8 615.1h0.7M57.7 632.4h0.7M52.1 628.0h0.7M62.9 619.6h0.7M51.9 635.4h0.7M55.7 627.6h0.7M43.5 630.2h0.7M43.3 633.2h0.7M62.3 609.3h0.7M68.1 604.4h0.7M56.1 635.7h0.7M46.4 635.9h0.7M51.5 653.4h0.7M63.0 607.3h0.7M54.6 621.8h0.7M63.1 620.7h0.7M37.8 644.6h0.7M66.5 628.7h0.7M59.5 629.7h0.7M56.8 632.5h0.7M61.4 623.7h0.7M43.4 642.6h0.7M67.1 628.4h0.7M54.7 622.0h0.7M53.8 631.3h0.7M58.8 645.3h0.7M60.6 623.6h0.7M60.6 625.3h0.7M53.1 632.8h0.7M51.1 628.1h0.7M60.0 640.0h0.7M63.8 632.3h0.7M41.4 665.7h0.7M56.6 638.1h0.7M44.9 650.3h0.7M61.4 611.9h0.7M51.4 627.0h0.7M57.0 638.4h0.7M66.9 624.8h0.7M58.8 625.8h0.7M55.4 636.1h0.7M73.1 620.6h0.7M59.6 627.5h0.7M49.9 639.3h0.7M58.8 626.2h0.7M50.7 622.4h0.7M49.1 636.3h0.7M39.9 650.7h0.7M37.9 651.7h0.7M51.4 635.5h0.7M44.3 648.4h0.7M59.4 617.5h0.7M55.9 630.2h0.7M61.4 613.1h0.7M54.0 639.8h0.7M50.8 638.8h0.7M57.8 651.6h0.7M53.0 632.0h0.7M52.0 624.2h0.7M48.3 648.1h0.7M43.3 647.6h0.7M57.6 632.9h0.7M59.9 631.7h0.7M39.8 638.0h0.7M63.4 620.3h0.7M44.8 650.3h0.7M59.7 622.2h0.7M57.8 613.3h0.7M57.7 632.6h0.7M54.2 637.6h0.7M65.3 619.8h0.7M40.3 649.9h0.7M57.6 632.7h0.7M34.4 651.3h0.7M67.3 624.8h0.7M62.7 631.5h0.7M55.9 654.0h0.7M57.7 617.3h0.7M53.8 634.1h0.7M73.8 610.1h0.7M45.9 644.7h0.7M61.9 624.0h0.7M48.6 650.6h0.7M57.8 619.0h0.7M48.9 655.1h0.7M48.3 642.6h0.7M75.0 602.8h0.7M60.5 631.7h0.7M79.6 599.0h0.7M51.1 636.0h0.7M41.4 644.3h0.7M60.2 632.8h0.7M60.9 643.6h0.7M63.2 644.3h0.7" stroke="#000" stroke-opacity="0.35" stroke-width="0.7"/>
<path d="M52.8 640.9h0.7M52.6 641.9h0.7M46.1 639.8h0.7M58.3 629.9h0.7M57.7 631.8h0.7M54.3 640.7h0.7M53.3 632.5h0.7M47.9 644.3h0.7M53.8 642.1h0.7M58.6 641.3h0.7M45.5 636.3h0.7M57.8 637.3h0.7M54.4 634.3h0.7M53.5 640.4h0.7M54.6 638.6h0.7M49.9 637.0h0.7M59.6 635.5h0.7M46.3 637.0h0.7M57.9 626.9h0.7M54.7 626.3h0.7M58.4 642.0h0.7M56.5 640.3h0.7M47.9 633.4h0.7M56.1 637.6h0.7M54.8 647.7h0.7M41.3 644.9h0.7M56.1 633.0h0.7M52.4 638.4h0.7M48.5 634.9h0.7M60.2 639.1h0.7M62.3 635.3h0.7M55.6 642.4h0.7M56.8 639.7h0.7M51.2 647.1h0.7M56.2 633.4h0.7M50.9 631.2h0.7M51.9 635.1h0.7M49.7 643.0h0.7M47.2 642.8h0.7M53.0 630.7h0.7M50.0 635.9h0.7M54.0 639.4h0.7M52.3 633.3h0.7M58.2 624.0h0.7M52.0 645.4h0.7M48.1 644.5h0.7M44.9 641.0h0.7M49.8 637.9h0.7M52.3 636.0h0.7M49.3 643.3h0.7M51.6 640.0h0.7M51.1 635.5h0.7M48.7 638.5h0.7M48.9 632.6h0.7M43.4 657.0h0.7M64.8 635.4h0.7M57.7 629.2h0.7M43.6 647.4h0.7M52.0 645.0h0.7M59.0 630.2h0.7M43.4 639.0h0.7M57.0 633.0h0.7M50.7 642.2h0.7M61.2 630.7h0.7M44.5 642.1h0.7M51.5 638.9h0.7M55.8 635.4h0.7M45.1 651.3h0.7M50.4 626.5h0.7M52.5 638.2h0.7M55.7 628.8h0.7M59.9 639.6h0.7M50.7 639.4h0.7M48.7 646.5h0.7M59.5 628.6h0.7M53.6 649.0h0.7M54.5 638.7h0.7M49.1 641.9h0.7M53.2 635.6h0.7M57.8 637.9h0.7M51.6 641.7h0.7M49.6 635.9h0.7M52.7 643.0h0.7M57.4 629.0h0.7M48.9 645.8h0.7M52.0 646.5h0.7M50.6 646.4h0.7M56.8 624.2h0.7M54.2 627.8h0.7M51.1 637.5h0.7M56.4 639.0h0.7M46.0 642.2h0.7M48.0 643.8h0.7M52.7 632.5h0.7M57.7 637.8h0.7M55.1 634.8h0.7M55.5 646.7h0.7M59.1 638.0h0.7M41.6 643.6h0.7M49.9 644.9h0.7M52.8 637.0h0.7M51.5 644.5h0.7M56.4 633.6h0.7M59.3 641.8h0.7M48.2 639.0h0.7M53.2 643.3h0.7M52.3 634.3h0.7M55.7 636.7h0.7M50.4 630.3h0.7M61.6 634.0h0.7M66.9 623.9h0.7M47.6 643.7h0.7M51.4 637.3h0.7M54.5 628.5h0.7M49.5 642.3h0.7M53.1 629.9h0.7M54.2 629.7h0.7M56.8 634.6h0.7M47.0 644.0h0.7M47.4 637.6h0.7M51.0 643.0h0.7M48.4 638.0h0.7M55.3 633.3h0.7M48.9 632.8h0.7M44.4 645.8h0.7M52.8 629.2h0.7M57.9 634.6h0.7M48.9 639.2h0.7M51.4 641.1h0.7M51.3 648.1h0.7M55.3 636.4h0.7M50.8 642.0h0.7M54.6 636.3h0.7M53.1 636.4h0.7M52.0 638.9h0.7M51.3 643.3h0.7M50.0 649.9h0.7M49.9 644.8h0.7M56.7 631.3h0.7M56.2 638.5h0.7M48.6 632.7h0.7M55.0 639.6h0.7M48.0 643.4h0.7M47.4 641.3h0.7M54.4 646.2h0.7M58.4 637.3h0.7M51.7 632.2h0.7M50.1 640.4h0.7M59.0 630.7h0.7M59.3 629.3h0.7M49.3 642.5h0.7M50.1 634.1h0.7M54.7 631.9h0.7M54.5 633.5h0.7M57.1 634.1h0.7M48.4 643.1h0.7M59.6 621.1h0.7M46.1 638.7h0.7M47.1 648.3h0.7M56.2 636.6h0.7M51.3 641.1h0.7M53.3 642.0h0.7M53.8 646.5h0.7M49.8 643.0h0.7M58.3 633.2h0.7M43.7 641.1h0.7M48.6 643.6h0.7M51.8 644.0h0.7M52.7 634.5h0.7M55.1 629.2h0.7M51.4 635.5h0.7M45.6 640.9h0.7M53.1 633.6h0.7M59.4 637.0h0.7M48.5 643.5h0.7M51.5 635.6h0.7M53.7 637.3h0.7M56.1 629.9h0.7M51.7 631.1h0.7M56.2 629.9h0.7M54.5 633.0h0.7M49.5 627.2h0.7M51.5 644.7h0.7M57.7 628.4h0.7M53.4 641.2h0.7M54.3 631.3h0.7M60.0 626.6h0.7M50.9 629.4h0.7M51.1 647.4h0.7M55.5 637.1h0.7M53.4 641.1h0.7M55.1 640.0h0.7M47.2 643.8h0.7M50.2 634.9h0.7M53.3 633.8h0.7M58.2 635.1h0.7M50.2 639.7h0.7M54.0 631.1h0.7M52.6 639.0h0.7M57.2 638.3h0.7M53.4 631.3h0.7M53.0 630.5h0.7M62.0 635.6h0.7M57.9 639.0h0.7M49.9 643.0h0.7M55.9 630.3h0.7M48.1 632.8h0.7M56.5 638.0h0.7M50.7 646.8h0.7M57.9 639.8h0.7M53.4 634.5h0.7M50.0 641.3h0.7M56.5 635.9h0.7M57.5 634.8h0.7M50.4 631.5h0.7M57.8 638.2h0.7M52.9 636.9h0.7M53.7 644.7h0.7M48.8 637.9h0.7M52.0 630.7h0.7M46.6 634.0h0.7M48.5 641.3h0.7M47.4 636.0h0.7M56.1 639.3h0.7M57.1 638.3h0.7M47.0 640.5h0.7M50.1 636.0h0.7M45.8 639.8h0.7M58.2 642.2h0.7M54.0 645.1h0.7M46.2 644.6h0.7M52.3 634.4h0.7M48.6 640.5h0.7M49.2 646.5h0.7M54.0 639.5h0.7M53.2 637.0h0.7M53.5 634.3h0.7M57.6 633.2h0.7M54.2 633.4h0.7M53.2 635.9h0.7M39.5 645.7h0.7M52.1 644.1h0.7M55.7 641.8h0.7M60.7 629.1h0.7M53.0 642.9h0.7M50.0 632.4h0.7M56.1 637.5h0.7M56.5 629.7h0.7M50.5 641.6h0.7M52.5 636.3h0.7M52.7 637.4h0.7M50.6 621.8h0.7M56.2 638.3h0.7M46.7 641.7h0.7M47.8 646.8h0.7M53.6 635.0h0.7M45.8 636.2h0.7M57.0 634.0h0.7M56.1 633.5h0.7M52.3 641.1h0.7M58.6 632.0h0.7M49.4 635.9h0.7M53.1 635.4h0.7M43.4 636.7h0.7M62.8 637.5h0.7M61.2 632.8h0.7M50.2 646.4h0.7M58.0 631.1h0.7M58.6 639.5h0.7M57.3 632.1h0.7M47.4 644.0h0.7M54.2 634.6h0.7M55.5 629.3h0.7M58.1 629.3h0.7M50.5 635.2h0.7M57.8 631.7h0.7M58.9 626.9h0.7M51.5 636.6h0.7M54.9 645.4h0.7M56.6 624.1h0.7M49.2 642.3h0.7M56.4 635.0h0.7M59.2 630.5h0.7M58.1 633.2h0.7M49.8 631.7h0.7M55.9 635.8h0.7M51.4 634.9h0.7M52.5 640.6h0.7M54.6 625.1h0.7M54.5 643.7h0.7M51.8 646.7h0.7M52.1 639.2h0.7M47.6 644.8h0.7M42.4 653.2h0.7M62.0 631.0h0.7M42.4 653.1h0.7M56.5 634.4h0.7M49.6 633.8h0.7M56.8 627.0h0.7M48.0 644.0h0.7M49.4 643.0h0.7M53.7 639.9h0.7M58.8 629.5h0.7M46.5 644.9h0.7M55.0 633.6h0.7M51.5 642.6h0.7M52.3 641.7h0.7M51.1 641.8h0.7M47.4 644.5h0.7M47.4 640.1h0.7M49.5 632.5h0.7M43.8 642.3h0.7M50.5 637.0h0.7M52.9 630.8h0.7M51.6 636.3h0.7M50.3 636.6h0.7M48.5 641.6h0.7M52.0 625.2h0.7M52.0 628.8h0.7M51.4 632.6h0.7M59.7 626.9h0.7M47.9 646.6h0.7M56.0 638.0h0.7M50.2 645.0h0.7M45.8 642.5h0.7M56.6 626.8h0.7M47.4 644.8h0.7M49.0 641.7h0.7M47.0 640.2h0.7M56.2 634.2h0.7M54.3 634.6h0.7M64.6 631.6h0.7M50.4 632.9h0.7M53.1 640.5h0.7M56.2 638.3h0.7M54.1 642.4h0.7M58.6 642.5h0.7M49.0 639.8h0.7M52.8 640.4h0.7M51.1 629.5h0.7M46.6 639.3h0.7M49.4 648.8h0.7M53.9 634.1h0.7M50.6 635.2h0.7M49.8 637.2h0.7M53.0 641.4h0.7M44.3 646.5h0.7M46.7 640.4h0.7M57.0 632.4h0.7M52.5 636.6h0.7M56.5 641.4h0.7M59.5 630.6h0.7M53.7 634.0h0.7M53.1 635.5h0.7M58.6 634.1h0.7M55.7 631.7h0.7M54.2 638.1h0.7M50.9 636.6h0.7M54.0 647.2h0.7M49.7 637.7h0.7M47.6 636.5h0.7M53.0 627.7h0.7M57.0 629.0h0.7M56.8 635.7h0.7M42.3 651.5h0.7M50.8 642.1h0.7M41.5 649.5h0.7M53.9 639.7h0.7M51.3 645.4h0.7M52.8 644.0h0.7M48.6 645.7h0.7M49.0 637.7h0.7M48.1 648.0h0.7M48.7 641.8h0.7M50.0 636.2h0.7M59.1 627.4h0.7M56.9 636.0h0.7M52.3 638.2h0.7M63.6 627.9h0.7M52.3 638.2h0.7M49.1 641.0h0.7M52.5 637.2h0.7M48.1 640.1h0.7M50.7 643.3h0.7M51.5 630.2h0.7M48.3 640.4h0.7M49.3 636.0h0.7M48.0 633.6h0.7M61.1 630.9h0.7M54.0 640.7h0.7M58.1 641.4h0.7M43.9 644.8h0.7M51.7 634.2h0.7M52.9 644.5h0.7M47.9 635.9h0.7M52.5 636.7h0.7M55.7 630.3h0.7M52.1 635.7h0.7M47.3 635.5h0.7M54.6 639.4h0.7M52.3 631.9h0.7M49.0 638.7h0.7M66.7 638.0h0.7M45.6 646.2h0.7M44.4 639.4h0.7M54.2 635.9h0.7M54.2 637.9h0.7M50.2 640.8h0.7M61.0 634.9h0.7M55.0 637.0h0.7M55.4 638.5h0.7M56.6 638.8h0.7M53.5 638.1h0.7M45.8 645.9h0.7M44.3 653.7h0.7M46.9 645.2h0.7M49.1 637.8h0.7M52.8 639.0h0.7M58.1 632.2h0.7M48.3 634.9h0.7M49.0 630.1h0.7M56.0 636.0h0.7M53.7 629.8h0.7M50.2 638.0h0.7M51.0 637.0h0.7M53.3 637.6h0.7M57.2 627.3h0.7M47.6 644.4h0.7M50.8 638.6h0.7M52.5 635.5h0.7M51.7 649.9h0.7M57.7 629.8h0.7M55.8 629.1h0.7M56.1 643.7h0.7M53.0 633.7h0.7M59.5 628.2h0.7M58.6 640.5h0.7M50.0 640.4h0.7M54.3 641.1h0.7M52.8 626.6h0.7M48.8 643.2h0.7M46.8 637.0h0.7M51.8 635.1h0.7M45.5 640.1h0.7M46.1 635.6h0.7M58.6 632.7h0.7M53.9 634.1h0.7M49.7 637.3h0.7M52.6 637.6h0.7M52.9 642.4h0.7M52.5 636.7h0.7M60.6 634.2h0.7M48.3 633.8h0.7M53.7 643.2h0.7M47.2 641.1h0.7M48.4 644.4h0.7M52.3 642.3h0.7M52.9 639.9h0.7M51.7 639.6h0.7M55.1 636.9h0.7M55.9 635.8h0.7M51.1 639.9h0.7M49.4 648.5h0.7M53.6 643.1h0.7M54.2 640.2h0.7M46.6 640.6h0.7M56.9 624.1h0.7M50.4 633.7h0.7M54.7 636.3h0.7M54.2 637.5h0.7M47.8 651.3h0.7M48.5 641.1h0.7M56.6 643.6h0.7M51.8 637.1h0.7M54.3 632.6h0.7M63.7 626.0h0.7M54.5 628.5h0.7M51.0 641.2h0.7M50.6 641.8h0.7M52.6 640.8h0.7M55.9 639.5h0.7M54.0 629.6h0.7M47.8 639.7h0.7M54.6 646.7h0.7M52.2 634.7h0.7M48.6 640.6h0.7M50.4 620.9h0.7M48.8 641.7h0.7M39.9 638.9h0.7M48.7 638.3h0.7M56.4 639.0h0.7M56.2 641.2h0.7M51.4 641.5h0.7M60.5 640.6h0.7M44.8 633.0h0.7M48.5 642.1h0.7M60.0 645.2h0.7M51.5 644.3h0.7M55.8 632.9h0.7M50.0 637.4h0.7M53.7 637.1h0.7M59.3 636.4h0.7M48.3 636.2h0.7M47.8 650.8h0.7M52.6 636.2h0.7M50.3 638.5h0.7M46.8 640.5h0.7M47.9 633.0h0.7M54.0 631.8h0.7M60.1 631.2h0.7M57.1 642.5h0.7M50.7 629.5h0.7M54.8 642.5h0.7M58.9 632.7h0.7M46.4 637.3h0.7M52.1 639.8h0.7M56.5 627.5h0.7M44.5 640.5h0.7M43.7 645.2h0.7M56.1 635.8h0.7M53.5 643.9h0.7M58.4 627.7h0.7M48.9 639.9h0.7M56.0 630.3h0.7M52.3 631.8h0.7M52.0 636.6h0.7M55.4 640.0h0.7M47.1 643.6h0.7M50.4 641.4h0.7M49.0 637.0h0.7M52.8 635.4h0.7M52.2 639.3h0.7M50.9 638.9h0.7M46.9 647.0h0.7M52.9 634.7h0.7M50.4 644.2h0.7M53.1 640.6h0.7M51.9 646.3h0.7M51.7 636.7h0.7M56.0 638.3h0.7M54.7 635.8h0.7M53.9 642.0h0.7M48.9 638.9h0.7M52.5 638.7h0.7M40.8 637.7h0.7M51.2 653.9h0.7M50.4 640.0h0.7M57.3 626.7h0.7M51.0 634.1h0.7M59.1 640.7h0.7M53.0 635.7h0.7M62.5 626.9h0.7M61.3 633.2h0.7M57.7 628.8h0.7M53.5 631.5h0.7M54.8 633.6h0.7M51.0 641.4h0.7M50.5 641.9h0.7M46.7 646.0h0.7M52.5 629.8h0.7M56.9 630.0h0.7M53.0 638.8h0.7M52.0 634.0h0.7M58.1 638.2h0.7M56.1 629.0h0.7M56.1 631.9h0.7M46.0 635.2h0.7M54.3 646.6h0.7M58.9 626.0h0.7M53.1 641.0h0.7M40.2 645.0h0.7M53.7 632.6h0.7M58.4 634.7h0.7M51.1 632.9h0.7M43.4 648.5h0.7M55.1 633.2h0.7M50.3 642.7h0.7M50.1 639.3h0.7M48.6 639.0h0.7M52.6 641.3h0.7M57.3 631.4h0.7M58.6 637.0h0.7M62.5 631.9h0.7M53.8 637.4h0.7M51.0 642.2h0.7M51.7 627.4h0.7M53.1 639.5h0.7M41.1 644.6h0.7M51.9 645.1h0.7M50.9 635.5h0.7M51.4 625.0h0.7M56.9 634.3h0.7M51.1 641.5h0.7M52.7 631.2h0.7M60.7 637.7h0.7M46.4 637.8h0.7M51.2 640.6h0.7M62.4 622.6h0.7M52.1 626.1h0.7M56.7 634.2h0.7M47.6 651.7h0.7M53.2 632.8h0.7M60.2 633.1h0.7M59.7 640.3h0.7M48.1 641.4h0.7M42.8 648.0h0.7M63.5 630.1h0.7M46.7 635.6h0.7M53.3 634.0h0.7M57.4 639.5h0.7M48.4 635.8h0.7M50.9 635.6h0.7M54.2 641.2h0.7M54.5 641.9h0.7M48.2 645.0h0.7M54.9 640.6h0.7M58.0 635.4h0.7M52.7 634.2h0.7M57.5 627.7h0.7M55.3 633.0h0.7M45.3 643.6h0.7M59.0 628.5h0.7M57.2 624.2h0.7M60.2 626.8h0.7M49.6 642.3h0.7M49.7 641.1h0.7M51.5 638.5h0.7M55.5 639.9h0.7M47.1 638.0h0.7M56.7 640.4h0.7M46.8 649.2h0.7M57.4 638.2h0.7M44.9 646.3h0.7M61.1 618.2h0.7M49.7 643.2h0.7M56.3 640.6h0.7M48.4 645.5h0.7M54.7 632.7h0.7M48.9 640.3h0.7M57.6 636.5h0.7M46.6 643.0h0.7M55.5 630.5h0.7M52.4 628.2h0.7M46.1 645.0h0.7M53.9 628.1h0.7M59.5 630.8h0.7M52.8 632.3h0.7M50.2 640.4h0.7M50.8 646.5h0.7M50.7 633.7h0.7M48.1 634.6h0.7M60.9 631.2h0.7M54.0 639.0h0.7M53.4 631.6h0.7M47.2 640.1h0.7M44.7 642.5h0.7M44.9 651.3h0.7M48.3 640.1h0.7M60.4 640.3h0.7M50.0 646.0h0.7M51.9 627.9h0.7M50.8 631.0h0.7M48.9 640.9h0.7M56.5 638.9h0.7M52.7 640.1h0.7M52.9 634.0h0.7M52.5 641.5h0.7M44.7 647.0h0.7M52.5 638.1h0.7M56.2 635.4h0.7M51.3 644.0h0.7M51.0 639.0h0.7M52.1 641.7h0.7M49.5 645.6h0.7M48.8 648.4h0.7M54.1 634.2h0.7M52.9 638.8h0.7M59.5 634.8h0.7M56.5 636.4h0.7M54.2 636.3h0.7M50.0 639.9h0.7M54.3 643.4h0.7M55.0 642.6h0.7M55.2 637.9h0.7M47.3 643.8h0.7M54.7 635.6h0.7M49.0 637.4h0.7M51.1 638.5h0.7M47.2 642.7h0.7M50.7 637.3h0.7M54.2 640.4h0.7M49.3 644.5h0.7M55.2 642.5h0.7M54.0 628.6h0.7M52.3 652.8h0.7M47.1 645.6h0.7M65.6 625.0h0.7M47.6 636.7h0.7M47.7 638.1h0.7M56.1 632.4h0.7M53.0 630.9h0.7M48.5 645.6h0.7M50.5 640.9h0.7M51.7 646.1h0.7M53.0 637.2h0.7M56.9 629.5h0.7M53.7 627.1h0.7M67.5 638.0h0.7M48.7 640.9h0.7M49.9 645.8h0.7M55.0 633.7h0.7M46.3 636.1h0.7M48.0 637.7h0.7M52.3 637.6h0.7M54.1 641.1h0.7M56.2 641.3h0.7M54.6 633.9h0.7M48.9 638.4h0.7M55.2 647.0h0.7M58.5 637.8h0.7M47.5 644.9h0.7M58.5 633.7h0.7M45.1 639.5h0.7M45.3 643.7h0.7M56.5 636.5h0.7M55.0 639.9h0.7M51.0 641.5h0.7M55.4 644.5h0.7M57.1 634.7h0.7M56.0 633.4h0.7M60.8 620.9h0.7M52.4 647.5h0.7M51.0 643.3h0.7M50.5 648.8h0.7M57.6 640.4h0.7M51.7 637.6h0.7M47.5 641.9h0.7M49.8 634.9h0.7M55.7 634.2h0.7M50.8 637.5h0.7M59.3 638.6h0.7M57.7 633.5h0.7M56.2 630.9h0.7M50.6 641.1h0.7M60.1 631.0h0.7M47.7 647.4h0.7M52.3 627.5h0.7M62.8 635.9h0.7M53.4 639.7h0.7M55.5 640.6h0.7M55.5 641.3h0.7M60.6 624.6h0.7M54.8 642.7h0.7M54.3 631.1h0.7M55.7 630.4h0.7M53.4 641.5h0.7M51.4 642.5h0.7M56.8 634.8h0.7M51.5 634.5h0.7M48.2 638.1h0.7M53.1 634.5h0.7M52.2 637.3h0.7M52.4 643.8h0.7M50.9 634.4h0.7M50.5 637.8h0.7M54.4 640.3h0.7M51.7 636.7h0.7M52.2 642.4h0.7M50.5 639.9h0.7M46.9 645.1h0.7M53.1 635.7h0.7M50.0 640.1h0.7M51.3 645.0h0.7M59.6 635.6h0.7M52.3 642.2h0.7M59.4 636.7h0.7M54.1 642.8h0.7M59.3 628.9h0.7M50.7 640.1h0.7M62.1 636.7h0.7M48.4 643.0h0.7M55.0 643.7h0.7M49.9 641.1h0.7M47.9 632.0h0.7M51.7 649.4h0.7M45.7 642.3h0.7M54.4 645.3h0.7M57.9 634.4h0.7M56.0 630.9h0.7M47.8 639.4h0.7M51.0 630.1h0.7M52.3 640.4h0.7M54.5 627.3h0.7M56.3 637.7h0.7M53.6 646.0h0.7M50.0 643.4h0.7M46.5 642.7h0.7M46.4 653.2h0.7M48.6 640.1h0.7M58.4 637.0h0.7" stroke="#000" stroke-opacity="0.55" stroke-width="0.7"/>
<path d="M52.3 617.8h0.7M53.5 617.2h0.7M40.1 614.1h0.7M41.7 635.1h0.7M42.7 633.9h0.7M37.5 645.8h0.7M43.1 598.1h0.7M47.9 612.2h0.7M57.6 612.4h0.7M36.8 629.7h0.7M46.2 623.2h0.7M60.3 610.4h0.7M57.3 603.6h0.7M49.7 610.8h0.7M46.2 606.3h0.7M35.6 632.1h0.7M42.8 608.7h0.7M37.1 624.3h0.7M52.8 609.2h0.7M54.2 605.1h0.7M52.4 605.9h0.7M46.4 617.3h0.7M53.0 604.4h0.7M47.0 609.3h0.7M36.2 629.7h0.7M53.3 596.4h0.7M52.5 614.8h0.7M61.4 603.3h0.7M39.9 613.7h0.7M39.1 628.0h0.7M38.3 628.3h0.7M38.7 640.5h0.7M41.4 628.1h0.7M50.3 615.5h0.7M55.8 597.3h0.7M46.4 614.7h0.7M55.6 595.4h0.7M38.6 634.4h0.7M48.9 612.9h0.7M45.5 630.1h0.7M32.8 642.8h0.7M43.5 632.5h0.7M44.4 609.4h0.7M40.9 634.9h0.7M41.1 623.7h0.7M42.9 635.8h0.7M51.5 614.1h0.7M39.4 634.1h0.7M41.3 633.0h0.7M55.2 600.6h0.7M47.3 622.0h0.7M35.3 640.9h0.7M46.9 601.6h0.7M52.3 618.3h0.7M49.5 603.7h0.7M56.7 626.1h0.7M51.1 599.4h0.7M51.5 616.9h0.7M50.3 605.7h0.7M52.4 618.3h0.7M39.1 635.6h0.7M50.1 622.7h0.7M59.3 594.5h0.7M44.4 619.4h0.7M59.1 599.1h0.7M50.6 624.3h0.7M50.9 602.8h0.7M45.7 616.1h0.7M58.3 592.7h0.7M44.8 628.7h0.7M50.0 602.7h0.7M52.1 613.3h0.7M46.8 609.8h0.7M47.3 617.7h0.7M47.3 611.3h0.7M44.3 626.6h0.7M32.1 642.9h0.7M38.2 617.5h0.7M33.6 644.7h0.7M53.1 611.8h0.7M47.8 611.4h0.7M50.5 611.7h0.7M50.0 619.1h0.7M35.0 637.3h0.7M41.4 610.0h0.7M35.3 628.4h0.7M48.4 619.8h0.7M45.2 609.9h0.7M35.4 623.5h0.7M51.8 621.2h0.7M33.7 633.5h0.7M42.0 626.9h0.7M47.2 617.7h0.7M54.6 605.7h0.7M49.3 639.9h0.7M46.4 621.3h0.7M57.3 602.3h0.7M54.0 604.6h0.7M61.6 595.8h0.7M40.3 623.5h0.7M49.9 599.9h0.7M32.3 636.3h0.7M53.4 622.4h0.7M44.0 627.9h0.7M34.8 628.0h0.7M44.3 608.8h0.7M47.9 635.3h0.7M48.8 612.3h0.7M48.6 605.0h0.7M43.4 615.1h0.7M45.6 617.5h0.7M46.4 637.6h0.7M56.8 600.0h0.7M47.4 621.9h0.7M50.0 615.1h0.7M46.4 640.0h0.7M35.2 656.1h0.7M58.3 603.0h0.7M40.7 617.1h0.7M57.1 600.9h0.7M52.3 609.4h0.7M50.7 619.2h0.7M45.8 615.3h0.7M51.5 618.5h0.7M43.5 620.9h0.7M51.9 608.4h0.7M37.0 634.0h0.7M56.8 602.1h0.7M44.5 609.5h0.7M46.7 600.8h0.7M41.4 612.0h0.7M58.6 600.9h0.7M46.9 614.0h0.7M43.0 629.7h0.7M46.3 604.3h0.7M57.5 600.5h0.7M37.9 618.2h0.7M56.4 604.7h0.7M38.8 634.5h0.7M58.9 607.8h0.7M53.3 617.5h0.7M53.9 614.2h0.7M36.5 652.1h0.7M34.4 630.6h0.7M34.8 634.1h0.7M49.3 613.1h0.7M32.3 656.5h0.7M49.9 603.7h0.7M53.5 619.7h0.7M45.7 616.6h0.7M40.9 625.2h0.7M50.5 633.5h0.7M45.0 629.8h0.7M50.6 599.7h0.7M48.2 620.9h0.7M42.8 607.8h0.7M42.6 634.4h0.7M51.3 601.2h0.7M37.9 623.1h0.7M53.9 612.9h0.7M47.8 615.0h0.7M54.0 593.6h0.7M48.5 611.7h0.7M55.7 614.2h0.7M34.8 639.5h0.7M50.4 614.0h0.7M38.0 650.4h0.7M48.9 610.9h0.7M46.1 630.3h0.7M48.4 615.4h0.7M47.3 622.4h0.7M45.7 616.2h0.7M34.3 624.8h0.7M41.4 627.3h0.7M40.5 643.7h0.7M48.7 604.1h0.7M50.5 617.2h0.7M52.8 615.9h0.7M65.0 608.7h0.7M47.1 626.2h0.7M55.3 600.5h0.7M47.4 598.0h0.7M56.4 615.7h0.7M43.4 631.0h0.7M46.9 612.4h0.7M33.8 636.8h0.7M41.0 634.6h0.7M48.3 615.5h0.7M51.0 593.8h0.7M42.6 640.6h0.7M53.0 602.0h0.7M50.0 609.8h0.7M50.5 599.4h0.7M54.2 608.9h0.7M57.3 613.4h0.7M47.3 623.8h0.7M45.2 632.3h0.7M45.4 622.5h0.7M44.4 609.5h0.7M56.7 600.3h0.7M51.4 618.1h0.7M50.7 608.2h0.7M48.1 604.0h0.7M48.6 606.5h0.7M52.2 620.3h0.7M40.5 610.8h0.7M46.3 626.7h0.7M42.4 606.6h0.7M50.3 639.1h0.7M41.5 627.8h0.7M46.3 621.6h0.7M45.7 627.7h0.7M39.0 630.4h0.7M57.0 613.9h0.7M54.3 595.0h0.7M50.9 611.5h0.7M52.8 617.6h0.7M49.8 593.0h0.7M50.5 625.2h0.7M41.3 622.3h0.7M47.1 626.4h0.7M51.0 618.4h0.7M50.4 597.6h0.7M53.6 610.7h0.7M42.3 613.7h0.7M46.9 594.8h0.7M38.6 632.3h0.7M47.3 601.3h0.7M43.2 650.0h0.7M44.7 615.7h0.7M46.7 621.5h0.7M47.6 597.3h0.7M41.4 627.3h0.7M41.7 641.7h0.7M45.0 634.1h0.7M43.7 595.6h0.7M49.2 615.9h0.7M54.8 610.3h0.7M54.9 599.5h0.7M51.9 614.3h0.7M52.1 625.3h0.7M42.1 616.9h0.7M38.6 648.1h0.7M44.3 626.6h0.7M45.6 620.4h0.7M48.0 614.9h0.7M33.6 642.9h0.7M52.7 600.9h0.7M33.4 644.4h0.7M53.6 614.1h0.7M40.7 615.3h0.7M55.9 595.1h0.7M50.1 611.9h0.7M37.0 622.2h0.7M49.4 603.7h0.7M35.9 623.7h0.7M58.7 606.4h0.7M52.3 602.7h0.7M57.0 619.0h0.7M37.3 628.6h0.7M44.1 641.4h0.7M44.1 620.4h0.7M39.8 628.6h0.7M55.6 602.6h0.7M56.9 615.3h0.7M53.1 590.6h0.7M47.3 620.1h0.7M57.5 599.4h0.7M49.8 614.2h0.7M35.2 630.4h0.7M41.2 624.1h0.7M44.4 624.4h0.7M47.9 622.8h0.7M51.2 608.5h0.7M48.2 604.9h0.7M56.2 602.1h0.7M51.1 609.7h0.7M49.1 620.8h0.7M40.0 624.7h0.7M47.1 625.5h0.7M49.9 605.9h0.7M37.6 636.6h0.7M48.3 600.3h0.7M47.6 629.1h0.7M37.5 621.6h0.7M61.3 612.8h0.7M61.7 611.0h0.7M42.9 624.6h0.7M52.6 610.3h0.7M49.6 612.5h0.7M37.4 619.6h0.7M32.5 648.7h0.7M37.8 639.7h0.7M43.3 626.8h0.7M37.9 626.2h0.7M45.7 627.8h0.7M54.6 590.1h0.7M36.7 610.2h0.7M45.6 629.9h0.7M35.3 628.2h0.7M36.5 625.6h0.7M50.2 631.9h0.7M39.5 630.1h0.7M47.8 598.9h0.7M45.3 612.3h0.7M47.7 619.1h0.7M37.6 626.9h0.7M44.4 598.4h0.7M48.4 623.5h0.7M59.7 592.1h0.7M48.9 629.4h0.7M46.0 611.6h0.7M50.5 606.2h0.7M47.0 609.9h0.7M44.0 609.1h0.7M50.7 606.2h0.7M38.8 625.2h0.7M42.9 627.7h0.7M36.6 631.8h0.7M46.4 607.3h0.7M45.4 619.4h0.7M57.1 627.4h0.7M34.8 627.4h0.7M40.1 630.7h0.7M43.9 626.9h0.7M37.0 650.0h0.7M34.2 638.8h0.7M54.1 626.9h0.7M46.8 605.2h0.7M39.3 622.4h0.7M54.0 612.3h0.7M47.0 614.5h0.7M45.3 633.3h0.7M38.1 608.3h0.7M44.8 619.1h0.7M40.3 634.9h0.7M46.4 622.7h0.7M42.0 628.7h0.7M36.7 624.7h0.7M62.8 590.6h0.7M41.7 623.4h0.7M53.3 612.0h0.7M39.6 626.2h0.7M49.4 615.2h0.7M49.9 623.4h0.7M58.1 592.8h0.7M35.1 621.8h0.7M53.6 604.3h0.7M50.4 613.3h0.7M44.7 624.7h0.7M42.9 612.4h0.7M68.8 594.5h0.7M48.1 619.6h0.7M35.9 633.7h0.7M50.7 628.4h0.7M46.5 611.9h0.7M36.0 630.9h0.7M55.5 591.6h0.7M52.2 614.2h0.7M41.1 635.0h0.7M46.4 618.0h0.7M33.3 616.8h0.7M54.2 612.6h0.7M46.1 640.1h0.7M36.8 632.6h0.7M47.3 624.6h0.7M47.3 609.3h0.7M48.5 613.6h0.7M51.8 622.2h0.7M37.7 647.6h0.7M44.6 632.2h0.7M47.0 622.5h0.7M38.0 638.3h0.7M50.4 615.1h0.7M49.9 606.4h0.7M50.2 614.1h0.7M45.6 611.6h0.7M39.7 625.1h0.7M33.0 653.6h0.7M35.6 644.1h0.7M45.3 615.5h0.7M51.9 621.2h0.7M60.6 602.7h0.7M47.4 625.5h0.7M48.5 630.7h0.7M49.7 601.6h0.7M47.1 618.2h0.7M40.3 633.3h0.7M39.7 632.1h0.7M49.7 613.7h0.7M45.9 612.0h0.7M42.2 603.2h0.7M42.3 642.4h0.7M39.0 637.2h0.7M38.0 643.4h0.7M48.1 605.3h0.7M52.8 593.3h0.7M55.0 605.3h0.7M39.7 622.4h0.7M60.3 610.3h0.7M41.4 641.3h0.7M34.4 628.9h0.7M56.2 591.9h0.7M39.3 610.1h0.7M46.4 611.3h0.7M46.7 612.8h0.7M51.5 597.8h0.7M48.4 618.6h0.7M55.3 618.6h0.7M48.4 612.0h0.7M53.4 616.7h0.7M48.2 611.8h0.7M44.3 618.3h0.7M47.3 634.1h0.7M59.0 616.8h0.7M40.4 606.1h0.7M44.5 611.8h0.7M51.8 593.1h0.7M41.6 623.0h0.7M35.5 642.6h0.7M40.5 615.4h0.7M49.4 601.8h0.7M50.3 608.7h0.7M44.4 613.2h0.7M55.9 605.7h0.7M49.3 612.6h0.7M42.5 612.8h0.7M48.6 624.5h0.7M42.7 633.5h0.7M50.7 610.4h0.7M38.6 626.2h0.7M43.8 615.2h0.7M46.7 613.3h0.7M47.4 600.1h0.7M49.3 626.7h0.7M50.6 605.9h0.7M47.5 609.0h0.7M43.8 630.2h0.7M53.7 603.7h0.7M42.2 631.0h0.7M50.9 614.2h0.7M53.6 592.0h0.7M35.3 640.3h0.7M42.8 625.8h0.7M34.6 637.7h0.7M47.8 611.4h0.7M35.4 633.3h0.7M48.6 613.8h0.7M52.5 606.2h0.7M37.4 659.5h0.7M48.8 596.3h0.7M48.8 622.5h0.7M49.9 626.0h0.7M36.4 619.2h0.7M45.6 629.8h0.7M36.3 638.2h0.7M36.8 631.6h0.7M36.3 620.1h0.7M47.7 609.4h0.7M36.7 639.5h0.7M46.4 613.9h0.7M47.8 613.6h0.7M49.4 641.0h0.7M34.1 633.3h0.7M46.0 605.0h0.7M47.1 613.7h0.7M53.9 622.2h0.7M50.1 617.7h0.7M46.6 629.9h0.7M41.4 618.1h0.7M55.6 609.3h0.7M47.9 615.6h0.7" stroke="#000" stroke-opacity="0.25" stroke-width="0.7"/>
<path d="M33.8 654.3h0.7M36.6 647.6h0.7M44.9 650.1h0.7M49.1 653.1h0.7M38.7 653.7h0.7M50.8 654.3h0.7M49.8 653.8h0.7M36.3 658.8h0.7M39.4 655.5h0.7M38.2 661.3h0.7M44.6 654.4h0.7M40.1 649.0h0.7M38.5 651.0h0.7M46.1 650.3h0.7M41.1 652.0h0.7M44.2 649.5h0.7M34.2 649.4h0.7M32.5 654.0h0.7M44.8 653.4h0.7M48.7 654.8h0.7M40.8 650.9h0.7M38.0 648.9h0.7M34.6 658.8h0.7M47.0 658.9h0.7M52.8 660.7h0.7M32.8 654.5h0.7M46.2 657.7h0.7M47.2 651.7h0.7M44.6 654.5h0.7M34.9 655.8h0.7M52.0 648.5h0.7M48.4 649.7h0.7M36.3 652.3h0.7M39.2 648.5h0.7M34.4 649.4h0.7M32.4 646.3h0.7M38.0 654.4h0.7M51.5 650.6h0.7M34.4 656.0h0.7M46.0 654.7h0.7M44.7 651.8h0.7M37.4 646.6h0.7M48.0 649.0h0.7M49.1 652.2h0.7M43.3 648.0h0.7M49.1 656.5h0.7M34.3 656.1h0.7M46.8 655.0h0.7M35.2 653.3h0.7M36.6 649.8h0.7M44.5 653.6h0.7M44.5 654.9h0.7M35.2 650.3h0.7M36.4 656.4h0.7M33.9 656.6h0.7M37.8 650.0h0.7M33.7 650.2h0.7M51.5 650.3h0.7M41.3 648.1h0.7M36.8 645.1h0.7M32.9 647.9h0.7M53.3 647.0h0.7M34.3 654.8h0.7M42.3 652.8h0.7M44.1 646.7h0.7M35.6 650.9h0.7M59.8 652.8h0.7M41.3 658.5h0.7M45.5 644.3h0.7M34.4 651.9h0.7M46.5 650.9h0.7M43.5 655.0h0.7M45.6 652.0h0.7M36.7 653.7h0.7M36.4 654.5h0.7M44.6 655.4h0.7M60.1 655.7h0.7M53.5 646.0h0.7M40.7 651.7h0.7M41.5 647.3h0.7M50.1 649.2h0.7M44.0 647.0h0.7M45.5 651.4h0.7M41.5 654.8h0.7M41.2 648.8h0.7M43.2 651.3h0.7M52.2 647.4h0.7M35.1 652.1h0.7M44.9 650.9h0.7M45.4 647.7h0.7M49.5 647.7h0.7M37.7 652.8h0.7M51.5 647.6h0.7M42.7 648.3h0.7M57.0 653.5h0.7M54.2 649.2h0.7M49.1 653.3h0.7M52.6 649.8h0.7M38.4 652.8h0.7M34.9 647.3h0.7M50.6 656.2h0.7M32.1 649.7h0.7M44.6 654.1h0.7M36.4 650.2h0.7M41.4 661.2h0.7M52.4 649.1h0.7M50.2 649.0h0.7M46.6 651.2h0.7M37.0 657.7h0.7M53.3 649.1h0.7M45.4 645.2h0.7M45.0 647.5h0.7M53.0 657.3h0.7M40.0 649.7h0.7M44.2 652.6h0.7M33.5 655.0h0.7M35.1 652.1h0.7M35.1 657.0h0.7M46.3 651.4h0.7M38.8 653.8h0.7M48.6 649.1h0.7M39.2 649.1h0.7M47.4 653.6h0.7" stroke="#000" stroke-opacity="0.25" stroke-width="0.7"/>
<ellipse cx="60.8" cy="631.3" rx="32.0" ry="16.3" transform="rotate(-58 60.8 631.3)" fill="none" stroke="#000" stroke-width="2.0"/>
<line x1="30.60" y1="588.80" x2="30.60" y2="672.90" stroke="#000" stroke-width="1.1"/>
<line x1="30.60" y1="672.90" x2="115.20" y2="672.90" stroke="#000" stroke-width="1.1"/>
<text x="27.30" y="630.80" font-size="9.2" font-weight="bold" fill="#000" color="#000" text-anchor="middle" textLength="17.7" lengthAdjust="spacingAndGlyphs" transform="rotate(-90 27.30 630.80)">SSC</text>
<text x="78.00" y="682.20" font-size="9.2" font-weight="bold" fill="#000" color="#000" text-anchor="middle" textLength="17.7" lengthAdjust="spacingAndGlyphs">FSC</text>
<path d="M165.2 622.9h0.7M166.8 619.7h0.7M158.3 635.3h0.7M161.8 617.2h0.7M167.2 624.7h0.7M171.6 620.4h0.7M164.8 635.0h0.7M165.8 635.7h0.7M167.6 630.4h0.7M169.7 623.6h0.7M165.8 620.6h0.7M185.0 637.9h0.7M182.6 631.8h0.7M159.9 631.7h0.7M172.4 623.5h0.7M164.3 629.1h0.7M163.4 620.9h0.7M175.5 626.8h0.7M163.9 627.6h0.7M154.2 625.4h0.7M170.3 627.6h0.7M165.0 617.2h0.7M169.9 622.3h0.7M171.0 624.0h0.7M175.9 634.6h0.7M165.5 611.0h0.7M160.3 632.7h0.7M167.6 619.0h0.7M172.1 628.8h0.7M178.2 625.4h0.7M174.8 613.8h0.7M162.1 635.5h0.7M171.2 623.7h0.7M168.2 623.1h0.7M167.4 614.1h0.7M169.6 625.9h0.7M162.2 616.4h0.7M161.0 624.2h0.7M174.8 636.6h0.7M169.9 622.8h0.7M170.6 628.3h0.7M171.5 617.7h0.7M166.2 610.4h0.7M161.2 629.8h0.7M175.2 626.5h0.7M162.4 628.1h0.7M177.1 619.4h0.7M162.4 638.1h0.7M177.0 623.3h0.7M165.5 631.4h0.7M155.6 634.2h0.7M169.8 628.5h0.7M177.9 618.6h0.7M164.4 631.5h0.7M175.7 627.6h0.7M183.9 624.3h0.7M163.6 614.9h0.7M164.2 627.0h0.7M176.2 622.0h0.7M167.1 622.9h0.7M181.3 617.6h0.7M163.6 620.2h0.7M169.7 627.3h0.7M170.1 628.3h0.7M168.9 630.6h0.7M168.1 635.2h0.7M173.1 619.4h0.7M158.1 619.8h0.7M164.6 615.1h0.7M174.0 617.4h0.7M171.5 632.3h0.7M155.5 624.1h0.7M160.4 623.7h0.7M159.1 619.5h0.7M171.1 634.0h0.7M162.2 622.0h0.7M173.3 623.4h0.7M163.8 623.9h0.7M166.6 628.7h0.7M159.5 624.7h0.7M163.1 625.9h0.7M155.9 619.1h0.7M164.6 624.4h0.7M177.0 614.1h0.7M172.0 632.1h0.7M167.5 622.9h0.7M169.6 624.0h0.7M172.9 620.4h0.7M175.3 619.2h0.7M163.8 627.2h0.7M167.9 622.1h0.7M165.0 625.1h0.7M166.0 628.7h0.7M170.5 618.6h0.7M178.6 617.8h0.7M165.6 616.1h0.7M159.4 622.1h0.7M164.6 628.9h0.7M179.9 627.9h0.7M169.5 620.9h0.7M167.8 634.5h0.7M170.0 627.4h0.7M167.4 625.2h0.7M170.7 622.1h0.7M158.9 623.5h0.7M178.6 638.4h0.7M162.4 629.8h0.7M156.1 637.8h0.7M162.2 617.0h0.7M165.8 631.5h0.7M167.0 621.6h0.7M170.9 624.7h0.7M183.8 623.1h0.7M170.6 628.7h0.7M162.8 633.2h0.7M160.3 621.1h0.7M169.0 629.4h0.7M165.9 617.6h0.7M166.8 624.8h0.7M169.7 621.5h0.7M156.3 622.5h0.7M164.5 627.4h0.7M157.7 630.6h0.7M168.7 624.7h0.7M161.5 633.1h0.7M179.6 626.7h0.7M167.3 634.4h0.7M163.3 626.9h0.7M161.1 624.4h0.7M161.1 630.2h0.7M163.2 636.6h0.7M158.5 624.2h0.7M161.8 626.3h0.7M167.1 622.7h0.7M172.9 629.5h0.7M161.1 623.6h0.7M173.1 627.4h0.7M167.6 626.4h0.7M167.1 620.6h0.7M165.6 620.8h0.7M163.7 616.9h0.7M172.8 633.6h0.7M171.4 620.7h0.7M172.5 634.1h0.7M167.0 637.4h0.7M171.6 637.9h0.7M164.5 629.0h0.7M168.0 635.4h0.7M170.8 621.6h0.7M165.8 627.0h0.7M166.6 620.5h0.7M169.1 624.6h0.7M172.1 629.5h0.7M174.1 614.0h0.7M169.2 626.1h0.7M173.9 622.1h0.7M165.8 627.4h0.7M168.8 619.7h0.7M165.0 619.5h0.7M179.8 620.9h0.7M167.6 621.0h0.7M165.3 632.8h0.7M163.4 634.6h0.7M173.8 628.3h0.7M156.9 621.4h0.7M170.2 622.9h0.7M160.0 632.8h0.7M178.6 629.2h0.7M170.7 624.1h0.7M159.7 635.3h0.7M171.0 627.2h0.7M166.3 617.7h0.7M158.3 625.4h0.7M175.0 619.1h0.7M166.3 621.7h0.7M171.7 631.1h0.7M159.1 618.9h0.7M168.3 612.3h0.7M164.1 618.0h0.7M173.0 621.6h0.7M168.2 631.6h0.7M166.2 628.5h0.7M168.1 632.3h0.7M169.5 612.5h0.7M162.7 621.3h0.7M156.7 621.5h0.7M169.6 631.4h0.7M171.3 624.3h0.7M178.8 624.2h0.7M170.4 626.0h0.7M169.1 622.9h0.7M168.5 635.3h0.7M159.8 636.7h0.7M175.9 621.5h0.7M166.0 635.0h0.7M163.0 625.7h0.7M160.6 618.9h0.7M163.2 627.0h0.7M172.9 624.7h0.7M154.7 627.7h0.7M166.0 632.2h0.7M170.1 616.6h0.7M170.1 634.9h0.7M163.9 638.8h0.7M169.2 632.0h0.7M169.7 619.4h0.7M173.3 623.5h0.7M166.5 636.4h0.7M167.4 622.0h0.7M161.1 627.7h0.7M168.2 629.1h0.7M178.5 622.8h0.7M164.3 627.9h0.7M169.5 636.1h0.7M170.9 625.3h0.7M173.4 622.5h0.7M164.1 629.7h0.7M176.3 622.0h0.7M171.6 620.8h0.7M167.5 632.7h0.7M178.8 626.4h0.7M175.7 625.6h0.7M174.6 631.1h0.7M160.1 627.0h0.7M165.1 620.4h0.7M170.1 635.8h0.7M163.6 634.8h0.7M163.5 625.7h0.7M164.3 616.8h0.7M170.5 630.9h0.7M175.7 618.6h0.7M169.2 627.6h0.7M179.6 619.4h0.7M161.5 623.9h0.7M163.0 618.7h0.7M161.8 629.5h0.7M164.3 621.6h0.7M161.7 624.9h0.7M155.1 619.0h0.7M169.5 628.5h0.7M174.6 617.1h0.7M174.4 617.1h0.7M170.0 627.7h0.7M169.6 617.3h0.7M157.9 612.4h0.7M163.1 629.3h0.7M173.7 618.7h0.7M171.4 624.0h0.7M165.7 617.4h0.7M168.9 628.7h0.7M166.4 626.2h0.7M177.9 634.1h0.7M170.4 612.4h0.7M164.9 624.7h0.7M161.0 613.5h0.7M161.2 620.5h0.7M156.2 631.0h0.7M169.3 632.8h0.7M166.5 634.4h0.7M168.5 633.3h0.7M161.6 623.1h0.7M156.6 620.6h0.7M163.1 613.8h0.7M164.8 631.2h0.7M168.6 618.0h0.7M175.5 632.3h0.7M160.7 636.1h0.7M165.9 633.8h0.7M170.7 635.5h0.7M165.1 626.3h0.7M164.3 626.7h0.7M162.2 631.2h0.7M175.4 622.0h0.7M170.5 617.6h0.7M170.4 627.1h0.7M171.5 626.7h0.7M178.5 623.5h0.7M168.3 614.1h0.7M172.9 629.9h0.7M170.9 634.0h0.7M166.5 623.8h0.7M168.8 626.2h0.7M162.3 622.2h0.7M171.3 629.7h0.7M167.9 621.5h0.7M171.0 622.5h0.7M170.8 620.8h0.7M172.3 621.8h0.7M164.9 622.7h0.7M164.0 629.1h0.7M170.1 624.6h0.7M163.9 621.1h0.7M163.5 621.8h0.7M160.0 615.7h0.7M170.9 621.8h0.7M168.1 634.3h0.7M158.0 624.5h0.7M165.8 622.7h0.7M174.2 622.1h0.7M162.2 620.6h0.7M164.3 622.2h0.7M171.6 628.6h0.7M176.8 627.4h0.7M168.2 616.1h0.7M169.1 630.8h0.7M165.9 623.4h0.7M165.3 628.6h0.7M173.7 626.4h0.7M178.4 626.1h0.7M161.9 626.7h0.7M173.6 629.1h0.7M174.7 625.0h0.7M170.4 630.1h0.7M168.2 625.0h0.7M174.3 628.3h0.7M158.6 632.7h0.7M163.9 620.5h0.7M162.6 631.9h0.7M166.2 625.1h0.7M167.5 634.0h0.7M166.1 618.3h0.7M170.4 622.3h0.7M163.4 627.0h0.7M160.5 621.0h0.7M173.1 626.6h0.7M165.7 630.8h0.7M167.3 613.3h0.7M163.7 623.5h0.7M173.5 625.7h0.7M160.1 622.6h0.7M177.2 623.9h0.7M167.8 625.4h0.7M155.2 622.8h0.7M165.1 631.4h0.7M175.4 631.7h0.7M168.6 633.7h0.7M170.0 634.9h0.7M169.3 624.2h0.7M172.4 634.1h0.7M165.4 630.8h0.7M172.3 637.1h0.7M165.6 621.6h0.7M169.0 635.7h0.7M174.7 624.6h0.7M174.0 628.0h0.7M168.2 623.6h0.7M166.4 622.6h0.7M164.1 628.9h0.7M167.1 630.0h0.7M162.3 624.7h0.7M165.5 610.1h0.7M166.9 629.6h0.7M171.7 612.8h0.7M158.4 616.4h0.7M161.6 628.4h0.7M159.7 628.3h0.7M159.7 629.3h0.7M166.0 626.0h0.7M169.5 623.1h0.7M167.5 615.9h0.7M169.0 616.6h0.7M168.8 629.5h0.7M165.4 633.1h0.7M167.9 616.0h0.7M154.4 620.3h0.7M158.9 638.0h0.7M181.4 619.7h0.7M166.6 614.6h0.7M162.4 623.6h0.7M168.8 619.4h0.7M162.3 621.3h0.7M171.9 624.9h0.7M174.8 620.5h0.7M177.7 623.2h0.7M174.2 626.0h0.7M172.1 622.6h0.7M170.6 619.8h0.7M166.1 627.2h0.7M157.2 623.4h0.7M161.0 630.4h0.7M165.7 620.4h0.7M171.4 621.8h0.7M166.9 623.0h0.7M162.7 614.2h0.7M177.7 629.2h0.7M160.5 633.1h0.7M162.4 631.5h0.7M169.8 623.7h0.7M173.1 623.7h0.7M169.3 627.1h0.7M177.4 613.7h0.7M163.3 622.9h0.7M166.4 626.8h0.7M164.6 633.0h0.7M166.4 618.4h0.7M176.3 618.4h0.7M168.9 615.6h0.7M167.5 625.9h0.7M160.0 616.7h0.7M174.1 631.7h0.7M160.5 611.1h0.7M169.4 632.5h0.7M166.1 621.0h0.7M174.4 619.3h0.7M177.7 619.9h0.7M170.7 616.4h0.7M165.0 629.1h0.7M159.5 619.6h0.7M163.8 623.2h0.7M168.6 627.4h0.7M165.6 618.1h0.7M177.7 627.9h0.7M163.3 611.5h0.7M168.5 628.9h0.7M166.0 619.0h0.7M167.5 624.3h0.7M160.3 630.4h0.7M174.7 622.1h0.7M174.1 636.9h0.7M164.5 622.8h0.7M172.0 610.4h0.7M169.2 631.2h0.7M163.4 634.4h0.7M176.1 626.1h0.7M164.2 617.0h0.7M176.1 627.2h0.7M164.9 623.0h0.7M157.8 621.5h0.7M172.1 623.7h0.7M172.3 624.9h0.7M169.0 615.3h0.7M168.7 613.6h0.7M173.1 626.8h0.7M167.7 629.7h0.7M166.5 622.9h0.7M170.9 624.4h0.7M167.0 620.5h0.7M159.2 631.1h0.7M169.4 624.5h0.7M169.2 620.9h0.7M175.2 632.4h0.7M163.9 617.5h0.7M168.5 623.7h0.7M175.3 637.8h0.7M176.9 623.6h0.7M160.4 616.5h0.7M178.8 614.5h0.7M166.5 620.1h0.7M171.2 634.6h0.7M183.4 632.0h0.7M180.4 625.2h0.7M169.6 626.8h0.7M176.4 612.5h0.7M169.1 629.4h0.7M163.8 620.3h0.7M154.6 636.3h0.7M168.1 622.8h0.7M165.1 628.0h0.7M157.7 627.7h0.7M167.1 623.0h0.7M171.4 638.6h0.7M171.1 628.2h0.7M173.9 621.1h0.7M166.9 627.2h0.7M158.0 625.6h0.7M163.6 631.6h0.7M161.3 624.9h0.7M165.5 618.9h0.7M164.7 635.4h0.7M163.3 624.8h0.7M157.0 615.8h0.7M166.6 626.0h0.7M168.8 620.4h0.7M171.9 630.3h0.7M163.7 611.2h0.7M155.3 632.1h0.7M162.7 618.7h0.7M169.7 622.8h0.7M162.8 622.8h0.7M162.2 628.9h0.7M163.4 630.1h0.7M162.0 623.5h0.7M169.8 630.8h0.7M165.2 622.0h0.7M168.9 615.0h0.7M166.4 622.8h0.7M172.0 632.0h0.7M161.5 634.6h0.7M170.4 626.4h0.7M169.5 624.2h0.7M169.2 620.6h0.7M165.6 619.8h0.7M171.6 634.7h0.7M166.6 614.2h0.7M189.5 625.3h0.7M168.1 636.5h0.7M168.7 625.5h0.7M164.6 612.6h0.7M169.3 632.0h0.7M161.4 619.9h0.7M164.2 631.6h0.7M157.9 625.9h0.7M171.6 619.3h0.7M169.4 613.5h0.7M160.9 623.7h0.7M170.3 636.5h0.7M166.9 632.7h0.7M169.4 630.9h0.7M171.9 613.9h0.7M166.7 629.5h0.7M160.7 622.2h0.7M162.4 618.5h0.7M178.0 612.9h0.7M178.9 624.2h0.7M170.8 630.5h0.7M160.0 619.8h0.7M159.4 618.1h0.7M162.8 626.5h0.7M178.4 623.2h0.7M171.1 626.9h0.7M173.1 626.8h0.7M162.4 631.9h0.7M158.6 633.8h0.7M172.0 625.6h0.7M162.3 619.5h0.7M169.1 621.9h0.7M162.0 628.2h0.7M170.1 626.9h0.7M174.0 619.6h0.7M177.0 622.9h0.7M164.2 624.7h0.7M182.0 617.4h0.7M167.1 620.0h0.7M166.8 627.2h0.7M174.8 622.0h0.7M173.6 612.8h0.7M165.0 622.8h0.7M173.7 619.4h0.7M165.8 624.6h0.7M179.5 628.9h0.7M170.8 621.5h0.7M159.4 620.5h0.7M159.9 623.5h0.7M175.4 628.5h0.7M158.9 625.2h0.7M167.9 624.2h0.7M169.4 623.0h0.7M159.2 617.5h0.7M155.0 627.5h0.7M172.8 630.3h0.7M159.3 630.3h0.7M165.1 611.0h0.7M159.0 622.1h0.7M166.8 630.7h0.7M159.7 633.3h0.7M170.1 620.3h0.7M175.9 631.7h0.7M155.3 621.0h0.7M171.2 616.7h0.7M156.6 614.5h0.7M168.8 610.9h0.7M166.7 615.3h0.7M164.9 635.6h0.7M169.4 617.0h0.7M175.6 625.4h0.7M170.4 625.1h0.7M176.1 617.7h0.7M165.0 618.2h0.7M167.9 616.7h0.7M165.7 624.4h0.7M164.6 635.9h0.7M160.7 617.1h0.7M171.7 630.5h0.7M171.0 624.8h0.7M172.6 628.1h0.7M167.9 633.1h0.7M174.9 621.3h0.7M175.1 615.0h0.7M170.0 628.6h0.7M170.7 624.6h0.7M166.0 616.7h0.7M166.1 623.2h0.7M168.8 635.5h0.7M171.2 619.6h0.7M168.3 623.2h0.7M166.1 629.4h0.7M164.2 637.6h0.7M171.2 634.3h0.7M164.0 621.2h0.7M168.5 624.8h0.7M169.4 636.8h0.7M173.2 627.9h0.7M168.2 621.9h0.7M166.0 621.1h0.7M165.9 629.3h0.7M175.9 633.4h0.7M169.8 628.7h0.7M171.1 618.7h0.7M172.2 621.1h0.7M164.4 626.7h0.7M170.0 616.6h0.7M170.8 626.3h0.7M169.3 618.6h0.7M170.8 618.7h0.7M165.6 618.6h0.7M165.9 624.3h0.7M171.5 634.3h0.7M166.5 623.1h0.7M169.0 619.2h0.7M154.1 636.6h0.7M174.0 619.8h0.7M179.7 625.8h0.7M154.3 636.6h0.7M165.0 634.9h0.7M177.1 626.9h0.7M163.8 616.3h0.7M171.9 629.1h0.7M172.1 631.5h0.7M163.8 616.8h0.7M162.9 628.5h0.7M165.2 628.9h0.7M168.9 615.4h0.7M172.1 628.6h0.7M167.2 636.7h0.7M166.5 626.7h0.7M164.5 620.8h0.7M170.4 621.1h0.7M181.2 621.3h0.7M156.2 634.8h0.7M167.6 631.2h0.7M166.5 615.1h0.7M168.5 633.5h0.7M176.6 626.4h0.7M167.7 623.5h0.7M171.1 630.2h0.7M168.4 616.3h0.7M175.4 630.7h0.7M168.1 614.3h0.7M166.4 634.4h0.7M164.1 620.8h0.7M167.4 624.7h0.7M169.6 626.9h0.7M171.0 615.7h0.7M170.6 621.3h0.7M174.7 619.9h0.7M168.2 622.2h0.7M167.2 631.0h0.7M167.2 630.2h0.7M170.0 620.3h0.7M166.6 617.6h0.7M164.9 629.2h0.7M168.5 627.8h0.7M174.0 626.2h0.7M171.2 618.4h0.7M158.2 625.4h0.7M168.7 637.9h0.7M168.3 626.3h0.7M159.3 615.7h0.7M165.1 627.3h0.7M167.3 630.3h0.7M161.6 623.3h0.7M162.2 618.3h0.7M170.9 623.3h0.7M164.6 624.2h0.7M168.4 624.0h0.7M158.4 625.0h0.7M154.3 624.1h0.7M182.8 631.8h0.7M163.1 619.2h0.7M162.9 632.2h0.7" stroke="#000" stroke-opacity="0.3" stroke-width="0.7"/>
<path d="M178.1 627.1h0.7M186.9 630.8h0.7M175.2 629.6h0.7M174.3 626.2h0.7M190.9 633.0h0.7M170.8 628.4h0.7M175.3 636.6h0.7M179.5 632.5h0.7M171.8 634.6h0.7M176.3 636.2h0.7M179.4 621.4h0.7M177.4 632.2h0.7M164.2 636.8h0.7M180.7 628.8h0.7M181.5 636.6h0.7M187.0 631.0h0.7M165.3 634.6h0.7M174.9 628.5h0.7M166.7 622.7h0.7M179.9 622.9h0.7M191.5 629.8h0.7M174.9 624.5h0.7M166.1 621.5h0.7M179.5 630.6h0.7M170.9 635.8h0.7M177.5 625.2h0.7M174.5 624.9h0.7M183.0 628.0h0.7M176.8 634.9h0.7M172.7 636.0h0.7M183.7 622.9h0.7M178.5 631.8h0.7M188.1 614.7h0.7M166.0 624.6h0.7M181.1 626.1h0.7M185.5 618.8h0.7M179.0 615.1h0.7M170.6 623.4h0.7M168.6 636.5h0.7M183.4 623.7h0.7M175.4 624.6h0.7M174.2 621.3h0.7M168.2 626.8h0.7M182.3 626.7h0.7M180.0 628.7h0.7M159.4 636.8h0.7M188.0 623.8h0.7M190.9 627.6h0.7M188.2 630.8h0.7M175.6 622.6h0.7M168.4 618.9h0.7M191.0 631.2h0.7M178.0 626.6h0.7M175.6 623.8h0.7M187.1 624.1h0.7M175.9 637.1h0.7M183.3 630.1h0.7M167.1 635.2h0.7M177.7 618.9h0.7M183.0 633.3h0.7M171.4 634.0h0.7M171.8 627.0h0.7M188.9 611.8h0.7M187.5 627.4h0.7M176.0 622.2h0.7M173.7 631.8h0.7M177.5 629.6h0.7M163.3 621.9h0.7M190.8 638.2h0.7M179.3 633.0h0.7M181.5 624.9h0.7M169.7 629.0h0.7M185.9 633.6h0.7M189.9 620.3h0.7M176.2 619.5h0.7M164.5 631.7h0.7M184.3 622.3h0.7M188.8 622.1h0.7M180.3 623.9h0.7M180.2 636.8h0.7M187.2 624.6h0.7M179.0 631.5h0.7M180.6 632.2h0.7M179.6 621.2h0.7M183.3 629.8h0.7M186.5 622.4h0.7M179.5 630.6h0.7M192.4 632.3h0.7M170.7 633.1h0.7M170.9 621.3h0.7M179.3 633.9h0.7M173.6 634.0h0.7M189.0 636.6h0.7M180.7 625.1h0.7M182.9 626.6h0.7M179.9 631.0h0.7M169.4 619.3h0.7M190.1 630.2h0.7M182.9 628.0h0.7M164.9 630.6h0.7M187.0 628.7h0.7M172.0 621.2h0.7M182.8 635.0h0.7M175.4 630.5h0.7M172.1 623.4h0.7M175.7 627.2h0.7M171.2 628.0h0.7M176.4 630.0h0.7M172.7 637.3h0.7M176.9 635.8h0.7M171.2 611.0h0.7M177.5 634.6h0.7M184.4 634.2h0.7M177.8 633.6h0.7M187.2 628.6h0.7M182.6 631.6h0.7M178.4 638.9h0.7M179.2 629.9h0.7M183.3 630.8h0.7M172.0 627.5h0.7M191.7 628.9h0.7M173.1 629.6h0.7M180.4 634.0h0.7M173.6 628.9h0.7M178.3 631.7h0.7M185.0 632.7h0.7M189.1 620.7h0.7M167.3 633.3h0.7M187.4 635.6h0.7M175.4 627.1h0.7M188.0 621.0h0.7M178.9 624.8h0.7M182.6 618.2h0.7M179.9 628.8h0.7M178.4 635.8h0.7M191.8 616.2h0.7M166.2 622.9h0.7M183.2 629.2h0.7M185.0 628.6h0.7M173.7 634.5h0.7M191.0 629.6h0.7M178.3 627.1h0.7M180.5 621.1h0.7M175.5 632.8h0.7M174.9 638.0h0.7M172.5 636.7h0.7M187.7 634.5h0.7M178.2 619.4h0.7M177.3 625.8h0.7M188.1 624.5h0.7M175.3 634.3h0.7M190.3 626.9h0.7M174.3 630.1h0.7M179.6 638.7h0.7M183.9 621.7h0.7M174.8 633.0h0.7M176.7 629.2h0.7M181.4 631.7h0.7M180.6 629.1h0.7M170.7 630.6h0.7M183.5 634.4h0.7M169.5 628.9h0.7M176.8 638.3h0.7M189.5 620.9h0.7M184.6 620.6h0.7M184.3 621.1h0.7M181.3 630.9h0.7M183.8 625.0h0.7M185.4 621.5h0.7M181.3 629.3h0.7M189.4 628.9h0.7M173.4 622.3h0.7M162.9 621.3h0.7M186.8 628.0h0.7M189.1 630.4h0.7M182.4 636.6h0.7M170.1 625.3h0.7M176.7 634.9h0.7M187.4 628.5h0.7M174.7 629.0h0.7M192.0 621.5h0.7M180.4 624.1h0.7M175.4 617.2h0.7M190.5 630.2h0.7M181.6 622.5h0.7M187.7 622.0h0.7M185.5 625.9h0.7M167.3 619.2h0.7M177.3 626.5h0.7M179.8 621.7h0.7M176.6 635.0h0.7M191.7 623.8h0.7M192.4 628.3h0.7M182.7 622.6h0.7M171.8 637.3h0.7M173.4 631.8h0.7M178.3 627.4h0.7M177.4 629.5h0.7M182.7 626.0h0.7M177.2 628.7h0.7M175.2 632.4h0.7M176.8 623.9h0.7M183.9 631.1h0.7M187.8 627.6h0.7M187.7 629.1h0.7M185.8 619.3h0.7M174.8 617.6h0.7M170.2 627.5h0.7M169.6 630.6h0.7M183.9 630.2h0.7M187.5 630.0h0.7M172.6 619.8h0.7M189.7 629.5h0.7M167.1 634.5h0.7M175.9 627.5h0.7M189.6 627.6h0.7M182.3 625.4h0.7M170.6 621.2h0.7M192.2 624.9h0.7M192.4 629.5h0.7M180.1 619.8h0.7M178.6 631.7h0.7M173.6 628.1h0.7M162.9 621.7h0.7M190.8 635.5h0.7" stroke="#000" stroke-opacity="0.25" stroke-width="0.7"/>
<path d="M167.8 650.5h0.7M162.2 646.1h0.7M170.1 643.9h0.7M165.8 649.7h0.7M170.7 645.0h0.7M157.5 650.8h0.7M172.0 659.4h0.7M157.7 645.2h0.7M162.3 655.3h0.7M168.9 654.5h0.7M157.3 643.9h0.7M170.0 653.8h0.7M161.3 657.6h0.7M163.0 653.0h0.7M162.2 663.2h0.7M167.6 659.6h0.7M156.3 649.9h0.7M158.3 659.5h0.7M159.5 649.1h0.7M171.5 643.3h0.7M158.7 645.8h0.7M161.3 646.4h0.7M166.3 650.8h0.7M154.7 651.0h0.7M166.1 645.1h0.7M162.1 644.5h0.7M162.5 656.3h0.7M163.9 643.5h0.7M169.6 652.0h0.7M163.6 649.9h0.7M156.3 646.6h0.7M158.3 648.1h0.7M159.7 652.1h0.7M162.7 648.0h0.7M165.5 651.0h0.7M161.6 646.3h0.7M160.9 648.4h0.7M160.1 648.8h0.7M167.1 643.6h0.7M167.1 641.2h0.7M163.8 642.5h0.7M161.4 642.5h0.7M167.2 644.4h0.7M164.6 651.5h0.7M159.8 643.4h0.7M164.0 644.8h0.7M167.8 647.0h0.7M162.6 661.4h0.7M164.8 645.1h0.7M155.7 647.3h0.7M162.5 642.3h0.7M154.5 651.8h0.7M162.0 653.7h0.7M163.9 660.8h0.7M165.7 653.5h0.7M164.8 646.7h0.7M165.9 648.0h0.7M154.5 648.5h0.7M162.6 654.9h0.7M161.6 641.8h0.7M163.3 653.0h0.7M166.4 642.6h0.7M173.6 663.0h0.7M165.9 657.2h0.7M159.8 648.6h0.7M169.7 648.9h0.7M160.6 651.7h0.7M163.9 647.3h0.7M174.5 649.3h0.7M156.8 644.8h0.7M164.4 647.5h0.7M159.4 645.7h0.7M160.6 651.7h0.7M160.1 642.6h0.7M155.8 649.0h0.7M161.7 644.0h0.7M162.1 643.0h0.7M159.2 645.9h0.7M164.4 648.0h0.7M170.8 645.3h0.7M164.3 641.9h0.7M164.9 650.0h0.7M160.2 644.6h0.7M163.7 647.9h0.7M157.4 640.5h0.7M158.3 649.5h0.7M161.0 651.8h0.7M155.2 640.2h0.7M168.6 641.3h0.7M167.8 643.0h0.7M169.2 653.1h0.7M164.8 649.6h0.7M158.6 650.1h0.7M166.1 647.4h0.7M159.4 649.9h0.7M170.0 656.7h0.7M174.3 657.5h0.7M167.3 652.5h0.7M160.8 661.4h0.7M167.7 645.9h0.7M168.4 651.5h0.7M169.7 647.4h0.7M162.1 651.5h0.7M169.2 646.3h0.7M165.1 657.4h0.7M162.7 654.5h0.7M159.0 659.6h0.7M166.0 649.1h0.7M163.0 654.4h0.7M163.9 654.5h0.7M162.6 644.7h0.7M164.9 644.9h0.7M159.6 660.2h0.7M164.4 654.9h0.7M161.4 655.6h0.7M161.8 644.5h0.7M161.4 655.8h0.7M163.7 646.9h0.7M163.1 646.8h0.7M166.6 650.6h0.7M164.8 656.8h0.7M162.7 648.6h0.7M159.1 641.8h0.7M161.6 646.7h0.7M161.3 655.8h0.7M162.1 654.6h0.7M159.6 651.9h0.7M171.6 644.6h0.7M164.6 652.3h0.7M166.0 649.3h0.7M169.1 649.8h0.7M171.6 649.9h0.7M163.5 651.3h0.7M162.9 654.4h0.7M157.3 658.5h0.7M158.8 654.2h0.7M164.4 652.4h0.7M162.2 640.6h0.7M166.0 657.9h0.7M165.0 644.9h0.7M162.3 654.2h0.7M164.8 650.0h0.7M164.3 645.0h0.7M165.1 651.5h0.7M154.9 647.9h0.7M162.4 649.5h0.7M164.6 645.3h0.7M157.6 643.4h0.7M164.8 647.5h0.7M165.3 649.0h0.7M155.1 650.1h0.7M165.4 656.1h0.7M162.3 647.6h0.7M166.9 657.5h0.7M162.1 649.9h0.7M163.0 646.0h0.7M167.4 641.9h0.7M176.0 647.2h0.7M165.3 649.2h0.7M162.6 653.9h0.7M162.1 652.4h0.7M156.6 647.6h0.7M160.2 647.3h0.7M161.6 645.5h0.7M170.2 645.3h0.7M161.2 650.7h0.7M164.1 651.0h0.7M161.3 641.6h0.7M164.4 651.3h0.7M163.9 649.2h0.7M160.5 647.0h0.7M161.0 652.1h0.7M166.6 652.6h0.7M169.9 655.9h0.7M165.3 646.1h0.7M164.8 646.7h0.7M167.5 650.0h0.7M161.1 650.5h0.7M173.0 654.7h0.7M168.4 653.5h0.7M165.7 641.9h0.7M156.9 653.8h0.7M167.4 641.3h0.7M161.6 646.2h0.7M169.4 652.9h0.7M171.3 653.0h0.7M162.5 650.8h0.7M174.6 648.3h0.7M167.3 641.5h0.7M160.9 643.1h0.7M161.4 658.9h0.7M161.2 648.2h0.7M162.6 645.9h0.7M166.2 648.6h0.7M159.7 645.0h0.7M156.2 644.3h0.7M155.4 643.0h0.7M160.9 652.2h0.7M157.9 645.1h0.7M157.0 650.1h0.7M165.1 653.8h0.7M158.4 651.6h0.7M156.2 652.8h0.7M162.9 657.8h0.7M163.0 648.0h0.7M163.9 648.5h0.7M164.5 649.5h0.7M169.2 656.7h0.7M162.2 645.3h0.7M171.1 661.3h0.7M166.2 650.8h0.7M163.8 650.3h0.7M161.6 654.1h0.7M175.8 645.9h0.7M157.6 641.8h0.7M162.0 650.5h0.7M168.3 658.8h0.7M167.7 647.4h0.7M164.8 647.4h0.7M154.7 653.1h0.7M164.9 645.4h0.7M162.7 658.5h0.7M161.7 653.3h0.7M159.1 645.6h0.7M164.5 657.6h0.7M162.3 645.1h0.7M163.9 649.5h0.7M163.0 655.6h0.7M172.4 647.7h0.7M158.6 659.6h0.7M154.1 652.3h0.7M168.2 651.9h0.7M161.7 654.6h0.7M165.4 645.6h0.7M160.4 651.4h0.7M154.1 652.7h0.7M165.3 654.7h0.7M160.2 640.6h0.7M164.4 651.7h0.7M165.4 656.7h0.7M163.8 645.8h0.7M169.0 644.7h0.7M163.7 649.7h0.7M161.7 641.2h0.7M169.2 645.3h0.7M163.2 653.7h0.7M156.2 651.2h0.7M166.9 647.5h0.7M169.4 649.6h0.7M154.9 652.6h0.7M167.2 647.0h0.7M163.6 648.8h0.7M160.5 644.7h0.7M160.4 646.1h0.7M163.1 658.1h0.7M170.7 650.0h0.7M167.2 645.0h0.7M162.9 651.3h0.7M164.0 651.7h0.7M158.8 651.6h0.7M154.6 654.6h0.7M162.3 645.2h0.7M169.6 643.2h0.7M169.8 655.7h0.7M158.2 657.0h0.7M155.0 649.5h0.7M156.3 659.8h0.7M160.5 643.7h0.7M166.3 653.5h0.7M169.7 655.1h0.7M160.4 645.8h0.7M161.5 650.0h0.7M167.0 641.6h0.7M163.4 651.0h0.7M166.6 645.6h0.7M165.7 649.9h0.7M162.1 642.9h0.7M165.7 646.5h0.7M163.5 653.1h0.7M159.2 647.7h0.7M168.2 654.6h0.7M164.6 646.1h0.7M161.7 649.2h0.7M166.2 653.2h0.7M169.9 659.0h0.7M166.3 644.3h0.7M169.9 660.7h0.7M157.7 642.0h0.7M159.1 648.7h0.7M168.4 654.9h0.7M157.8 654.4h0.7M162.8 653.0h0.7M163.3 649.2h0.7M165.5 652.5h0.7M165.8 643.4h0.7M167.4 645.9h0.7M160.8 647.9h0.7M156.0 646.7h0.7M167.5 652.4h0.7M170.0 643.5h0.7M172.8 655.2h0.7M163.4 652.5h0.7M160.9 643.9h0.7M168.8 648.7h0.7M161.3 655.0h0.7M162.8 646.9h0.7M166.1 642.9h0.7M160.2 652.6h0.7M169.6 646.9h0.7M159.6 643.6h0.7M161.4 648.2h0.7M171.3 659.4h0.7M161.4 652.9h0.7M161.6 650.4h0.7M167.6 645.9h0.7M167.2 653.8h0.7M161.1 652.6h0.7M164.1 650.8h0.7M166.7 651.7h0.7M163.1 652.1h0.7M160.0 643.4h0.7M155.5 647.1h0.7M167.1 640.7h0.7M158.3 641.2h0.7M162.5 648.0h0.7M164.4 656.4h0.7M169.6 644.3h0.7M159.7 652.0h0.7M174.8 649.7h0.7M162.6 658.3h0.7M161.8 645.4h0.7M160.3 647.6h0.7M164.6 650.7h0.7M168.0 649.6h0.7M162.6 648.6h0.7M154.0 645.0h0.7M166.8 643.8h0.7M165.2 649.0h0.7M157.5 644.9h0.7M165.4 643.5h0.7M169.5 649.9h0.7M172.1 647.5h0.7M173.6 647.2h0.7M160.7 656.7h0.7M158.1 646.8h0.7M159.3 642.5h0.7M154.6 650.0h0.7M165.4 646.1h0.7M160.2 646.9h0.7M157.8 652.7h0.7M155.9 640.7h0.7M161.0 654.5h0.7M161.6 640.3h0.7M171.8 653.9h0.7M172.1 648.8h0.7M168.8 643.2h0.7M159.2 652.6h0.7M154.7 648.3h0.7M165.1 649.7h0.7M156.8 645.8h0.7M167.1 647.5h0.7M159.9 646.5h0.7M158.3 646.8h0.7M164.9 642.1h0.7M167.4 651.7h0.7M166.3 657.0h0.7M163.0 649.2h0.7M160.5 645.5h0.7M164.4 654.5h0.7M162.2 648.0h0.7M165.8 643.7h0.7M166.8 658.7h0.7M159.3 651.7h0.7M178.2 653.3h0.7M165.5 640.4h0.7M167.3 658.0h0.7M160.7 650.0h0.7M157.7 649.2h0.7M170.3 642.2h0.7M155.9 648.7h0.7M165.1 659.8h0.7M160.3 651.8h0.7M163.6 646.0h0.7M156.5 645.3h0.7M162.0 649.3h0.7M160.0 661.5h0.7M167.3 645.7h0.7M162.9 651.7h0.7M156.2 646.1h0.7M160.7 645.0h0.7M166.4 651.5h0.7M159.3 649.5h0.7M164.6 658.8h0.7M163.9 657.2h0.7M158.0 654.6h0.7M160.9 649.8h0.7M156.5 646.4h0.7M166.2 645.5h0.7M164.7 650.1h0.7M158.3 648.3h0.7" stroke="#000" stroke-opacity="0.35" stroke-width="0.7"/>
<path d="M181.1 649.5h0.7M176.7 647.0h0.7M191.6 643.6h0.7M186.1 644.9h0.7M174.3 645.2h0.7M187.1 650.0h0.7M178.4 646.6h0.7M181.4 643.5h0.7M176.8 647.5h0.7M169.8 646.6h0.7M174.6 647.5h0.7M177.3 653.8h0.7M178.5 646.3h0.7M185.1 646.5h0.7M184.9 642.1h0.7M181.2 645.6h0.7M176.0 645.1h0.7M176.0 654.0h0.7M177.2 643.6h0.7M183.3 647.8h0.7M173.3 647.8h0.7M177.8 650.5h0.7M172.0 647.2h0.7M179.3 645.3h0.7M173.2 652.8h0.7M176.8 644.1h0.7M169.1 649.6h0.7M174.0 642.1h0.7M184.6 648.0h0.7M182.7 649.1h0.7M177.8 652.5h0.7M172.1 649.9h0.7M171.0 645.3h0.7M172.0 644.0h0.7M181.3 646.3h0.7M185.0 646.2h0.7M173.7 648.3h0.7M182.0 650.8h0.7M183.5 647.6h0.7M181.7 646.6h0.7M173.3 642.2h0.7M176.5 646.1h0.7M174.8 649.4h0.7M178.6 648.5h0.7M177.6 646.6h0.7M174.8 644.0h0.7M181.6 653.2h0.7M172.5 648.1h0.7M172.1 649.2h0.7M181.9 645.5h0.7M168.3 650.9h0.7M179.5 647.9h0.7M182.9 649.0h0.7M178.2 649.6h0.7M176.3 645.2h0.7M180.3 650.3h0.7M184.3 647.2h0.7M180.6 645.7h0.7M175.3 644.4h0.7M173.6 648.1h0.7M170.7 651.6h0.7M191.2 647.5h0.7M175.5 641.4h0.7M167.5 643.3h0.7M179.5 647.4h0.7M176.6 647.9h0.7M186.9 644.0h0.7M177.2 649.4h0.7M178.1 650.0h0.7M173.1 647.9h0.7M173.4 648.9h0.7M175.8 650.1h0.7M187.1 653.4h0.7M182.2 645.0h0.7M176.9 647.5h0.7M178.8 646.9h0.7M182.2 645.4h0.7M175.5 650.0h0.7M179.9 645.3h0.7M182.7 648.7h0.7M189.1 649.4h0.7M177.4 641.8h0.7M189.2 642.3h0.7M182.8 645.8h0.7M169.7 650.6h0.7M177.5 645.2h0.7M182.3 644.5h0.7M186.4 642.7h0.7M178.2 653.3h0.7M184.1 647.7h0.7M175.1 646.5h0.7M170.2 647.7h0.7M169.3 654.0h0.7M173.8 642.6h0.7M178.7 644.7h0.7M177.3 645.8h0.7M166.6 649.2h0.7M172.7 651.1h0.7M178.7 645.8h0.7M180.1 647.2h0.7M182.2 646.8h0.7M179.6 648.8h0.7M181.3 645.7h0.7M171.8 649.0h0.7M184.4 650.9h0.7M175.5 643.9h0.7M182.0 644.1h0.7M181.6 648.1h0.7M167.3 640.8h0.7M182.9 649.7h0.7M178.7 648.9h0.7M177.4 645.2h0.7M173.7 641.3h0.7M176.0 648.4h0.7M185.1 650.5h0.7M178.8 640.7h0.7M178.6 646.3h0.7M174.5 649.8h0.7M176.7 640.2h0.7M183.5 645.4h0.7M182.1 644.1h0.7M176.0 647.0h0.7M177.6 645.7h0.7M172.2 650.9h0.7M173.6 645.8h0.7M171.4 644.7h0.7M171.1 647.6h0.7M169.7 645.2h0.7M168.8 653.0h0.7M178.4 646.0h0.7M182.6 646.5h0.7M180.5 646.4h0.7M179.2 642.9h0.7M176.7 649.9h0.7M185.9 644.1h0.7M181.4 648.6h0.7M180.9 641.9h0.7M175.2 645.0h0.7M170.0 649.8h0.7M183.9 645.0h0.7M175.9 650.3h0.7M173.5 640.9h0.7M178.4 644.4h0.7M181.5 646.2h0.7M180.7 648.0h0.7M184.8 646.7h0.7M176.1 645.4h0.7M177.8 645.8h0.7M172.9 652.3h0.7M164.8 651.4h0.7M172.0 648.7h0.7M178.0 645.6h0.7M181.3 650.5h0.7M189.4 647.3h0.7M174.4 647.3h0.7M179.6 645.9h0.7M174.7 642.4h0.7M168.7 645.6h0.7M182.6 647.1h0.7M172.3 646.8h0.7M183.6 646.8h0.7M174.9 653.1h0.7M179.8 652.8h0.7M184.6 649.3h0.7M184.9 644.0h0.7M177.8 647.6h0.7M189.7 647.8h0.7M176.2 648.4h0.7M173.5 647.0h0.7M177.1 655.1h0.7M171.7 643.2h0.7M168.0 653.0h0.7M184.5 650.2h0.7M183.3 648.9h0.7M185.1 648.0h0.7M177.1 642.5h0.7M182.6 648.9h0.7M161.4 642.2h0.7M177.4 646.2h0.7M172.5 647.3h0.7M173.1 649.1h0.7M162.9 644.8h0.7M179.3 649.4h0.7M184.9 647.7h0.7M175.3 650.1h0.7M187.2 640.7h0.7M171.7 650.1h0.7M176.4 644.7h0.7M178.3 647.5h0.7M182.7 646.4h0.7M176.3 647.5h0.7M175.8 644.0h0.7M177.9 647.1h0.7M177.9 644.2h0.7M175.5 641.2h0.7M172.8 651.4h0.7M179.4 645.9h0.7M180.6 643.2h0.7M181.7 646.0h0.7M172.5 646.5h0.7M181.2 651.0h0.7M164.2 643.3h0.7M181.8 645.6h0.7M176.3 644.5h0.7M169.7 648.8h0.7M174.5 643.5h0.7M176.4 648.8h0.7M183.0 644.1h0.7M177.2 645.8h0.7M170.3 648.7h0.7M172.4 647.8h0.7M182.6 649.3h0.7M182.2 644.5h0.7M172.6 640.5h0.7M176.4 650.3h0.7M172.4 645.6h0.7M176.8 646.6h0.7M163.9 649.7h0.7M169.1 644.6h0.7M174.2 648.7h0.7M178.3 643.4h0.7M183.2 644.3h0.7M173.4 648.0h0.7M178.2 650.0h0.7M177.5 646.8h0.7M182.3 652.7h0.7M176.1 646.8h0.7M188.6 645.1h0.7M174.8 649.2h0.7M182.1 645.6h0.7M172.7 646.7h0.7M187.1 645.2h0.7M173.5 651.4h0.7M181.8 646.3h0.7M184.1 643.1h0.7M173.7 646.9h0.7M172.7 652.2h0.7M176.4 644.5h0.7M178.7 647.0h0.7M168.9 646.6h0.7M178.0 647.0h0.7M175.6 647.9h0.7M181.3 645.8h0.7M166.8 646.1h0.7M176.1 646.6h0.7M182.4 644.9h0.7M189.1 647.6h0.7M182.1 650.2h0.7M182.0 651.1h0.7M183.3 650.2h0.7M170.2 645.2h0.7M182.4 641.9h0.7M176.0 648.5h0.7M177.6 650.8h0.7M173.1 646.6h0.7M170.5 653.6h0.7M169.1 646.8h0.7M170.8 644.1h0.7M182.9 645.1h0.7M176.7 646.7h0.7M170.5 646.0h0.7M183.1 646.8h0.7M170.2 652.0h0.7M176.7 647.6h0.7M190.8 651.2h0.7M168.6 646.0h0.7M170.6 642.4h0.7M172.4 647.1h0.7M176.4 649.9h0.7M186.1 645.3h0.7M172.3 643.2h0.7M172.9 643.0h0.7M179.1 649.4h0.7M178.4 649.5h0.7M167.5 642.9h0.7M174.4 649.3h0.7M169.3 646.2h0.7M165.8 650.2h0.7M179.2 650.6h0.7M181.6 645.1h0.7M183.3 647.8h0.7M173.5 649.1h0.7M189.3 645.4h0.7M179.5 645.9h0.7M189.0 642.7h0.7M168.0 646.3h0.7M188.8 647.6h0.7M177.5 649.2h0.7M181.0 648.1h0.7M185.9 650.2h0.7M176.1 646.5h0.7M175.7 648.0h0.7M179.3 648.0h0.7M178.7 651.1h0.7M185.3 652.7h0.7M174.0 642.8h0.7M165.1 640.7h0.7M174.4 647.9h0.7M177.9 643.8h0.7M177.1 645.0h0.7M183.8 642.3h0.7M179.4 648.8h0.7M170.6 649.1h0.7M176.0 648.8h0.7M182.7 652.9h0.7M174.1 644.6h0.7M175.8 647.3h0.7M181.8 642.5h0.7M185.3 649.3h0.7M166.7 646.9h0.7M171.9 648.5h0.7M173.0 643.7h0.7M175.0 647.6h0.7M183.8 645.7h0.7M176.4 646.2h0.7" stroke="#000" stroke-opacity="0.3" stroke-width="0.7"/>
<path d="M167.9 644.8h0.7M162.5 646.1h0.7M163.5 643.0h0.7M161.9 645.6h0.7M169.7 650.8h0.7M163.0 642.2h0.7M168.9 644.8h0.7M164.2 648.1h0.7M157.4 651.0h0.7M166.4 649.6h0.7M162.1 647.1h0.7M162.5 649.5h0.7M156.0 646.3h0.7M162.9 646.9h0.7M161.7 645.4h0.7M160.2 642.5h0.7M165.6 644.3h0.7M162.3 655.9h0.7M159.6 654.1h0.7M163.1 646.4h0.7M169.6 650.3h0.7M161.4 653.7h0.7M171.8 645.6h0.7M167.1 649.3h0.7M162.0 648.8h0.7M155.7 650.6h0.7M162.9 646.8h0.7M166.7 646.8h0.7M161.0 650.9h0.7M160.9 641.2h0.7M163.7 647.9h0.7M168.2 645.7h0.7M164.5 651.9h0.7M166.1 652.0h0.7M162.7 652.4h0.7M168.2 645.8h0.7M161.9 651.4h0.7M161.4 646.9h0.7M156.7 644.9h0.7M166.0 648.2h0.7M164.2 644.2h0.7M165.2 646.9h0.7M161.0 649.2h0.7M162.9 655.3h0.7M164.1 652.3h0.7M163.6 647.8h0.7M161.9 654.3h0.7M164.5 646.9h0.7M163.4 646.8h0.7M160.3 643.5h0.7M163.1 644.8h0.7M160.1 650.3h0.7M163.9 646.8h0.7M163.0 643.3h0.7M157.8 647.6h0.7M158.6 641.5h0.7M163.9 642.2h0.7M168.2 650.1h0.7M161.8 642.7h0.7M160.5 648.3h0.7M161.8 651.8h0.7M169.5 645.2h0.7M161.8 652.6h0.7M162.6 645.4h0.7M168.7 640.3h0.7M163.6 641.9h0.7M163.8 644.4h0.7M163.7 649.6h0.7M167.9 648.6h0.7M160.9 651.0h0.7M165.8 645.0h0.7M165.5 647.2h0.7M158.5 643.3h0.7M165.2 646.3h0.7M160.1 650.5h0.7M165.1 650.5h0.7M165.1 647.1h0.7M164.4 644.3h0.7M165.6 646.8h0.7M160.1 648.7h0.7M167.3 647.0h0.7M168.7 652.9h0.7M167.9 651.4h0.7M158.5 651.1h0.7M159.7 642.1h0.7M159.9 646.3h0.7M162.3 653.6h0.7M164.4 647.2h0.7M159.1 644.1h0.7M160.2 654.2h0.7M166.3 649.3h0.7M159.3 649.9h0.7M161.1 648.1h0.7M159.1 643.8h0.7M164.5 648.7h0.7M168.7 647.2h0.7M164.3 648.3h0.7M163.0 643.3h0.7M161.3 644.7h0.7M160.7 650.1h0.7M160.0 653.1h0.7M164.6 652.4h0.7M165.9 644.5h0.7M161.9 645.3h0.7M164.5 644.2h0.7M159.7 646.3h0.7M166.6 648.7h0.7M164.3 649.9h0.7M170.1 644.7h0.7M162.3 642.9h0.7M162.5 646.6h0.7M165.3 642.3h0.7M161.9 640.6h0.7M166.1 644.2h0.7M165.7 643.8h0.7M164.5 647.3h0.7M167.7 646.5h0.7M165.7 651.4h0.7M167.9 646.3h0.7M167.7 645.7h0.7M162.9 645.0h0.7M160.3 654.2h0.7M159.9 643.2h0.7M160.6 649.8h0.7M166.1 646.0h0.7M160.7 648.0h0.7M161.6 644.7h0.7M164.5 651.2h0.7M158.9 653.5h0.7M164.8 645.3h0.7M163.7 651.0h0.7M159.1 644.9h0.7M154.5 646.0h0.7M161.6 649.3h0.7M170.1 645.5h0.7M163.6 648.2h0.7M158.5 651.9h0.7M157.4 648.2h0.7M158.8 648.0h0.7M161.8 645.7h0.7M163.4 648.6h0.7M162.5 651.3h0.7M164.3 647.8h0.7M169.6 643.9h0.7M163.6 643.6h0.7M159.4 649.8h0.7M158.5 644.9h0.7M165.3 651.4h0.7M166.4 646.5h0.7M159.6 648.4h0.7M162.3 641.0h0.7M162.4 645.2h0.7M163.2 641.7h0.7M160.7 644.8h0.7M163.0 649.6h0.7M163.3 642.0h0.7M165.2 650.1h0.7M160.7 644.4h0.7M167.0 650.5h0.7M160.2 650.2h0.7M159.4 645.5h0.7M163.8 649.5h0.7M157.6 649.3h0.7M159.5 645.2h0.7M164.6 645.7h0.7M162.4 644.8h0.7M165.9 646.0h0.7M167.2 648.3h0.7M159.3 652.4h0.7M168.3 652.1h0.7M164.6 647.6h0.7M162.7 643.2h0.7M167.8 650.3h0.7M163.6 647.1h0.7M158.5 645.5h0.7M164.7 647.9h0.7M167.8 653.8h0.7M165.5 649.7h0.7M159.7 645.2h0.7M162.6 649.6h0.7M168.5 652.4h0.7M159.3 650.5h0.7M164.0 647.8h0.7M162.8 651.2h0.7M159.9 646.6h0.7M157.2 645.7h0.7M162.1 643.8h0.7M164.4 646.1h0.7M163.7 655.8h0.7M164.2 648.4h0.7M166.4 650.7h0.7M159.8 644.0h0.7M160.5 645.1h0.7M158.7 648.1h0.7M164.4 648.4h0.7M162.1 644.7h0.7M156.7 650.8h0.7M157.6 651.1h0.7M160.5 646.4h0.7M162.2 645.7h0.7M166.6 642.6h0.7M162.1 658.6h0.7M163.9 643.6h0.7M159.1 650.1h0.7M165.1 646.1h0.7M164.9 645.8h0.7M156.8 645.0h0.7M168.3 648.2h0.7M167.2 650.2h0.7M164.4 645.9h0.7M165.8 652.9h0.7M169.8 646.5h0.7M166.9 648.9h0.7M163.1 648.2h0.7M163.4 648.5h0.7M158.3 650.3h0.7M157.0 648.7h0.7M162.6 646.1h0.7M161.3 654.5h0.7M159.8 646.5h0.7M162.5 640.6h0.7M168.2 648.1h0.7M165.2 645.6h0.7M168.0 644.8h0.7M162.6 651.0h0.7M160.4 647.9h0.7M160.4 651.0h0.7M163.8 653.4h0.7M160.1 640.3h0.7M156.2 644.4h0.7M163.8 650.8h0.7M165.6 652.2h0.7M163.6 648.5h0.7M162.7 648.1h0.7M165.0 645.1h0.7M167.5 649.7h0.7M162.8 645.7h0.7M165.0 653.2h0.7M162.6 645.5h0.7M168.6 654.0h0.7M166.3 652.5h0.7M164.2 647.8h0.7M161.0 648.7h0.7M164.5 644.4h0.7M162.7 644.3h0.7M159.1 650.4h0.7M158.3 647.3h0.7M164.2 645.0h0.7M163.3 644.8h0.7M157.3 647.2h0.7M160.7 645.7h0.7M161.6 647.6h0.7M168.0 643.0h0.7M163.1 650.8h0.7M165.8 648.4h0.7M162.2 649.3h0.7M160.3 647.1h0.7M166.7 644.2h0.7M161.5 653.8h0.7M157.2 647.1h0.7M159.7 647.5h0.7M163.3 644.8h0.7M156.3 648.2h0.7M163.2 649.0h0.7M163.3 650.6h0.7M161.7 644.5h0.7M160.0 646.5h0.7M165.2 649.3h0.7M162.6 651.1h0.7M164.1 650.6h0.7M159.5 645.3h0.7M164.1 645.7h0.7M157.5 654.0h0.7M160.8 649.9h0.7M162.5 648.2h0.7M162.0 654.2h0.7M167.2 644.8h0.7M167.7 651.0h0.7M158.6 649.5h0.7M160.0 648.2h0.7M163.6 645.8h0.7M156.8 649.4h0.7M163.7 641.4h0.7M165.4 649.5h0.7M164.1 642.1h0.7M163.8 648.2h0.7M170.5 646.7h0.7M165.6 645.6h0.7M161.1 647.6h0.7M162.3 645.3h0.7M163.3 650.5h0.7M162.8 646.0h0.7M164.0 652.9h0.7M166.6 643.5h0.7M162.8 646.3h0.7M167.6 645.2h0.7M163.3 651.5h0.7M169.0 647.2h0.7M161.5 649.1h0.7M162.5 654.2h0.7M164.5 643.2h0.7M161.9 644.9h0.7M162.3 647.9h0.7M162.7 645.4h0.7M162.6 642.6h0.7M160.4 647.3h0.7M170.0 642.6h0.7M159.6 649.3h0.7M166.3 650.2h0.7M163.0 647.1h0.7M159.8 647.7h0.7M160.2 644.6h0.7M164.8 646.2h0.7M166.2 648.4h0.7M163.3 644.4h0.7M158.8 649.8h0.7M160.1 642.1h0.7M164.4 648.0h0.7M166.1 641.5h0.7M160.6 647.6h0.7M165.8 643.9h0.7M157.9 646.8h0.7M160.9 648.9h0.7M163.3 650.5h0.7M161.9 644.8h0.7M164.6 645.2h0.7M160.0 649.3h0.7M167.9 647.6h0.7M163.2 654.2h0.7M160.3 648.7h0.7M161.4 650.4h0.7M162.0 652.0h0.7M169.3 656.6h0.7M164.3 647.0h0.7M162.0 651.1h0.7M163.1 649.9h0.7M163.0 650.0h0.7M155.1 644.1h0.7M166.3 646.9h0.7M165.8 642.1h0.7M157.7 647.3h0.7M159.9 648.9h0.7M162.0 644.1h0.7M161.3 651.7h0.7M160.7 650.1h0.7M162.0 649.4h0.7M160.9 648.2h0.7M159.2 651.5h0.7M160.6 648.1h0.7M155.7 645.8h0.7M167.6 650.3h0.7M164.0 649.4h0.7M157.1 648.8h0.7M166.3 647.6h0.7M163.7 646.7h0.7M165.7 648.2h0.7M164.9 642.7h0.7M160.2 648.6h0.7M166.3 646.3h0.7M164.6 645.0h0.7M160.9 648.7h0.7M157.9 653.8h0.7M162.1 641.2h0.7M165.9 651.3h0.7M161.5 643.1h0.7M161.0 646.2h0.7M158.5 649.1h0.7M164.6 646.8h0.7M162.7 650.7h0.7M162.9 646.1h0.7M164.2 652.4h0.7M163.3 651.0h0.7M163.6 652.6h0.7M162.0 641.4h0.7M166.3 651.7h0.7M161.1 647.4h0.7M165.0 658.4h0.7M167.8 644.3h0.7M164.2 646.1h0.7M165.0 650.1h0.7M163.8 648.5h0.7M159.6 648.1h0.7M161.5 650.6h0.7M161.4 647.8h0.7M160.1 649.1h0.7M160.3 645.1h0.7M161.5 643.8h0.7M156.5 649.2h0.7M167.4 655.3h0.7M168.7 650.1h0.7M161.5 654.5h0.7M159.6 649.3h0.7M164.2 653.1h0.7M159.8 649.2h0.7M162.6 647.1h0.7M160.6 644.8h0.7M160.5 652.9h0.7M163.9 643.3h0.7M170.6 647.9h0.7M161.5 646.3h0.7M163.0 648.3h0.7M159.3 646.2h0.7M165.8 647.7h0.7M165.5 645.9h0.7M162.3 648.4h0.7M162.4 643.7h0.7M167.7 646.3h0.7M162.9 642.8h0.7M168.9 649.0h0.7M167.8 654.0h0.7M167.5 647.9h0.7M159.4 647.6h0.7M166.8 652.0h0.7M163.3 648.7h0.7M169.7 646.4h0.7M166.0 643.0h0.7M164.2 649.2h0.7M157.6 644.4h0.7M167.3 646.0h0.7M164.3 647.2h0.7M154.2 650.6h0.7M164.5 643.1h0.7M169.1 647.1h0.7M164.6 650.4h0.7M161.2 655.4h0.7M156.4 652.3h0.7M155.4 648.7h0.7M158.0 643.9h0.7M162.4 649.0h0.7M164.7 651.6h0.7M162.8 649.3h0.7M160.6 646.8h0.7M164.2 643.7h0.7M165.5 642.5h0.7M163.1 648.0h0.7M162.6 644.5h0.7M160.7 643.9h0.7M161.6 652.2h0.7M161.5 647.4h0.7M167.4 644.7h0.7M164.7 643.4h0.7M168.3 649.1h0.7M163.5 650.2h0.7M162.1 646.7h0.7M162.6 650.5h0.7M165.4 652.2h0.7M164.7 649.2h0.7M163.1 649.7h0.7M167.7 645.9h0.7M163.8 646.0h0.7M162.1 645.4h0.7M165.5 640.9h0.7M164.2 645.1h0.7M162.2 650.5h0.7M158.8 647.5h0.7M160.3 643.6h0.7M158.7 646.2h0.7M163.4 648.7h0.7M164.6 650.9h0.7M160.9 648.4h0.7M162.1 651.0h0.7M165.1 653.8h0.7M164.3 642.4h0.7M157.0 648.0h0.7M163.4 649.3h0.7M163.4 650.6h0.7M162.2 647.6h0.7M166.5 644.3h0.7M163.7 646.0h0.7M160.4 649.6h0.7M159.9 644.5h0.7M167.9 646.6h0.7M158.6 653.1h0.7M166.3 647.6h0.7M160.7 643.3h0.7M168.7 643.1h0.7M161.8 644.0h0.7M163.3 647.1h0.7M164.3 651.5h0.7M160.0 649.6h0.7M158.1 643.8h0.7M162.9 644.3h0.7M160.5 643.2h0.7M166.9 652.1h0.7M166.1 650.3h0.7M158.1 644.8h0.7M166.1 648.8h0.7M166.8 647.0h0.7M168.9 651.3h0.7M170.5 649.7h0.7M163.0 649.7h0.7M165.7 648.4h0.7M163.6 654.2h0.7M161.1 647.2h0.7M164.8 647.8h0.7M165.0 649.8h0.7M165.1 646.5h0.7M163.4 646.3h0.7M163.2 642.3h0.7M164.8 650.7h0.7M160.1 647.3h0.7M158.2 646.8h0.7M160.8 655.3h0.7M160.0 653.7h0.7M161.5 653.7h0.7M164.4 646.7h0.7M163.1 649.7h0.7M164.0 655.4h0.7M165.2 653.1h0.7M160.2 646.2h0.7M166.3 646.0h0.7M162.7 652.6h0.7M163.8 642.9h0.7M163.3 651.2h0.7M159.8 642.1h0.7M158.9 651.6h0.7M167.0 650.5h0.7M164.3 646.0h0.7M163.8 644.1h0.7M160.5 643.4h0.7M160.7 646.5h0.7M158.5 643.4h0.7M170.9 645.8h0.7M161.3 646.8h0.7M160.5 654.0h0.7M161.7 647.5h0.7M162.4 649.3h0.7M166.7 652.7h0.7M165.8 647.6h0.7M160.2 649.4h0.7M159.5 646.6h0.7M166.1 648.7h0.7M163.4 650.8h0.7M162.8 642.7h0.7M158.4 651.7h0.7M160.1 646.7h0.7M160.1 647.3h0.7M160.0 648.5h0.7M165.0 657.7h0.7M159.9 648.5h0.7M162.2 649.6h0.7M159.1 640.6h0.7M161.2 649.1h0.7M165.0 653.2h0.7M162.0 647.5h0.7M162.7 646.0h0.7M159.9 647.6h0.7M166.7 651.3h0.7M163.0 644.5h0.7M161.3 641.4h0.7M161.1 648.4h0.7M162.6 647.3h0.7M160.9 643.2h0.7M160.5 649.7h0.7M168.1 646.5h0.7M163.0 646.3h0.7M167.3 644.6h0.7M160.7 650.6h0.7M162.1 650.3h0.7M165.8 653.9h0.7M162.6 652.2h0.7M161.8 647.4h0.7M161.7 646.3h0.7M167.5 648.5h0.7M165.3 650.2h0.7M164.3 648.0h0.7M167.8 650.4h0.7M162.4 647.4h0.7M165.3 648.7h0.7M159.2 653.9h0.7M164.8 651.1h0.7M164.6 646.2h0.7M162.8 644.7h0.7M156.7 648.4h0.7M163.2 641.4h0.7M160.5 644.9h0.7M163.2 651.6h0.7M162.9 654.0h0.7M162.2 642.5h0.7M157.4 652.6h0.7M161.9 650.4h0.7M162.5 647.4h0.7M161.6 646.8h0.7M162.5 643.0h0.7M165.8 648.3h0.7M163.1 647.1h0.7M162.5 646.6h0.7M161.8 642.3h0.7M165.0 652.0h0.7M161.1 650.2h0.7M157.3 642.5h0.7M165.9 647.5h0.7M161.0 644.6h0.7M157.9 646.4h0.7M164.2 642.4h0.7M161.9 650.2h0.7M169.1 646.4h0.7M167.4 648.8h0.7M160.3 649.0h0.7M161.2 645.6h0.7M161.1 642.9h0.7M167.4 646.9h0.7M164.5 644.9h0.7M171.5 646.4h0.7M159.5 649.3h0.7M166.0 644.2h0.7M163.8 649.1h0.7M161.2 648.8h0.7M166.0 642.5h0.7M162.7 651.4h0.7M158.5 644.5h0.7M159.2 645.4h0.7M161.7 644.7h0.7M168.2 643.2h0.7M168.3 649.3h0.7M161.4 643.7h0.7M158.1 643.3h0.7M159.4 647.7h0.7M164.6 651.3h0.7M164.8 648.8h0.7M162.1 643.5h0.7M161.2 644.3h0.7M166.3 640.9h0.7M159.5 644.3h0.7M166.2 648.4h0.7M160.1 651.6h0.7M165.9 644.0h0.7M167.3 647.8h0.7M162.1 656.4h0.7M161.9 645.4h0.7M159.7 649.5h0.7M165.6 645.9h0.7M162.7 655.3h0.7M160.7 651.6h0.7M167.1 653.1h0.7M164.6 644.9h0.7M164.4 649.4h0.7M169.7 650.9h0.7" stroke="#000" stroke-opacity="0.55" stroke-width="0.7"/>
<path d="M162.2 646.2h0.7M163.7 648.3h0.7M161.6 647.2h0.7M158.9 650.8h0.7M164.0 652.1h0.7M162.0 647.5h0.7M161.7 648.5h0.7M163.6 648.0h0.7M158.8 646.4h0.7M163.2 647.5h0.7M161.4 650.7h0.7M166.0 647.6h0.7M164.3 646.7h0.7M162.6 644.6h0.7M164.8 645.4h0.7M161.6 649.3h0.7M164.6 647.2h0.7M162.6 649.0h0.7M160.4 645.5h0.7M163.0 649.2h0.7M162.4 649.6h0.7M161.8 649.0h0.7M163.4 646.8h0.7M162.6 644.1h0.7M162.8 648.4h0.7M163.6 645.9h0.7M160.9 644.1h0.7M163.1 648.7h0.7M164.7 646.0h0.7M165.9 645.8h0.7M161.6 647.4h0.7M162.7 646.0h0.7M160.2 646.4h0.7M162.2 649.7h0.7M160.6 649.2h0.7M163.6 646.3h0.7M163.1 645.8h0.7M161.9 646.4h0.7M163.7 647.9h0.7M161.6 649.0h0.7M161.6 646.9h0.7M162.7 650.3h0.7M163.6 646.3h0.7M161.1 645.8h0.7M163.9 647.3h0.7M162.1 645.2h0.7M162.6 644.6h0.7M162.6 653.5h0.7M161.0 646.1h0.7M163.5 646.0h0.7M164.5 644.6h0.7M162.2 645.9h0.7M164.0 649.1h0.7M163.8 645.6h0.7M164.3 644.1h0.7M166.7 647.1h0.7M162.0 646.2h0.7M163.0 646.1h0.7M163.3 650.6h0.7M161.9 648.9h0.7M159.4 646.5h0.7M165.3 649.4h0.7M164.4 650.1h0.7M161.7 647.7h0.7M163.5 645.0h0.7M162.2 647.0h0.7M162.5 646.9h0.7M160.9 648.2h0.7M162.6 651.1h0.7M163.3 647.6h0.7M161.7 648.1h0.7M162.7 644.6h0.7M161.9 649.9h0.7M162.9 644.7h0.7M162.4 647.4h0.7M161.2 648.9h0.7M163.7 646.9h0.7M163.1 648.1h0.7M164.4 648.8h0.7M163.9 647.0h0.7M161.0 648.7h0.7M160.9 647.0h0.7M163.1 649.0h0.7M162.1 648.4h0.7M163.3 647.0h0.7M163.4 645.4h0.7M163.2 645.5h0.7M160.9 648.5h0.7M163.3 648.2h0.7M164.9 649.5h0.7M163.8 644.4h0.7M161.5 648.8h0.7M165.5 647.5h0.7M161.3 648.7h0.7M163.6 645.6h0.7M158.9 647.9h0.7M161.8 644.1h0.7M162.8 646.1h0.7M161.5 648.1h0.7M158.7 645.7h0.7M164.5 648.2h0.7M161.0 643.1h0.7M161.9 647.3h0.7M164.4 646.7h0.7M161.6 643.6h0.7M160.7 646.6h0.7M161.8 647.8h0.7M163.3 650.5h0.7M163.2 645.4h0.7M162.0 645.5h0.7M163.9 646.6h0.7M161.2 649.0h0.7M163.3 646.6h0.7M163.1 650.6h0.7M164.1 649.5h0.7M165.0 643.7h0.7M165.1 647.8h0.7M163.5 650.5h0.7M162.3 643.3h0.7M159.7 646.9h0.7M162.5 646.5h0.7M162.0 646.0h0.7M162.7 649.5h0.7M161.4 646.7h0.7M160.4 646.0h0.7M159.3 644.8h0.7M161.0 644.9h0.7M165.5 648.0h0.7M165.3 647.2h0.7M163.5 644.7h0.7M162.4 645.8h0.7M161.6 644.6h0.7M161.9 645.4h0.7M163.1 646.3h0.7M159.6 647.6h0.7M163.7 646.7h0.7M162.0 645.7h0.7M162.5 649.5h0.7M163.3 647.6h0.7M161.5 649.8h0.7M164.4 648.6h0.7M162.4 645.1h0.7M162.3 646.9h0.7M162.0 648.6h0.7M160.3 644.5h0.7M163.5 646.9h0.7M162.8 649.1h0.7M163.1 649.3h0.7M163.3 646.7h0.7M162.5 646.4h0.7M163.8 646.8h0.7M160.4 648.8h0.7M162.7 645.3h0.7M162.7 647.1h0.7M162.9 648.2h0.7M163.4 650.3h0.7M161.6 644.3h0.7M164.2 648.6h0.7M163.6 648.3h0.7M161.1 647.1h0.7M161.6 645.2h0.7M162.5 648.8h0.7M162.8 647.9h0.7M164.0 646.2h0.7M161.3 646.2h0.7M164.7 646.8h0.7M164.4 648.6h0.7M164.5 647.3h0.7M164.7 647.1h0.7M163.6 650.5h0.7M160.7 647.4h0.7M161.1 649.7h0.7M158.8 649.4h0.7M163.2 649.7h0.7M163.7 650.8h0.7M165.9 645.4h0.7M158.9 651.1h0.7M162.8 650.6h0.7M161.6 646.9h0.7M159.7 646.4h0.7M162.6 650.1h0.7M164.9 646.3h0.7M161.8 645.6h0.7M161.8 650.6h0.7M162.5 647.3h0.7M162.6 647.6h0.7M162.9 647.8h0.7M163.1 645.6h0.7M162.7 646.2h0.7M162.2 648.9h0.7M160.5 646.8h0.7M163.1 649.8h0.7M160.8 644.6h0.7M163.4 648.3h0.7M163.0 648.7h0.7M163.0 647.1h0.7M160.3 649.6h0.7M163.2 649.7h0.7M164.2 648.0h0.7M162.3 646.3h0.7" stroke="#000" stroke-opacity="0.7" stroke-width="0.7"/>
<rect x="153.30" y="609.20" width="39.90" height="56.50" fill="none" stroke="#000" stroke-width="1.0"/>
<line x1="153.30" y1="639.50" x2="193.20" y2="639.50" stroke="#000" stroke-width="1.4"/>
<line x1="170.20" y1="639.50" x2="170.20" y2="665.70" stroke="#000" stroke-width="1.4"/>
<line x1="130.40" y1="588.50" x2="130.40" y2="672.80" stroke="#000" stroke-width="1.1"/>
<line x1="130.40" y1="672.80" x2="213.80" y2="672.80" stroke="#000" stroke-width="1.1"/>
<text x="126.00" y="628.00" font-size="8.8" font-weight="bold" fill="#000" color="#000" text-anchor="middle" textLength="20.5" lengthAdjust="spacingAndGlyphs" transform="rotate(-90 126.00 628.00)">BrdU</text>
<text x="172.60" y="682.00" font-size="9.0" font-weight="bold" fill="#000" color="#000" text-anchor="middle">PI</text>
<text x="195.90" y="620.60" font-size="7.6" font-weight="bold" fill="#000" color="#000" text-anchor="start">S</text>
<text x="132.30" y="659.50" font-size="7.6" font-weight="bold" fill="#000" color="#000" text-anchor="start" textLength="21" lengthAdjust="spacingAndGlyphs">G0/G1</text>
<text x="194.80" y="659.50" font-size="7.6" font-weight="bold" fill="#000" color="#000" text-anchor="start" textLength="17.2" lengthAdjust="spacingAndGlyphs">G2/M</text>
<line x1="263.85" y1="611.22" x2="263.85" y2="616.32" stroke="#000" stroke-width="1.0"/>
<line x1="261.65" y1="611.22" x2="266.05" y2="611.22" stroke="#000" stroke-width="1.0"/>
<rect x="259.40" y="613.37" width="8.90" height="59.03" fill="#fff" stroke="none" stroke-width="1"/>
<line x1="263.85" y1="613.37" x2="263.85" y2="616.32" stroke="#000" stroke-width="1.0"/>
<line x1="261.65" y1="616.32" x2="266.05" y2="616.32" stroke="#000" stroke-width="1.0"/>
<rect x="259.40" y="613.37" width="8.90" height="59.03" fill="none" stroke="#000" stroke-width="1.4"/>
<line x1="276.10" y1="591.64" x2="276.10" y2="598.78" stroke="#000" stroke-width="1.0"/>
<line x1="273.90" y1="591.64" x2="278.30" y2="591.64" stroke="#000" stroke-width="1.0"/>
<rect x="272.10" y="594.90" width="8.00" height="77.50" fill="url(#hatch)" stroke="none" stroke-width="1"/>
<line x1="276.10" y1="594.90" x2="276.10" y2="598.78" stroke="#000" stroke-width="1.0"/>
<line x1="273.90" y1="598.78" x2="278.30" y2="598.78" stroke="#000" stroke-width="1.0"/>
<rect x="272.10" y="594.90" width="8.00" height="77.50" fill="none" stroke="#000" stroke-width="1.4"/>
<line x1="298.20" y1="654.99" x2="298.20" y2="659.85" stroke="#000" stroke-width="1.0"/>
<line x1="296.00" y1="654.99" x2="300.40" y2="654.99" stroke="#000" stroke-width="1.0"/>
<rect x="294.00" y="657.55" width="8.40" height="14.85" fill="#fff" stroke="none" stroke-width="1"/>
<line x1="298.20" y1="657.55" x2="298.20" y2="659.85" stroke="#000" stroke-width="1.0"/>
<line x1="296.00" y1="659.85" x2="300.40" y2="659.85" stroke="#000" stroke-width="1.0"/>
<rect x="294.00" y="657.55" width="8.40" height="14.85" fill="none" stroke="#000" stroke-width="1.4"/>
<line x1="310.55" y1="643.51" x2="310.55" y2="651.75" stroke="#000" stroke-width="1.0"/>
<line x1="308.35" y1="643.51" x2="312.75" y2="643.51" stroke="#000" stroke-width="1.0"/>
<rect x="306.60" y="647.69" width="7.90" height="24.71" fill="url(#hatch)" stroke="none" stroke-width="1"/>
<line x1="310.55" y1="647.69" x2="310.55" y2="651.75" stroke="#000" stroke-width="1.0"/>
<line x1="308.35" y1="651.75" x2="312.75" y2="651.75" stroke="#000" stroke-width="1.0"/>
<rect x="306.60" y="647.69" width="7.90" height="24.71" fill="none" stroke="#000" stroke-width="1.4"/>
<line x1="332.20" y1="634.06" x2="332.20" y2="644.45" stroke="#000" stroke-width="1.0"/>
<line x1="330.00" y1="634.06" x2="334.40" y2="634.06" stroke="#000" stroke-width="1.0"/>
<rect x="328.10" y="639.05" width="8.20" height="33.35" fill="#fff" stroke="none" stroke-width="1"/>
<line x1="332.20" y1="639.05" x2="332.20" y2="644.45" stroke="#000" stroke-width="1.0"/>
<line x1="330.00" y1="644.45" x2="334.40" y2="644.45" stroke="#000" stroke-width="1.0"/>
<rect x="328.10" y="639.05" width="8.20" height="33.35" fill="none" stroke="#000" stroke-width="1.4"/>
<line x1="344.20" y1="669.43" x2="344.20" y2="670.78" stroke="#000" stroke-width="1.0"/>
<line x1="342.00" y1="669.43" x2="346.40" y2="669.43" stroke="#000" stroke-width="1.0"/>
<rect x="340.30" y="670.11" width="7.80" height="2.29" fill="url(#hatch)" stroke="none" stroke-width="1"/>
<line x1="344.20" y1="670.11" x2="344.20" y2="670.78" stroke="#000" stroke-width="1.0"/>
<line x1="342.00" y1="670.78" x2="346.40" y2="670.78" stroke="#000" stroke-width="1.0"/>
<rect x="340.30" y="670.11" width="7.80" height="2.29" fill="none" stroke="#000" stroke-width="1.4"/>
<rect x="254.50" y="625.90" width="30.00" height="5.40" fill="#fff" stroke="none" stroke-width="1"/>
<line x1="253.60" y1="584.40" x2="253.60" y2="625.40" stroke="#000" stroke-width="1.1"/>
<line x1="253.60" y1="631.90" x2="253.60" y2="672.50" stroke="#000" stroke-width="1.1"/>
<line x1="253.60" y1="672.50" x2="358.80" y2="672.50" stroke="#000" stroke-width="1.1"/>
<line x1="251.00" y1="584.50" x2="253.60" y2="584.50" stroke="#000" stroke-width="1.0"/>
<text x="250.30" y="587.30" font-size="6.6" font-weight="bold" fill="#000" color="#000" text-anchor="end" textLength="6.97" lengthAdjust="spacingAndGlyphs">90</text>
<line x1="252.00" y1="605.00" x2="253.60" y2="605.00" stroke="#000" stroke-width="1.0"/>
<line x1="251.00" y1="625.30" x2="253.60" y2="625.30" stroke="#000" stroke-width="1.0"/>
<text x="250.30" y="626.90" font-size="6.6" font-weight="bold" fill="#000" color="#000" text-anchor="end" textLength="6.97" lengthAdjust="spacingAndGlyphs">50</text>
<line x1="251.00" y1="631.90" x2="253.60" y2="631.90" stroke="#000" stroke-width="1.0"/>
<text x="250.30" y="635.40" font-size="6.6" font-weight="bold" fill="#000" color="#000" text-anchor="end" textLength="6.97" lengthAdjust="spacingAndGlyphs">30</text>
<line x1="252.00" y1="645.40" x2="253.60" y2="645.40" stroke="#000" stroke-width="1.0"/>
<line x1="252.00" y1="659.00" x2="253.60" y2="659.00" stroke="#000" stroke-width="1.0"/>
<line x1="251.00" y1="672.40" x2="253.60" y2="672.40" stroke="#000" stroke-width="1.0"/>
<text x="250.30" y="674.80" font-size="6.6" font-weight="bold" fill="#000" color="#000" text-anchor="end" textLength="3.49" lengthAdjust="spacingAndGlyphs">0</text>
<line x1="286.80" y1="672.50" x2="286.80" y2="675.20" stroke="#000" stroke-width="1.0"/>
<line x1="322.40" y1="672.50" x2="322.40" y2="675.20" stroke="#000" stroke-width="1.0"/>
<text x="270.20" y="681.60" font-size="7.8" font-weight="bold" fill="#000" color="#000" text-anchor="middle" textLength="21.5" lengthAdjust="spacingAndGlyphs">G0/G1</text>
<text x="304.30" y="681.60" font-size="7.8" font-weight="bold" fill="#000" color="#000" text-anchor="middle">S</text>
<text x="338.00" y="681.60" font-size="7.8" font-weight="bold" fill="#000" color="#000" text-anchor="middle" textLength="19.5" lengthAdjust="spacingAndGlyphs">G2/M</text>
<polyline points="263.1,587.9 263.1,585.6 275.8,585.6 275.8,587.9" fill="none" stroke="#000" stroke-width="0.9"/>
<text x="269.45" y="588.60" font-size="13.5" font-weight="bold" fill="#000" color="#000" text-anchor="middle">**</text>
<polyline points="296.8,587.9 296.8,585.6 310.0,585.6 310.0,587.9" fill="none" stroke="#000" stroke-width="0.9"/>
<text x="303.40" y="588.40" font-size="13.5" font-weight="bold" fill="#000" color="#000" text-anchor="middle">*</text>
<polyline points="331.5,587.9 331.5,585.6 344.8,585.6 344.8,587.9" fill="none" stroke="#000" stroke-width="0.9"/>
<text x="338.15" y="588.20" font-size="13.5" font-weight="bold" fill="#000" color="#000" text-anchor="middle">**</text>
<text x="228.30" y="629.40" font-size="8.0" font-weight="bold" fill="#000" color="#000" text-anchor="middle" textLength="81" lengthAdjust="spacingAndGlyphs" transform="rotate(-90 228.30 629.40)">% of cells in different</text>
<text x="236.20" y="629.70" font-size="8.0" font-weight="bold" fill="#000" color="#000" text-anchor="middle" textLength="65.8" lengthAdjust="spacingAndGlyphs" transform="rotate(-90 236.20 629.70)">cell cycle phases</text>
<rect x="361.30" y="590.20" width="9.80" height="4.80" fill="#fff" stroke="#000" stroke-width="1.1"/>
<text x="375.00" y="596.00" font-size="8.4" font-weight="bold" fill="#000" color="#000" text-anchor="start" textLength="47" lengthAdjust="spacingAndGlyphs">Supernatant</text>
<rect x="361.30" y="600.90" width="9.80" height="4.80" fill="url(#hatch)" stroke="#000" stroke-width="1.1"/>
<text x="375.00" y="605.80" font-size="8.4" font-weight="bold" fill="#000" color="#000" text-anchor="start" textLength="33.5" lengthAdjust="spacingAndGlyphs">Attached</text>
</svg></body></html>
